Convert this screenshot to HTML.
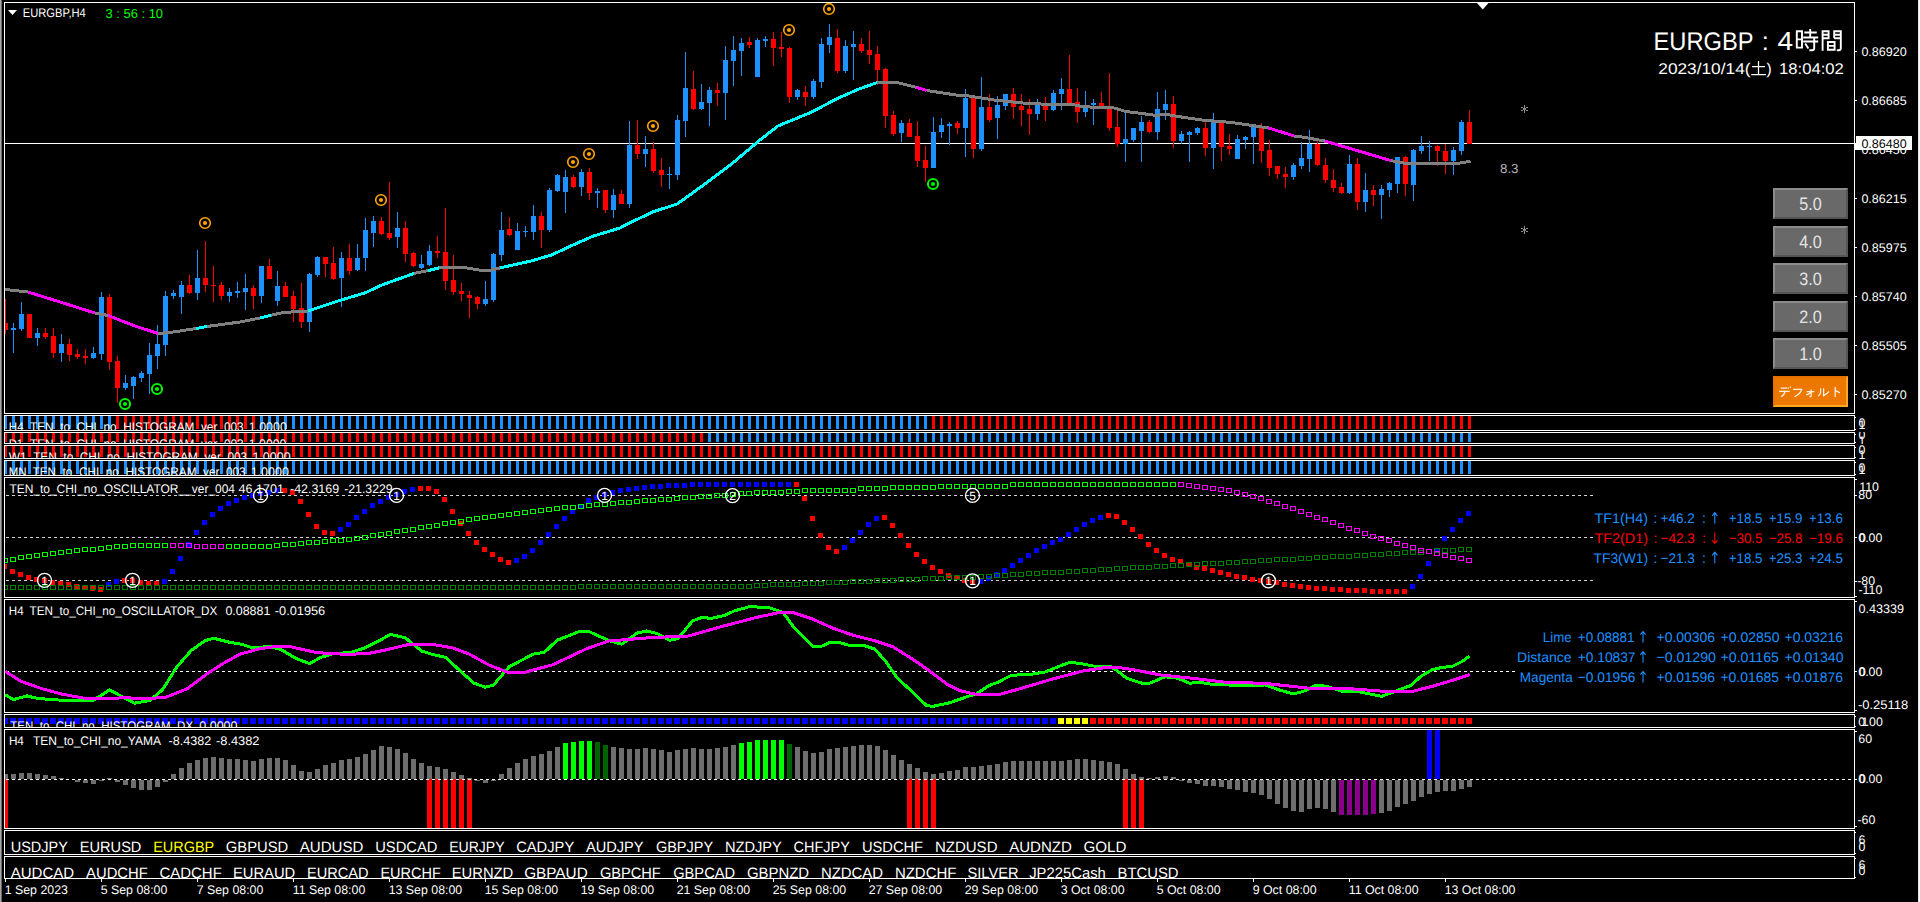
<!DOCTYPE html><html><head><meta charset="utf-8"><title>EURGBP,H4</title><style>html,body{margin:0;padding:0;background:#000;width:1920px;height:902px;overflow:hidden}</style></head><body><svg width="1920" height="902" viewBox="0 0 1920 902" style="display:block;font-family:'Liberation Sans',sans-serif" shape-rendering="crispEdges" text-rendering="geometricPrecision">
<rect x="0" y="0" width="1920" height="902" fill="#000" />
<rect x="0" y="0" width="1" height="902" fill="#A9A9A9" />
<rect x="1" y="0" width="1" height="902" fill="#696969" />
<rect x="1918" y="0" width="1" height="902" fill="#E3E3E3" />
<rect x="1919" y="0" width="1" height="902" fill="#FFFFFF" />
<defs>
<clipPath id="c_main"><rect x="5" y="3" width="1849" height="410"/></clipPath>
<clipPath id="s_main"><rect x="1855" y="2" width="64" height="412"/></clipPath>
<clipPath id="c_h4"><rect x="5" y="416" width="1849" height="14"/></clipPath>
<clipPath id="s_h4"><rect x="1855" y="415" width="64" height="16"/></clipPath>
<clipPath id="c_d1"><rect x="5" y="433" width="1849" height="10"/></clipPath>
<clipPath id="s_d1"><rect x="1855" y="432" width="64" height="12"/></clipPath>
<clipPath id="c_w1"><rect x="5" y="446" width="1849" height="12"/></clipPath>
<clipPath id="s_w1"><rect x="1855" y="445" width="64" height="14"/></clipPath>
<clipPath id="c_mn"><rect x="5" y="461" width="1849" height="14"/></clipPath>
<clipPath id="s_mn"><rect x="1855" y="460" width="64" height="16"/></clipPath>
<clipPath id="c_osc"><rect x="5" y="478" width="1849" height="119"/></clipPath>
<clipPath id="s_osc"><rect x="1855" y="477" width="64" height="121"/></clipPath>
<clipPath id="c_dx"><rect x="5" y="600" width="1849" height="112"/></clipPath>
<clipPath id="s_dx"><rect x="1855" y="599" width="64" height="114"/></clipPath>
<clipPath id="c_hdx"><rect x="5" y="715" width="1849" height="12"/></clipPath>
<clipPath id="s_hdx"><rect x="1855" y="714" width="64" height="14"/></clipPath>
<clipPath id="c_yama"><rect x="5" y="730" width="1849" height="98"/></clipPath>
<clipPath id="s_yama"><rect x="1855" y="729" width="64" height="100"/></clipPath>
<clipPath id="c_p1"><rect x="5" y="831" width="1849" height="23"/></clipPath>
<clipPath id="s_p1"><rect x="1855" y="830" width="64" height="25"/></clipPath>
<clipPath id="c_p2"><rect x="5" y="857" width="1849" height="21"/></clipPath>
<clipPath id="s_p2"><rect x="1855" y="856" width="64" height="23"/></clipPath>
</defs>
<g clip-path="url(#c_main)">
<rect x="5" y="143" width="1849" height="1" fill="#fff" />
<rect x="5" y="299" width="1" height="35" fill="#FF0000" />
<rect x="3" y="323" width="5" height="7" fill="#FF0000" />
<rect x="13" y="323" width="1" height="30" fill="#1E90FF" />
<rect x="11" y="328" width="5" height="2" fill="#1E90FF" />
<rect x="21" y="302" width="1" height="29" fill="#1E90FF" />
<rect x="19" y="314" width="5" height="15" fill="#1E90FF" />
<rect x="29" y="314" width="1" height="24" fill="#FF0000" />
<rect x="27" y="314" width="5" height="24" fill="#FF0000" />
<rect x="37" y="328" width="1" height="18" fill="#1E90FF" />
<rect x="35" y="333" width="5" height="5" fill="#1E90FF" />
<rect x="45" y="328" width="1" height="11" fill="#FF0000" />
<rect x="43" y="333" width="5" height="4" fill="#FF0000" />
<rect x="53" y="328" width="1" height="30" fill="#FF0000" />
<rect x="51" y="336" width="5" height="17" fill="#FF0000" />
<rect x="61" y="334" width="1" height="28" fill="#1E90FF" />
<rect x="59" y="344" width="5" height="9" fill="#1E90FF" />
<rect x="69" y="339" width="1" height="22" fill="#FF0000" />
<rect x="67" y="344" width="5" height="11" fill="#FF0000" />
<rect x="77" y="349" width="1" height="10" fill="#FF0000" />
<rect x="75" y="354" width="5" height="3" fill="#FF0000" />
<rect x="85" y="349" width="1" height="15" fill="#FF0000" />
<rect x="83" y="356" width="5" height="2" fill="#FF0000" />
<rect x="93" y="347" width="1" height="12" fill="#1E90FF" />
<rect x="91" y="353" width="5" height="5" fill="#1E90FF" />
<rect x="101" y="292" width="1" height="68" fill="#1E90FF" />
<rect x="99" y="297" width="5" height="57" fill="#1E90FF" />
<rect x="109" y="294" width="1" height="76" fill="#FF0000" />
<rect x="107" y="297" width="5" height="65" fill="#FF0000" />
<rect x="117" y="356" width="1" height="47" fill="#FF0000" />
<rect x="115" y="361" width="5" height="27" fill="#FF0000" />
<rect x="125" y="375" width="1" height="15" fill="#1E90FF" />
<rect x="123" y="383" width="5" height="5" fill="#1E90FF" />
<rect x="133" y="376" width="1" height="23" fill="#1E90FF" />
<rect x="131" y="377" width="5" height="9" fill="#1E90FF" />
<rect x="141" y="371" width="1" height="11" fill="#1E90FF" />
<rect x="139" y="373" width="5" height="5" fill="#1E90FF" />
<rect x="149" y="343" width="1" height="51" fill="#1E90FF" />
<rect x="147" y="355" width="5" height="19" fill="#1E90FF" />
<rect x="157" y="325" width="1" height="44" fill="#1E90FF" />
<rect x="155" y="344" width="5" height="12" fill="#1E90FF" />
<rect x="165" y="291" width="1" height="65" fill="#1E90FF" />
<rect x="163" y="296" width="5" height="49" fill="#1E90FF" />
<rect x="173" y="290" width="1" height="9" fill="#1E90FF" />
<rect x="171" y="293" width="5" height="3" fill="#1E90FF" />
<rect x="181" y="281" width="1" height="33" fill="#1E90FF" />
<rect x="179" y="285" width="5" height="12" fill="#1E90FF" />
<rect x="189" y="275" width="1" height="19" fill="#FF0000" />
<rect x="187" y="285" width="5" height="8" fill="#FF0000" />
<rect x="197" y="250" width="1" height="50" fill="#1E90FF" />
<rect x="195" y="278" width="5" height="15" fill="#1E90FF" />
<rect x="205" y="241" width="1" height="51" fill="#FF0000" />
<rect x="203" y="278" width="5" height="7" fill="#FF0000" />
<rect x="213" y="266" width="1" height="36" fill="#FF0000" />
<rect x="211" y="285" width="5" height="1" fill="#FF0000" />
<rect x="221" y="282" width="1" height="18" fill="#FF0000" />
<rect x="219" y="285" width="5" height="11" fill="#FF0000" />
<rect x="229" y="288" width="1" height="14" fill="#1E90FF" />
<rect x="227" y="292" width="5" height="4" fill="#1E90FF" />
<rect x="237" y="282" width="1" height="16" fill="#1E90FF" />
<rect x="235" y="291" width="5" height="2" fill="#1E90FF" />
<rect x="245" y="274" width="1" height="36" fill="#1E90FF" />
<rect x="243" y="288" width="5" height="4" fill="#1E90FF" />
<rect x="253" y="285" width="1" height="24" fill="#FF0000" />
<rect x="251" y="288" width="5" height="8" fill="#FF0000" />
<rect x="261" y="266" width="1" height="37" fill="#1E90FF" />
<rect x="259" y="266" width="5" height="30" fill="#1E90FF" />
<rect x="269" y="259" width="1" height="20" fill="#FF0000" />
<rect x="267" y="266" width="5" height="13" fill="#FF0000" />
<rect x="277" y="271" width="1" height="35" fill="#1E90FF" />
<rect x="275" y="286" width="5" height="15" fill="#1E90FF" />
<rect x="285" y="282" width="1" height="15" fill="#FF0000" />
<rect x="283" y="286" width="5" height="11" fill="#FF0000" />
<rect x="293" y="291" width="1" height="31" fill="#FF0000" />
<rect x="291" y="296" width="5" height="13" fill="#FF0000" />
<rect x="301" y="283" width="1" height="45" fill="#FF0000" />
<rect x="299" y="308" width="5" height="14" fill="#FF0000" />
<rect x="309" y="273" width="1" height="59" fill="#1E90FF" />
<rect x="307" y="274" width="5" height="48" fill="#1E90FF" />
<rect x="317" y="256" width="1" height="21" fill="#1E90FF" />
<rect x="315" y="257" width="5" height="18" fill="#1E90FF" />
<rect x="325" y="257" width="1" height="20" fill="#FF0000" />
<rect x="323" y="257" width="5" height="7" fill="#FF0000" />
<rect x="333" y="247" width="1" height="33" fill="#FF0000" />
<rect x="331" y="263" width="5" height="16" fill="#FF0000" />
<rect x="341" y="252" width="1" height="55" fill="#1E90FF" />
<rect x="339" y="258" width="5" height="20" fill="#1E90FF" />
<rect x="349" y="244" width="1" height="31" fill="#FF0000" />
<rect x="347" y="258" width="5" height="13" fill="#FF0000" />
<rect x="357" y="244" width="1" height="27" fill="#1E90FF" />
<rect x="355" y="258" width="5" height="12" fill="#1E90FF" />
<rect x="365" y="218" width="1" height="53" fill="#1E90FF" />
<rect x="363" y="230" width="5" height="28" fill="#1E90FF" />
<rect x="373" y="216" width="1" height="31" fill="#1E90FF" />
<rect x="371" y="221" width="5" height="12" fill="#1E90FF" />
<rect x="381" y="217" width="1" height="18" fill="#FF0000" />
<rect x="379" y="221" width="5" height="13" fill="#FF0000" />
<rect x="389" y="182" width="1" height="58" fill="#FF0000" />
<rect x="387" y="233" width="5" height="5" fill="#FF0000" />
<rect x="397" y="212" width="1" height="36" fill="#1E90FF" />
<rect x="395" y="228" width="5" height="9" fill="#1E90FF" />
<rect x="405" y="221" width="1" height="41" fill="#FF0000" />
<rect x="403" y="228" width="5" height="26" fill="#FF0000" />
<rect x="413" y="252" width="1" height="15" fill="#FF0000" />
<rect x="411" y="253" width="5" height="13" fill="#FF0000" />
<rect x="421" y="255" width="1" height="14" fill="#1E90FF" />
<rect x="419" y="264" width="5" height="4" fill="#1E90FF" />
<rect x="429" y="245" width="1" height="21" fill="#1E90FF" />
<rect x="427" y="251" width="5" height="14" fill="#1E90FF" />
<rect x="437" y="236" width="1" height="22" fill="#FF0000" />
<rect x="435" y="251" width="5" height="2" fill="#FF0000" />
<rect x="445" y="208" width="1" height="82" fill="#FF0000" />
<rect x="443" y="252" width="5" height="29" fill="#FF0000" />
<rect x="453" y="255" width="1" height="40" fill="#FF0000" />
<rect x="451" y="280" width="5" height="12" fill="#FF0000" />
<rect x="461" y="283" width="1" height="18" fill="#FF0000" />
<rect x="459" y="291" width="5" height="3" fill="#FF0000" />
<rect x="469" y="291" width="1" height="27" fill="#FF0000" />
<rect x="467" y="295" width="5" height="3" fill="#FF0000" />
<rect x="477" y="296" width="1" height="13" fill="#FF0000" />
<rect x="475" y="297" width="5" height="7" fill="#FF0000" />
<rect x="485" y="281" width="1" height="25" fill="#1E90FF" />
<rect x="483" y="299" width="5" height="5" fill="#1E90FF" />
<rect x="493" y="253" width="1" height="49" fill="#1E90FF" />
<rect x="491" y="254" width="5" height="46" fill="#1E90FF" />
<rect x="501" y="212" width="1" height="49" fill="#1E90FF" />
<rect x="499" y="230" width="5" height="25" fill="#1E90FF" />
<rect x="509" y="217" width="1" height="19" fill="#FF0000" />
<rect x="507" y="229" width="5" height="6" fill="#FF0000" />
<rect x="517" y="223" width="1" height="27" fill="#1E90FF" />
<rect x="515" y="231" width="5" height="19" fill="#1E90FF" />
<rect x="525" y="226" width="1" height="11" fill="#1E90FF" />
<rect x="523" y="231" width="5" height="1" fill="#1E90FF" />
<rect x="533" y="205" width="1" height="35" fill="#1E90FF" />
<rect x="531" y="216" width="5" height="16" fill="#1E90FF" />
<rect x="541" y="212" width="1" height="36" fill="#FF0000" />
<rect x="539" y="216" width="5" height="14" fill="#FF0000" />
<rect x="549" y="188" width="1" height="44" fill="#1E90FF" />
<rect x="547" y="190" width="5" height="40" fill="#1E90FF" />
<rect x="557" y="174" width="1" height="18" fill="#1E90FF" />
<rect x="555" y="175" width="5" height="16" fill="#1E90FF" />
<rect x="565" y="170" width="1" height="43" fill="#1E90FF" />
<rect x="563" y="177" width="5" height="15" fill="#1E90FF" />
<rect x="573" y="175" width="1" height="13" fill="#FF0000" />
<rect x="571" y="177" width="5" height="10" fill="#FF0000" />
<rect x="581" y="169" width="1" height="27" fill="#1E90FF" />
<rect x="579" y="172" width="5" height="15" fill="#1E90FF" />
<rect x="589" y="168" width="1" height="32" fill="#FF0000" />
<rect x="587" y="172" width="5" height="21" fill="#FF0000" />
<rect x="597" y="188" width="1" height="20" fill="#1E90FF" />
<rect x="595" y="191" width="5" height="2" fill="#1E90FF" />
<rect x="605" y="190" width="1" height="23" fill="#FF0000" />
<rect x="603" y="190" width="5" height="20" fill="#FF0000" />
<rect x="613" y="189" width="1" height="29" fill="#1E90FF" />
<rect x="611" y="195" width="5" height="15" fill="#1E90FF" />
<rect x="621" y="190" width="1" height="14" fill="#FF0000" />
<rect x="619" y="194" width="5" height="10" fill="#FF0000" />
<rect x="629" y="121" width="1" height="87" fill="#1E90FF" />
<rect x="627" y="145" width="5" height="59" fill="#1E90FF" />
<rect x="637" y="120" width="1" height="39" fill="#FF0000" />
<rect x="635" y="145" width="5" height="9" fill="#FF0000" />
<rect x="645" y="136" width="1" height="31" fill="#1E90FF" />
<rect x="643" y="149" width="5" height="5" fill="#1E90FF" />
<rect x="653" y="142" width="1" height="31" fill="#FF0000" />
<rect x="651" y="149" width="5" height="22" fill="#FF0000" />
<rect x="661" y="158" width="1" height="29" fill="#FF0000" />
<rect x="659" y="170" width="5" height="5" fill="#FF0000" />
<rect x="669" y="167" width="1" height="22" fill="#1E90FF" />
<rect x="667" y="174" width="5" height="1" fill="#1E90FF" />
<rect x="677" y="115" width="1" height="65" fill="#1E90FF" />
<rect x="675" y="120" width="5" height="55" fill="#1E90FF" />
<rect x="685" y="52" width="1" height="85" fill="#1E90FF" />
<rect x="683" y="88" width="5" height="33" fill="#1E90FF" />
<rect x="693" y="71" width="1" height="39" fill="#FF0000" />
<rect x="691" y="89" width="5" height="20" fill="#FF0000" />
<rect x="701" y="84" width="1" height="26" fill="#1E90FF" />
<rect x="699" y="102" width="5" height="7" fill="#1E90FF" />
<rect x="709" y="87" width="1" height="39" fill="#1E90FF" />
<rect x="707" y="90" width="5" height="13" fill="#1E90FF" />
<rect x="717" y="83" width="1" height="23" fill="#FF0000" />
<rect x="715" y="90" width="5" height="3" fill="#FF0000" />
<rect x="725" y="46" width="1" height="74" fill="#1E90FF" />
<rect x="723" y="60" width="5" height="33" fill="#1E90FF" />
<rect x="733" y="36" width="1" height="50" fill="#1E90FF" />
<rect x="731" y="50" width="5" height="11" fill="#1E90FF" />
<rect x="741" y="38" width="1" height="38" fill="#1E90FF" />
<rect x="739" y="43" width="5" height="8" fill="#1E90FF" />
<rect x="749" y="37" width="1" height="11" fill="#FF0000" />
<rect x="747" y="42" width="5" height="3" fill="#FF0000" />
<rect x="757" y="38" width="1" height="39" fill="#1E90FF" />
<rect x="755" y="40" width="5" height="37" fill="#1E90FF" />
<rect x="765" y="36" width="1" height="11" fill="#1E90FF" />
<rect x="763" y="39" width="5" height="2" fill="#1E90FF" />
<rect x="773" y="32" width="1" height="34" fill="#FF0000" />
<rect x="771" y="39" width="5" height="9" fill="#FF0000" />
<rect x="781" y="32" width="1" height="25" fill="#FF0000" />
<rect x="779" y="47" width="5" height="2" fill="#FF0000" />
<rect x="789" y="47" width="1" height="56" fill="#FF0000" />
<rect x="787" y="48" width="5" height="49" fill="#FF0000" />
<rect x="797" y="89" width="1" height="11" fill="#1E90FF" />
<rect x="795" y="90" width="5" height="7" fill="#1E90FF" />
<rect x="805" y="86" width="1" height="20" fill="#FF0000" />
<rect x="803" y="92" width="5" height="5" fill="#FF0000" />
<rect x="813" y="79" width="1" height="20" fill="#1E90FF" />
<rect x="811" y="81" width="5" height="16" fill="#1E90FF" />
<rect x="821" y="38" width="1" height="50" fill="#1E90FF" />
<rect x="819" y="44" width="5" height="38" fill="#1E90FF" />
<rect x="829" y="24" width="1" height="29" fill="#1E90FF" />
<rect x="827" y="37" width="5" height="8" fill="#1E90FF" />
<rect x="837" y="29" width="1" height="44" fill="#FF0000" />
<rect x="835" y="38" width="5" height="33" fill="#FF0000" />
<rect x="845" y="40" width="1" height="33" fill="#1E90FF" />
<rect x="843" y="46" width="5" height="25" fill="#1E90FF" />
<rect x="853" y="31" width="1" height="49" fill="#1E90FF" />
<rect x="851" y="44" width="5" height="3" fill="#1E90FF" />
<rect x="861" y="38" width="1" height="15" fill="#FF0000" />
<rect x="859" y="44" width="5" height="7" fill="#FF0000" />
<rect x="869" y="31" width="1" height="33" fill="#FF0000" />
<rect x="867" y="50" width="5" height="5" fill="#FF0000" />
<rect x="877" y="46" width="1" height="39" fill="#FF0000" />
<rect x="875" y="54" width="5" height="16" fill="#FF0000" />
<rect x="885" y="68" width="1" height="60" fill="#FF0000" />
<rect x="883" y="69" width="5" height="47" fill="#FF0000" />
<rect x="893" y="111" width="1" height="25" fill="#FF0000" />
<rect x="891" y="115" width="5" height="19" fill="#FF0000" />
<rect x="901" y="120" width="1" height="22" fill="#1E90FF" />
<rect x="899" y="123" width="5" height="10" fill="#1E90FF" />
<rect x="909" y="119" width="1" height="18" fill="#FF0000" />
<rect x="907" y="123" width="5" height="14" fill="#FF0000" />
<rect x="917" y="121" width="1" height="46" fill="#FF0000" />
<rect x="915" y="136" width="5" height="25" fill="#FF0000" />
<rect x="925" y="146" width="1" height="36" fill="#FF0000" />
<rect x="923" y="160" width="5" height="8" fill="#FF0000" />
<rect x="933" y="117" width="1" height="51" fill="#1E90FF" />
<rect x="931" y="132" width="5" height="36" fill="#1E90FF" />
<rect x="941" y="118" width="1" height="20" fill="#1E90FF" />
<rect x="939" y="125" width="5" height="7" fill="#1E90FF" />
<rect x="949" y="122" width="1" height="23" fill="#1E90FF" />
<rect x="947" y="124" width="5" height="2" fill="#1E90FF" />
<rect x="957" y="121" width="1" height="13" fill="#FF0000" />
<rect x="955" y="123" width="5" height="5" fill="#FF0000" />
<rect x="965" y="89" width="1" height="68" fill="#1E90FF" />
<rect x="963" y="98" width="5" height="30" fill="#1E90FF" />
<rect x="973" y="98" width="1" height="60" fill="#FF0000" />
<rect x="971" y="98" width="5" height="51" fill="#FF0000" />
<rect x="981" y="77" width="1" height="74" fill="#1E90FF" />
<rect x="979" y="107" width="5" height="42" fill="#1E90FF" />
<rect x="989" y="94" width="1" height="28" fill="#FF0000" />
<rect x="987" y="107" width="5" height="13" fill="#FF0000" />
<rect x="997" y="96" width="1" height="43" fill="#1E90FF" />
<rect x="995" y="105" width="5" height="13" fill="#1E90FF" />
<rect x="1005" y="94" width="1" height="16" fill="#1E90FF" />
<rect x="1003" y="94" width="5" height="12" fill="#1E90FF" />
<rect x="1013" y="88" width="1" height="31" fill="#FF0000" />
<rect x="1011" y="94" width="5" height="13" fill="#FF0000" />
<rect x="1021" y="94" width="1" height="32" fill="#FF0000" />
<rect x="1019" y="106" width="5" height="4" fill="#FF0000" />
<rect x="1029" y="99" width="1" height="36" fill="#FF0000" />
<rect x="1027" y="109" width="5" height="5" fill="#FF0000" />
<rect x="1037" y="99" width="1" height="21" fill="#1E90FF" />
<rect x="1035" y="105" width="5" height="9" fill="#1E90FF" />
<rect x="1045" y="97" width="1" height="24" fill="#FF0000" />
<rect x="1043" y="105" width="5" height="5" fill="#FF0000" />
<rect x="1053" y="90" width="1" height="21" fill="#1E90FF" />
<rect x="1051" y="93" width="5" height="17" fill="#1E90FF" />
<rect x="1061" y="78" width="1" height="32" fill="#1E90FF" />
<rect x="1059" y="89" width="5" height="5" fill="#1E90FF" />
<rect x="1069" y="55" width="1" height="49" fill="#FF0000" />
<rect x="1067" y="89" width="5" height="15" fill="#FF0000" />
<rect x="1077" y="88" width="1" height="35" fill="#FF0000" />
<rect x="1075" y="102" width="5" height="10" fill="#FF0000" />
<rect x="1085" y="91" width="1" height="26" fill="#1E90FF" />
<rect x="1083" y="107" width="5" height="5" fill="#1E90FF" />
<rect x="1093" y="99" width="1" height="26" fill="#1E90FF" />
<rect x="1091" y="103" width="5" height="2" fill="#1E90FF" />
<rect x="1101" y="92" width="1" height="14" fill="#FF0000" />
<rect x="1099" y="103" width="5" height="3" fill="#FF0000" />
<rect x="1109" y="73" width="1" height="58" fill="#FF0000" />
<rect x="1107" y="107" width="5" height="21" fill="#FF0000" />
<rect x="1117" y="111" width="1" height="36" fill="#FF0000" />
<rect x="1115" y="127" width="5" height="17" fill="#FF0000" />
<rect x="1125" y="113" width="1" height="49" fill="#1E90FF" />
<rect x="1123" y="139" width="5" height="5" fill="#1E90FF" />
<rect x="1133" y="128" width="1" height="14" fill="#1E90FF" />
<rect x="1131" y="128" width="5" height="12" fill="#1E90FF" />
<rect x="1141" y="116" width="1" height="46" fill="#1E90FF" />
<rect x="1139" y="122" width="5" height="9" fill="#1E90FF" />
<rect x="1149" y="120" width="1" height="13" fill="#FF0000" />
<rect x="1147" y="122" width="5" height="10" fill="#FF0000" />
<rect x="1157" y="92" width="1" height="48" fill="#1E90FF" />
<rect x="1155" y="109" width="5" height="23" fill="#1E90FF" />
<rect x="1165" y="90" width="1" height="30" fill="#1E90FF" />
<rect x="1163" y="104" width="5" height="6" fill="#1E90FF" />
<rect x="1173" y="96" width="1" height="52" fill="#FF0000" />
<rect x="1171" y="104" width="5" height="37" fill="#FF0000" />
<rect x="1181" y="131" width="1" height="13" fill="#1E90FF" />
<rect x="1179" y="134" width="5" height="7" fill="#1E90FF" />
<rect x="1189" y="131" width="1" height="31" fill="#1E90FF" />
<rect x="1187" y="132" width="5" height="3" fill="#1E90FF" />
<rect x="1197" y="127" width="1" height="8" fill="#1E90FF" />
<rect x="1195" y="128" width="5" height="5" fill="#1E90FF" />
<rect x="1205" y="122" width="1" height="34" fill="#FF0000" />
<rect x="1203" y="128" width="5" height="20" fill="#FF0000" />
<rect x="1213" y="113" width="1" height="56" fill="#1E90FF" />
<rect x="1211" y="122" width="5" height="26" fill="#1E90FF" />
<rect x="1221" y="123" width="1" height="38" fill="#FF0000" />
<rect x="1219" y="123" width="5" height="24" fill="#FF0000" />
<rect x="1229" y="134" width="1" height="21" fill="#FF0000" />
<rect x="1227" y="146" width="5" height="3" fill="#FF0000" />
<rect x="1237" y="135" width="1" height="24" fill="#1E90FF" />
<rect x="1235" y="139" width="5" height="20" fill="#1E90FF" />
<rect x="1245" y="136" width="1" height="13" fill="#1E90FF" />
<rect x="1243" y="137" width="5" height="3" fill="#1E90FF" />
<rect x="1253" y="125" width="1" height="39" fill="#1E90FF" />
<rect x="1251" y="127" width="5" height="10" fill="#1E90FF" />
<rect x="1261" y="123" width="1" height="40" fill="#FF0000" />
<rect x="1259" y="128" width="5" height="23" fill="#FF0000" />
<rect x="1269" y="140" width="1" height="36" fill="#FF0000" />
<rect x="1267" y="150" width="5" height="18" fill="#FF0000" />
<rect x="1277" y="166" width="1" height="13" fill="#FF0000" />
<rect x="1275" y="166" width="5" height="8" fill="#FF0000" />
<rect x="1285" y="167" width="1" height="21" fill="#FF0000" />
<rect x="1283" y="174" width="5" height="3" fill="#FF0000" />
<rect x="1293" y="163" width="1" height="17" fill="#1E90FF" />
<rect x="1291" y="165" width="5" height="12" fill="#1E90FF" />
<rect x="1301" y="142" width="1" height="27" fill="#1E90FF" />
<rect x="1299" y="158" width="5" height="8" fill="#1E90FF" />
<rect x="1309" y="130" width="1" height="42" fill="#1E90FF" />
<rect x="1307" y="144" width="5" height="15" fill="#1E90FF" />
<rect x="1317" y="141" width="1" height="25" fill="#FF0000" />
<rect x="1315" y="144" width="5" height="21" fill="#FF0000" />
<rect x="1325" y="158" width="1" height="25" fill="#FF0000" />
<rect x="1323" y="165" width="5" height="15" fill="#FF0000" />
<rect x="1333" y="169" width="1" height="23" fill="#FF0000" />
<rect x="1331" y="180" width="5" height="8" fill="#FF0000" />
<rect x="1341" y="183" width="1" height="11" fill="#FF0000" />
<rect x="1339" y="187" width="5" height="6" fill="#FF0000" />
<rect x="1349" y="155" width="1" height="39" fill="#1E90FF" />
<rect x="1347" y="164" width="5" height="29" fill="#1E90FF" />
<rect x="1357" y="158" width="1" height="52" fill="#FF0000" />
<rect x="1355" y="164" width="5" height="38" fill="#FF0000" />
<rect x="1365" y="173" width="1" height="39" fill="#1E90FF" />
<rect x="1363" y="190" width="5" height="12" fill="#1E90FF" />
<rect x="1373" y="185" width="1" height="21" fill="#FF0000" />
<rect x="1371" y="190" width="5" height="5" fill="#FF0000" />
<rect x="1381" y="185" width="1" height="34" fill="#1E90FF" />
<rect x="1379" y="189" width="5" height="6" fill="#1E90FF" />
<rect x="1389" y="182" width="1" height="15" fill="#1E90FF" />
<rect x="1387" y="183" width="5" height="7" fill="#1E90FF" />
<rect x="1397" y="157" width="1" height="36" fill="#1E90FF" />
<rect x="1395" y="157" width="5" height="27" fill="#1E90FF" />
<rect x="1405" y="156" width="1" height="40" fill="#FF0000" />
<rect x="1403" y="157" width="5" height="27" fill="#FF0000" />
<rect x="1413" y="149" width="1" height="52" fill="#1E90FF" />
<rect x="1411" y="150" width="5" height="35" fill="#1E90FF" />
<rect x="1421" y="136" width="1" height="18" fill="#1E90FF" />
<rect x="1419" y="146" width="5" height="5" fill="#1E90FF" />
<rect x="1429" y="141" width="1" height="20" fill="#1E90FF" />
<rect x="1427" y="146" width="5" height="1" fill="#1E90FF" />
<rect x="1437" y="145" width="1" height="21" fill="#FF0000" />
<rect x="1435" y="146" width="5" height="5" fill="#FF0000" />
<rect x="1445" y="144" width="1" height="30" fill="#FF0000" />
<rect x="1443" y="151" width="5" height="10" fill="#FF0000" />
<rect x="1453" y="147" width="1" height="28" fill="#1E90FF" />
<rect x="1451" y="150" width="5" height="11" fill="#1E90FF" />
<rect x="1461" y="120" width="1" height="35" fill="#1E90FF" />
<rect x="1459" y="122" width="5" height="29" fill="#1E90FF" />
<rect x="1469" y="110" width="1" height="34" fill="#FF0000" />
<rect x="1467" y="122" width="5" height="22" fill="#FF0000" />
<polyline points="4,289.3 28,292" fill="none" stroke="#808080" stroke-width="3" stroke-linejoin="round" shape-rendering="crispEdges"/>
<polyline points="28,292 60,302 95,313" fill="none" stroke="#FF00FF" stroke-width="3" stroke-linejoin="round" shape-rendering="crispEdges"/>
<polyline points="95,313 108,315.5" fill="none" stroke="#808080" stroke-width="3" stroke-linejoin="round" shape-rendering="crispEdges"/>
<polyline points="108,315.5 135,326 158,333.5" fill="none" stroke="#FF00FF" stroke-width="3" stroke-linejoin="round" shape-rendering="crispEdges"/>
<polyline points="158,333.5 170,332.5 196,328.5" fill="none" stroke="#808080" stroke-width="3" stroke-linejoin="round" shape-rendering="crispEdges"/>
<polyline points="196,328.5 207,326.5" fill="none" stroke="#00FFFF" stroke-width="3" stroke-linejoin="round" shape-rendering="crispEdges"/>
<polyline points="207,326.5 240,322 260,318" fill="none" stroke="#808080" stroke-width="3" stroke-linejoin="round" shape-rendering="crispEdges"/>
<polyline points="260,318 271,315.2" fill="none" stroke="#00FFFF" stroke-width="3" stroke-linejoin="round" shape-rendering="crispEdges"/>
<polyline points="271,315.2 284,312.4 308,311" fill="none" stroke="#808080" stroke-width="3" stroke-linejoin="round" shape-rendering="crispEdges"/>
<polyline points="308,311 339,300.7 366,292.5 380,285.7 414,273.4" fill="none" stroke="#00FFFF" stroke-width="3" stroke-linejoin="round" shape-rendering="crispEdges"/>
<polyline points="414,273.4 428,270.6" fill="none" stroke="#808080" stroke-width="3" stroke-linejoin="round" shape-rendering="crispEdges"/>
<polyline points="428,270.6 439,267.9" fill="none" stroke="#00FFFF" stroke-width="3" stroke-linejoin="round" shape-rendering="crispEdges"/>
<polyline points="439,267.9 442,267.2 465,267.6 482,270.6 490,270.3 500,267.9" fill="none" stroke="#808080" stroke-width="3" stroke-linejoin="round" shape-rendering="crispEdges"/>
<polyline points="500,267.9 531,261 552,254.8 572.5,245.2 593,236.2 620,228 628,223.7 652.7,212 677.5,203.8 705,183.9 732.5,163.2 760,139.9 778,126 811,112.3 838.7,97.9 859.3,88.9 877.5,82.5" fill="none" stroke="#00FFFF" stroke-width="3" stroke-linejoin="round" shape-rendering="crispEdges"/>
<polyline points="877.5,82.5 897,82.6 916.4,87.3" fill="none" stroke="#808080" stroke-width="3" stroke-linejoin="round" shape-rendering="crispEdges"/>
<polyline points="916.4,87.3 926.7,90.5" fill="none" stroke="#FF00FF" stroke-width="3" stroke-linejoin="round" shape-rendering="crispEdges"/>
<polyline points="926.7,90.5 956,95 967,95.7 997.5,100.5 1025,103.2 1052.5,104.6 1073,104.6 1082.7,106.7 1100,107.4 1111.6,107.2 1125.4,111.4 1157,115.5 1165,114.1 1176,116.2 1203.7,120.3 1231,122.4 1268.3,127.9" fill="none" stroke="#808080" stroke-width="3" stroke-linejoin="round" shape-rendering="crispEdges"/>
<polyline points="1268.3,127.9 1294.5,136.1" fill="none" stroke="#FF00FF" stroke-width="3" stroke-linejoin="round" shape-rendering="crispEdges"/>
<polyline points="1294.5,136.1 1300,136.6 1324.7,141" fill="none" stroke="#808080" stroke-width="3" stroke-linejoin="round" shape-rendering="crispEdges"/>
<polyline points="1324.7,141 1390.7,160.5" fill="none" stroke="#FF00FF" stroke-width="3" stroke-linejoin="round" shape-rendering="crispEdges"/>
<polyline points="1390.7,160.5 1404.5,163.2 1456.7,163.5 1470.5,161.2" fill="none" stroke="#808080" stroke-width="3" stroke-linejoin="round" shape-rendering="crispEdges"/>
<circle cx="205" cy="223" r="5.3" fill="none" stroke="#FFA500" stroke-width="1.6" shape-rendering="auto"/><circle cx="205" cy="223" r="2.1" fill="#FFA500" shape-rendering="auto"/>
<circle cx="381" cy="200" r="5.3" fill="none" stroke="#FFA500" stroke-width="1.6" shape-rendering="auto"/><circle cx="381" cy="200" r="2.1" fill="#FFA500" shape-rendering="auto"/>
<circle cx="573" cy="162" r="5.3" fill="none" stroke="#FFA500" stroke-width="1.6" shape-rendering="auto"/><circle cx="573" cy="162" r="2.1" fill="#FFA500" shape-rendering="auto"/>
<circle cx="589" cy="154" r="5.3" fill="none" stroke="#FFA500" stroke-width="1.6" shape-rendering="auto"/><circle cx="589" cy="154" r="2.1" fill="#FFA500" shape-rendering="auto"/>
<circle cx="653" cy="126" r="5.3" fill="none" stroke="#FFA500" stroke-width="1.6" shape-rendering="auto"/><circle cx="653" cy="126" r="2.1" fill="#FFA500" shape-rendering="auto"/>
<circle cx="789" cy="30" r="5.3" fill="none" stroke="#FFA500" stroke-width="1.6" shape-rendering="auto"/><circle cx="789" cy="30" r="2.1" fill="#FFA500" shape-rendering="auto"/>
<circle cx="829" cy="9" r="5.3" fill="none" stroke="#FFA500" stroke-width="1.6" shape-rendering="auto"/><circle cx="829" cy="9" r="2.1" fill="#FFA500" shape-rendering="auto"/>
<circle cx="125" cy="404" r="5.1" fill="none" stroke="#00F400" stroke-width="2" shape-rendering="auto"/><circle cx="125" cy="404" r="2.1" fill="#00F400" shape-rendering="auto"/>
<circle cx="157" cy="389" r="5.1" fill="none" stroke="#00F400" stroke-width="2" shape-rendering="auto"/><circle cx="157" cy="389" r="2.1" fill="#00F400" shape-rendering="auto"/>
<circle cx="933" cy="184" r="5.1" fill="none" stroke="#00F400" stroke-width="2" shape-rendering="auto"/><circle cx="933" cy="184" r="2.1" fill="#00F400" shape-rendering="auto"/>
</g>
<path d="M8 10h9l-4.5 5z" fill="#fff" shape-rendering="auto"/>
<text x="22.8" y="17" font-size="12.5" fill="#fff" textLength="63.00" lengthAdjust="spacingAndGlyphs" style="white-space:pre" >EURGBP,H4</text>
<text x="105.6" y="18" font-size="13" fill="#00FF00" textLength="57.40" lengthAdjust="spacingAndGlyphs" style="white-space:pre" >3 : 56 : 10</text>
<path d="M1477 3h11.5l-5.75 6.5z" fill="#fff" shape-rendering="auto"/>
<rect x="1524" y="105" width="1" height="8" fill="#8c8c8c" />
<rect x="1521" y="107" width="2" height="1" fill="#8c8c8c" />
<rect x="1526" y="107" width="2" height="1" fill="#8c8c8c" />
<rect x="1521" y="110" width="2" height="1" fill="#8c8c8c" />
<rect x="1526" y="110" width="2" height="1" fill="#8c8c8c" />
<rect x="1523" y="108" width="3" height="2" fill="#8c8c8c" />
<rect x="1524" y="226" width="1" height="8" fill="#8c8c8c" />
<rect x="1521" y="228" width="2" height="1" fill="#8c8c8c" />
<rect x="1526" y="228" width="2" height="1" fill="#8c8c8c" />
<rect x="1521" y="231" width="2" height="1" fill="#8c8c8c" />
<rect x="1526" y="231" width="2" height="1" fill="#8c8c8c" />
<rect x="1523" y="229" width="3" height="2" fill="#8c8c8c" />
<text x="1500" y="173" font-size="13" fill="#b4b4b4" textLength="18.50" lengthAdjust="spacingAndGlyphs" style="white-space:pre" >8.3</text>
<text x="1653.5" y="49.8" font-size="25.5" fill="#fff" textLength="100.00" lengthAdjust="spacingAndGlyphs" style="white-space:pre" >EURGBP</text>
<text x="1761.8" y="49.8" font-size="25.5" fill="#fff" style="white-space:pre" >:</text>
<text x="1777.6" y="49.8" font-size="26.3" fill="#fff" textLength="15.60" lengthAdjust="spacingAndGlyphs" style="white-space:pre" >4</text>
<path d="M1796.8 31.2H1802V47.6H1796.8ZM1796.8 39.4H1802M1810.2 29V37.5M1804.3 32.5H1816.8M1803.2 37.5H1818.2M1803.2 41.5H1818.2M1814.2 37.5V48.3Q1814.2 50.2 1812.2 50.2H1809.3M1805.2 43.6L1808.4 48.5M1822.6 30.3V50.7M1822.6 31.2H1828.6V38.2H1822.6M1822.6 34.7H1828.6M1834.2 38.2V31.2H1840.8V48.3Q1840.8 50.2 1838.8 50.2H1836.8M1834.2 34.7H1840.8M1834.2 38.2H1840.8M1827.9 42H1834.6V49.8H1827.9ZM1827.9 45.9H1834.6" fill="none" stroke="#fff" stroke-width="1.9" shape-rendering="auto"/>
<text x="1658.3" y="74.1" font-size="15.5" fill="#fff" textLength="92.20" lengthAdjust="spacingAndGlyphs" style="white-space:pre" >2023/10/14(</text>
<path d="M1758.5 61V74.5M1752.1 66.5H1765M1751.2 74.5H1765.9" fill="none" stroke="#fff" stroke-width="1.25" shape-rendering="auto"/>
<text x="1766.4" y="74.1" font-size="15.5" fill="#fff" style="white-space:pre" >)</text>
<text x="1779" y="74.1" font-size="15.5" fill="#fff" textLength="64.80" lengthAdjust="spacingAndGlyphs" style="white-space:pre" >18:04:02</text>
<rect x="1773" y="188" width="75" height="31" fill="#555555" />
<path d="M1773 188h75l-2 2h-71v27l-2 2z" fill="#8c8c8c" shape-rendering="auto"/>
<rect x="1775" y="190" width="71" height="27" fill="#696969" />
<text x="1810.5" y="210" font-size="18" fill="#e4e4e4" text-anchor="middle" textLength="22.50" lengthAdjust="spacingAndGlyphs" style="white-space:pre" >5.0</text>
<rect x="1773" y="226" width="75" height="31" fill="#555555" />
<path d="M1773 226h75l-2 2h-71v27l-2 2z" fill="#8c8c8c" shape-rendering="auto"/>
<rect x="1775" y="228" width="71" height="27" fill="#696969" />
<text x="1810.5" y="248" font-size="18" fill="#e4e4e4" text-anchor="middle" textLength="22.50" lengthAdjust="spacingAndGlyphs" style="white-space:pre" >4.0</text>
<rect x="1773" y="263" width="75" height="31" fill="#555555" />
<path d="M1773 263h75l-2 2h-71v27l-2 2z" fill="#8c8c8c" shape-rendering="auto"/>
<rect x="1775" y="265" width="71" height="27" fill="#696969" />
<text x="1810.5" y="285" font-size="18" fill="#e4e4e4" text-anchor="middle" textLength="22.50" lengthAdjust="spacingAndGlyphs" style="white-space:pre" >3.0</text>
<rect x="1773" y="301" width="75" height="31" fill="#555555" />
<path d="M1773 301h75l-2 2h-71v27l-2 2z" fill="#8c8c8c" shape-rendering="auto"/>
<rect x="1775" y="303" width="71" height="27" fill="#696969" />
<text x="1810.5" y="323" font-size="18" fill="#e4e4e4" text-anchor="middle" textLength="22.50" lengthAdjust="spacingAndGlyphs" style="white-space:pre" >2.0</text>
<rect x="1773" y="338" width="75" height="31" fill="#555555" />
<path d="M1773 338h75l-2 2h-71v27l-2 2z" fill="#8c8c8c" shape-rendering="auto"/>
<rect x="1775" y="340" width="71" height="27" fill="#696969" />
<text x="1810.5" y="360" font-size="18" fill="#e4e4e4" text-anchor="middle" textLength="22.50" lengthAdjust="spacingAndGlyphs" style="white-space:pre" >1.0</text>
<rect x="1773" y="376" width="75" height="31" fill="#FFAA22" />
<path d="M1773 376h75l-2 2h-71v27l-2 2z" fill="#E87000" shape-rendering="auto"/>
<rect x="1775" y="378" width="71" height="27" fill="#EC7800" />
<path d="M1780.7 388.2H1787.4M1779.1 391.4H1789.7M1785 391.4Q1784.6 395 1781.1 396.7M1788.2 387.6L1788.9 388.6M1790 386.7L1790.7 387.7M1793.1 389.4H1801.7Q1800.5 394 1794.4 396.7M1806.6 391.7H1814.3M1811.2 389.4V396Q1811.2 396.9 1809.4 396.6M1811 392.3Q1809 394.2 1806.1 394.9M1820.6 388.2V392Q1820.4 394.8 1818.1 396M1823.6 388.2V395.7Q1827 394.3 1828.9 391.4M1835.2 387V396.9M1835.2 390.6Q1838 391.6 1839.9 392.9" fill="none" stroke="#FFF2E4" stroke-width="1.25" shape-rendering="auto"/>
<rect x="1855" y="51" width="2" height="1" fill="#fff" />
<text x="1861.4" y="56" font-size="12.5" fill="#fff" textLength="45.20" lengthAdjust="spacingAndGlyphs" style="white-space:pre" >0.86920</text>
<rect x="1855" y="100" width="2" height="1" fill="#fff" />
<text x="1861.4" y="105" font-size="12.5" fill="#fff" textLength="45.20" lengthAdjust="spacingAndGlyphs" style="white-space:pre" >0.86685</text>
<rect x="1855" y="149" width="2" height="1" fill="#fff" />
<text x="1861.4" y="154" font-size="12.5" fill="#fff" textLength="45.20" lengthAdjust="spacingAndGlyphs" style="white-space:pre" >0.86450</text>
<rect x="1855" y="198" width="2" height="1" fill="#fff" />
<text x="1861.4" y="203" font-size="12.5" fill="#fff" textLength="45.20" lengthAdjust="spacingAndGlyphs" style="white-space:pre" >0.86215</text>
<rect x="1855" y="247" width="2" height="1" fill="#fff" />
<text x="1861.4" y="252" font-size="12.5" fill="#fff" textLength="45.20" lengthAdjust="spacingAndGlyphs" style="white-space:pre" >0.85975</text>
<rect x="1855" y="296" width="2" height="1" fill="#fff" />
<text x="1861.4" y="301" font-size="12.5" fill="#fff" textLength="45.20" lengthAdjust="spacingAndGlyphs" style="white-space:pre" >0.85740</text>
<rect x="1855" y="345" width="2" height="1" fill="#fff" />
<text x="1861.4" y="350" font-size="12.5" fill="#fff" textLength="45.20" lengthAdjust="spacingAndGlyphs" style="white-space:pre" >0.85505</text>
<rect x="1855" y="394" width="2" height="1" fill="#fff" />
<text x="1861.4" y="399" font-size="12.5" fill="#fff" textLength="45.20" lengthAdjust="spacingAndGlyphs" style="white-space:pre" >0.85270</text>
<rect x="1856" y="136" width="56" height="14" fill="#fff" />
<rect x="1855" y="143" width="1" height="7" fill="#fff" />
<text x="1861.4" y="148" font-size="12.5" fill="#000" textLength="45.20" lengthAdjust="spacingAndGlyphs" style="white-space:pre" >0.86480</text>
<g clip-path="url(#c_h4)">
<rect x="4" y="416" width="3" height="13" fill="#1E90FF" />
<rect x="12" y="416" width="3" height="13" fill="#1E90FF" />
<rect x="20" y="416" width="3" height="13" fill="#1E90FF" />
<rect x="28" y="416" width="3" height="13" fill="#1E90FF" />
<rect x="36" y="416" width="3" height="13" fill="#1E90FF" />
<rect x="44" y="416" width="3" height="13" fill="#1E90FF" />
<rect x="52" y="416" width="3" height="13" fill="#1E90FF" />
<rect x="60" y="416" width="3" height="13" fill="#1E90FF" />
<rect x="68" y="416" width="3" height="13" fill="#1E90FF" />
<rect x="76" y="416" width="3" height="13" fill="#1E90FF" />
<rect x="84" y="416" width="3" height="13" fill="#1E90FF" />
<rect x="92" y="416" width="3" height="13" fill="#1E90FF" />
<rect x="100" y="416" width="3" height="13" fill="#1E90FF" />
<rect x="108" y="416" width="3" height="13" fill="#1E90FF" />
<rect x="116" y="416" width="3" height="13" fill="#FF0000" />
<rect x="124" y="416" width="3" height="13" fill="#FF0000" />
<rect x="132" y="416" width="3" height="13" fill="#FF0000" />
<rect x="140" y="416" width="3" height="13" fill="#FF0000" />
<rect x="148" y="416" width="3" height="13" fill="#FF0000" />
<rect x="156" y="416" width="3" height="13" fill="#FF0000" />
<rect x="164" y="416" width="3" height="13" fill="#FF0000" />
<rect x="172" y="416" width="3" height="13" fill="#FF0000" />
<rect x="180" y="416" width="3" height="13" fill="#FF0000" />
<rect x="188" y="416" width="3" height="13" fill="#FF0000" />
<rect x="196" y="416" width="3" height="13" fill="#FF0000" />
<rect x="204" y="416" width="3" height="13" fill="#FF0000" />
<rect x="212" y="416" width="3" height="13" fill="#FF0000" />
<rect x="220" y="416" width="3" height="13" fill="#FF0000" />
<rect x="228" y="416" width="3" height="13" fill="#FF0000" />
<rect x="236" y="416" width="3" height="13" fill="#FF0000" />
<rect x="244" y="416" width="3" height="13" fill="#FF0000" />
<rect x="252" y="416" width="3" height="13" fill="#FF0000" />
<rect x="260" y="416" width="3" height="13" fill="#1E90FF" />
<rect x="268" y="416" width="3" height="13" fill="#1E90FF" />
<rect x="276" y="416" width="3" height="13" fill="#1E90FF" />
<rect x="284" y="416" width="3" height="13" fill="#1E90FF" />
<rect x="292" y="416" width="3" height="13" fill="#1E90FF" />
<rect x="300" y="416" width="3" height="13" fill="#1E90FF" />
<rect x="308" y="416" width="3" height="13" fill="#1E90FF" />
<rect x="316" y="416" width="3" height="13" fill="#1E90FF" />
<rect x="324" y="416" width="3" height="13" fill="#1E90FF" />
<rect x="332" y="416" width="3" height="13" fill="#1E90FF" />
<rect x="340" y="416" width="3" height="13" fill="#1E90FF" />
<rect x="348" y="416" width="3" height="13" fill="#1E90FF" />
<rect x="356" y="416" width="3" height="13" fill="#1E90FF" />
<rect x="364" y="416" width="3" height="13" fill="#1E90FF" />
<rect x="372" y="416" width="3" height="13" fill="#1E90FF" />
<rect x="380" y="416" width="3" height="13" fill="#1E90FF" />
<rect x="388" y="416" width="3" height="13" fill="#1E90FF" />
<rect x="396" y="416" width="3" height="13" fill="#1E90FF" />
<rect x="404" y="416" width="3" height="13" fill="#1E90FF" />
<rect x="412" y="416" width="3" height="13" fill="#1E90FF" />
<rect x="420" y="416" width="3" height="13" fill="#1E90FF" />
<rect x="428" y="416" width="3" height="13" fill="#1E90FF" />
<rect x="436" y="416" width="3" height="13" fill="#1E90FF" />
<rect x="444" y="416" width="3" height="13" fill="#1E90FF" />
<rect x="452" y="416" width="3" height="13" fill="#1E90FF" />
<rect x="460" y="416" width="3" height="13" fill="#1E90FF" />
<rect x="468" y="416" width="3" height="13" fill="#1E90FF" />
<rect x="476" y="416" width="3" height="13" fill="#1E90FF" />
<rect x="484" y="416" width="3" height="13" fill="#1E90FF" />
<rect x="492" y="416" width="3" height="13" fill="#1E90FF" />
<rect x="500" y="416" width="3" height="13" fill="#1E90FF" />
<rect x="508" y="416" width="3" height="13" fill="#1E90FF" />
<rect x="516" y="416" width="3" height="13" fill="#1E90FF" />
<rect x="524" y="416" width="3" height="13" fill="#1E90FF" />
<rect x="532" y="416" width="3" height="13" fill="#1E90FF" />
<rect x="540" y="416" width="3" height="13" fill="#1E90FF" />
<rect x="548" y="416" width="3" height="13" fill="#1E90FF" />
<rect x="556" y="416" width="3" height="13" fill="#1E90FF" />
<rect x="564" y="416" width="3" height="13" fill="#1E90FF" />
<rect x="572" y="416" width="3" height="13" fill="#1E90FF" />
<rect x="580" y="416" width="3" height="13" fill="#1E90FF" />
<rect x="588" y="416" width="3" height="13" fill="#1E90FF" />
<rect x="596" y="416" width="3" height="13" fill="#1E90FF" />
<rect x="604" y="416" width="3" height="13" fill="#1E90FF" />
<rect x="612" y="416" width="3" height="13" fill="#1E90FF" />
<rect x="620" y="416" width="3" height="13" fill="#1E90FF" />
<rect x="628" y="416" width="3" height="13" fill="#1E90FF" />
<rect x="636" y="416" width="3" height="13" fill="#1E90FF" />
<rect x="644" y="416" width="3" height="13" fill="#1E90FF" />
<rect x="652" y="416" width="3" height="13" fill="#1E90FF" />
<rect x="660" y="416" width="3" height="13" fill="#1E90FF" />
<rect x="668" y="416" width="3" height="13" fill="#1E90FF" />
<rect x="676" y="416" width="3" height="13" fill="#1E90FF" />
<rect x="684" y="416" width="3" height="13" fill="#1E90FF" />
<rect x="692" y="416" width="3" height="13" fill="#1E90FF" />
<rect x="700" y="416" width="3" height="13" fill="#1E90FF" />
<rect x="708" y="416" width="3" height="13" fill="#1E90FF" />
<rect x="716" y="416" width="3" height="13" fill="#1E90FF" />
<rect x="724" y="416" width="3" height="13" fill="#1E90FF" />
<rect x="732" y="416" width="3" height="13" fill="#1E90FF" />
<rect x="740" y="416" width="3" height="13" fill="#1E90FF" />
<rect x="748" y="416" width="3" height="13" fill="#1E90FF" />
<rect x="756" y="416" width="3" height="13" fill="#1E90FF" />
<rect x="764" y="416" width="3" height="13" fill="#1E90FF" />
<rect x="772" y="416" width="3" height="13" fill="#1E90FF" />
<rect x="780" y="416" width="3" height="13" fill="#1E90FF" />
<rect x="788" y="416" width="3" height="13" fill="#1E90FF" />
<rect x="796" y="416" width="3" height="13" fill="#1E90FF" />
<rect x="804" y="416" width="3" height="13" fill="#1E90FF" />
<rect x="812" y="416" width="3" height="13" fill="#1E90FF" />
<rect x="820" y="416" width="3" height="13" fill="#1E90FF" />
<rect x="828" y="416" width="3" height="13" fill="#1E90FF" />
<rect x="836" y="416" width="3" height="13" fill="#1E90FF" />
<rect x="844" y="416" width="3" height="13" fill="#1E90FF" />
<rect x="852" y="416" width="3" height="13" fill="#1E90FF" />
<rect x="860" y="416" width="3" height="13" fill="#1E90FF" />
<rect x="868" y="416" width="3" height="13" fill="#1E90FF" />
<rect x="876" y="416" width="3" height="13" fill="#1E90FF" />
<rect x="884" y="416" width="3" height="13" fill="#1E90FF" />
<rect x="892" y="416" width="3" height="13" fill="#1E90FF" />
<rect x="900" y="416" width="3" height="13" fill="#1E90FF" />
<rect x="908" y="416" width="3" height="13" fill="#1E90FF" />
<rect x="916" y="416" width="3" height="13" fill="#1E90FF" />
<rect x="924" y="416" width="3" height="13" fill="#1E90FF" />
<rect x="932" y="416" width="3" height="13" fill="#FF0000" />
<rect x="940" y="416" width="3" height="13" fill="#FF0000" />
<rect x="948" y="416" width="3" height="13" fill="#FF0000" />
<rect x="956" y="416" width="3" height="13" fill="#FF0000" />
<rect x="964" y="416" width="3" height="13" fill="#FF0000" />
<rect x="972" y="416" width="3" height="13" fill="#FF0000" />
<rect x="980" y="416" width="3" height="13" fill="#FF0000" />
<rect x="988" y="416" width="3" height="13" fill="#FF0000" />
<rect x="996" y="416" width="3" height="13" fill="#FF0000" />
<rect x="1004" y="416" width="3" height="13" fill="#FF0000" />
<rect x="1012" y="416" width="3" height="13" fill="#FF0000" />
<rect x="1020" y="416" width="3" height="13" fill="#FF0000" />
<rect x="1028" y="416" width="3" height="13" fill="#FF0000" />
<rect x="1036" y="416" width="3" height="13" fill="#FF0000" />
<rect x="1044" y="416" width="3" height="13" fill="#FF0000" />
<rect x="1052" y="416" width="3" height="13" fill="#FF0000" />
<rect x="1060" y="416" width="3" height="13" fill="#FF0000" />
<rect x="1068" y="416" width="3" height="13" fill="#FF0000" />
<rect x="1076" y="416" width="3" height="13" fill="#FF0000" />
<rect x="1084" y="416" width="3" height="13" fill="#FF0000" />
<rect x="1092" y="416" width="3" height="13" fill="#FF0000" />
<rect x="1100" y="416" width="3" height="13" fill="#FF0000" />
<rect x="1108" y="416" width="3" height="13" fill="#FF0000" />
<rect x="1116" y="416" width="3" height="13" fill="#FF0000" />
<rect x="1124" y="416" width="3" height="13" fill="#FF0000" />
<rect x="1132" y="416" width="3" height="13" fill="#FF0000" />
<rect x="1140" y="416" width="3" height="13" fill="#FF0000" />
<rect x="1148" y="416" width="3" height="13" fill="#FF0000" />
<rect x="1156" y="416" width="3" height="13" fill="#FF0000" />
<rect x="1164" y="416" width="3" height="13" fill="#FF0000" />
<rect x="1172" y="416" width="3" height="13" fill="#FF0000" />
<rect x="1180" y="416" width="3" height="13" fill="#FF0000" />
<rect x="1188" y="416" width="3" height="13" fill="#FF0000" />
<rect x="1196" y="416" width="3" height="13" fill="#FF0000" />
<rect x="1204" y="416" width="3" height="13" fill="#FF0000" />
<rect x="1212" y="416" width="3" height="13" fill="#FF0000" />
<rect x="1220" y="416" width="3" height="13" fill="#FF0000" />
<rect x="1228" y="416" width="3" height="13" fill="#FF0000" />
<rect x="1236" y="416" width="3" height="13" fill="#FF0000" />
<rect x="1244" y="416" width="3" height="13" fill="#FF0000" />
<rect x="1252" y="416" width="3" height="13" fill="#FF0000" />
<rect x="1260" y="416" width="3" height="13" fill="#FF0000" />
<rect x="1268" y="416" width="3" height="13" fill="#FF0000" />
<rect x="1276" y="416" width="3" height="13" fill="#FF0000" />
<rect x="1284" y="416" width="3" height="13" fill="#FF0000" />
<rect x="1292" y="416" width="3" height="13" fill="#FF0000" />
<rect x="1300" y="416" width="3" height="13" fill="#FF0000" />
<rect x="1308" y="416" width="3" height="13" fill="#FF0000" />
<rect x="1316" y="416" width="3" height="13" fill="#FF0000" />
<rect x="1324" y="416" width="3" height="13" fill="#FF0000" />
<rect x="1332" y="416" width="3" height="13" fill="#FF0000" />
<rect x="1340" y="416" width="3" height="13" fill="#FF0000" />
<rect x="1348" y="416" width="3" height="13" fill="#FF0000" />
<rect x="1356" y="416" width="3" height="13" fill="#FF0000" />
<rect x="1364" y="416" width="3" height="13" fill="#FF0000" />
<rect x="1372" y="416" width="3" height="13" fill="#FF0000" />
<rect x="1380" y="416" width="3" height="13" fill="#FF0000" />
<rect x="1388" y="416" width="3" height="13" fill="#FF0000" />
<rect x="1396" y="416" width="3" height="13" fill="#FF0000" />
<rect x="1404" y="416" width="3" height="13" fill="#FF0000" />
<rect x="1412" y="416" width="3" height="13" fill="#FF0000" />
<rect x="1420" y="416" width="3" height="13" fill="#FF0000" />
<rect x="1428" y="416" width="3" height="13" fill="#FF0000" />
<rect x="1436" y="416" width="3" height="13" fill="#FF0000" />
<rect x="1444" y="416" width="3" height="13" fill="#FF0000" />
<rect x="1452" y="416" width="3" height="13" fill="#FF0000" />
<rect x="1460" y="416" width="3" height="13" fill="#FF0000" />
<rect x="1468" y="416" width="3" height="13" fill="#FF0000" />
</g>
<g clip-path="url(#c_d1)">
<rect x="4" y="433" width="3" height="9" fill="#FF0000" />
<rect x="12" y="433" width="3" height="9" fill="#FF0000" />
<rect x="20" y="433" width="3" height="9" fill="#FF0000" />
<rect x="28" y="433" width="3" height="9" fill="#FF0000" />
<rect x="36" y="433" width="3" height="9" fill="#FF0000" />
<rect x="44" y="433" width="3" height="9" fill="#FF0000" />
<rect x="52" y="433" width="3" height="9" fill="#FF0000" />
<rect x="60" y="433" width="3" height="9" fill="#FF0000" />
<rect x="68" y="433" width="3" height="9" fill="#FF0000" />
<rect x="76" y="433" width="3" height="9" fill="#FF0000" />
<rect x="84" y="433" width="3" height="9" fill="#FF0000" />
<rect x="92" y="433" width="3" height="9" fill="#FF0000" />
<rect x="100" y="433" width="3" height="9" fill="#FF0000" />
<rect x="108" y="433" width="3" height="9" fill="#FF0000" />
<rect x="116" y="433" width="3" height="9" fill="#FF0000" />
<rect x="124" y="433" width="3" height="9" fill="#FF0000" />
<rect x="132" y="433" width="3" height="9" fill="#FF0000" />
<rect x="140" y="433" width="3" height="9" fill="#FF0000" />
<rect x="148" y="433" width="3" height="9" fill="#FF0000" />
<rect x="156" y="433" width="3" height="9" fill="#FF0000" />
<rect x="164" y="433" width="3" height="9" fill="#FF0000" />
<rect x="172" y="433" width="3" height="9" fill="#FF0000" />
<rect x="180" y="433" width="3" height="9" fill="#FF0000" />
<rect x="188" y="433" width="3" height="9" fill="#FF0000" />
<rect x="196" y="433" width="3" height="9" fill="#FF0000" />
<rect x="204" y="433" width="3" height="9" fill="#FF0000" />
<rect x="212" y="433" width="3" height="9" fill="#FF0000" />
<rect x="220" y="433" width="3" height="9" fill="#FF0000" />
<rect x="228" y="433" width="3" height="9" fill="#FF0000" />
<rect x="236" y="433" width="3" height="9" fill="#FF0000" />
<rect x="244" y="433" width="3" height="9" fill="#FF0000" />
<rect x="252" y="433" width="3" height="9" fill="#FF0000" />
<rect x="260" y="433" width="3" height="9" fill="#FF0000" />
<rect x="268" y="433" width="3" height="9" fill="#FF0000" />
<rect x="276" y="433" width="3" height="9" fill="#FF0000" />
<rect x="284" y="433" width="3" height="9" fill="#FF0000" />
<rect x="292" y="433" width="3" height="9" fill="#FF0000" />
<rect x="300" y="433" width="3" height="9" fill="#FF0000" />
<rect x="308" y="433" width="3" height="9" fill="#FF0000" />
<rect x="316" y="433" width="3" height="9" fill="#FF0000" />
<rect x="324" y="433" width="3" height="9" fill="#FF0000" />
<rect x="332" y="433" width="3" height="9" fill="#FF0000" />
<rect x="340" y="433" width="3" height="9" fill="#FF0000" />
<rect x="348" y="433" width="3" height="9" fill="#FF0000" />
<rect x="356" y="433" width="3" height="9" fill="#FF0000" />
<rect x="364" y="433" width="3" height="9" fill="#FF0000" />
<rect x="372" y="433" width="3" height="9" fill="#FF0000" />
<rect x="380" y="433" width="3" height="9" fill="#FF0000" />
<rect x="388" y="433" width="3" height="9" fill="#FF0000" />
<rect x="396" y="433" width="3" height="9" fill="#FF0000" />
<rect x="404" y="433" width="3" height="9" fill="#FF0000" />
<rect x="412" y="433" width="3" height="9" fill="#FF0000" />
<rect x="420" y="433" width="3" height="9" fill="#FF0000" />
<rect x="428" y="433" width="3" height="9" fill="#FF0000" />
<rect x="436" y="433" width="3" height="9" fill="#FF0000" />
<rect x="444" y="433" width="3" height="9" fill="#FF0000" />
<rect x="452" y="433" width="3" height="9" fill="#FF0000" />
<rect x="460" y="433" width="3" height="9" fill="#FF0000" />
<rect x="468" y="433" width="3" height="9" fill="#FF0000" />
<rect x="476" y="433" width="3" height="9" fill="#FF0000" />
<rect x="484" y="433" width="3" height="9" fill="#FF0000" />
<rect x="492" y="433" width="3" height="9" fill="#FF0000" />
<rect x="500" y="433" width="3" height="9" fill="#FF0000" />
<rect x="508" y="433" width="3" height="9" fill="#FF0000" />
<rect x="516" y="433" width="3" height="9" fill="#FF0000" />
<rect x="524" y="433" width="3" height="9" fill="#FF0000" />
<rect x="532" y="433" width="3" height="9" fill="#FF0000" />
<rect x="540" y="433" width="3" height="9" fill="#FF0000" />
<rect x="548" y="433" width="3" height="9" fill="#FF0000" />
<rect x="556" y="433" width="3" height="9" fill="#FF0000" />
<rect x="564" y="433" width="3" height="9" fill="#FF0000" />
<rect x="572" y="433" width="3" height="9" fill="#FF0000" />
<rect x="580" y="433" width="3" height="9" fill="#FF0000" />
<rect x="588" y="433" width="3" height="9" fill="#FF0000" />
<rect x="596" y="433" width="3" height="9" fill="#FF0000" />
<rect x="604" y="433" width="3" height="9" fill="#FF0000" />
<rect x="612" y="433" width="3" height="9" fill="#FF0000" />
<rect x="620" y="433" width="3" height="9" fill="#FF0000" />
<rect x="628" y="433" width="3" height="9" fill="#FF0000" />
<rect x="636" y="433" width="3" height="9" fill="#FF0000" />
<rect x="644" y="433" width="3" height="9" fill="#FF0000" />
<rect x="652" y="433" width="3" height="9" fill="#FF0000" />
<rect x="660" y="433" width="3" height="9" fill="#FF0000" />
<rect x="668" y="433" width="3" height="9" fill="#FF0000" />
<rect x="676" y="433" width="3" height="9" fill="#FF0000" />
<rect x="684" y="433" width="3" height="9" fill="#FF0000" />
<rect x="692" y="433" width="3" height="9" fill="#FF0000" />
<rect x="700" y="433" width="3" height="9" fill="#FF0000" />
<rect x="708" y="433" width="3" height="9" fill="#1E90FF" />
<rect x="716" y="433" width="3" height="9" fill="#1E90FF" />
<rect x="724" y="433" width="3" height="9" fill="#1E90FF" />
<rect x="732" y="433" width="3" height="9" fill="#1E90FF" />
<rect x="740" y="433" width="3" height="9" fill="#1E90FF" />
<rect x="748" y="433" width="3" height="9" fill="#1E90FF" />
<rect x="756" y="433" width="3" height="9" fill="#1E90FF" />
<rect x="764" y="433" width="3" height="9" fill="#1E90FF" />
<rect x="772" y="433" width="3" height="9" fill="#1E90FF" />
<rect x="780" y="433" width="3" height="9" fill="#1E90FF" />
<rect x="788" y="433" width="3" height="9" fill="#1E90FF" />
<rect x="796" y="433" width="3" height="9" fill="#1E90FF" />
<rect x="804" y="433" width="3" height="9" fill="#1E90FF" />
<rect x="812" y="433" width="3" height="9" fill="#1E90FF" />
<rect x="820" y="433" width="3" height="9" fill="#1E90FF" />
<rect x="828" y="433" width="3" height="9" fill="#1E90FF" />
<rect x="836" y="433" width="3" height="9" fill="#1E90FF" />
<rect x="844" y="433" width="3" height="9" fill="#1E90FF" />
<rect x="852" y="433" width="3" height="9" fill="#1E90FF" />
<rect x="860" y="433" width="3" height="9" fill="#1E90FF" />
<rect x="868" y="433" width="3" height="9" fill="#1E90FF" />
<rect x="876" y="433" width="3" height="9" fill="#1E90FF" />
<rect x="884" y="433" width="3" height="9" fill="#1E90FF" />
<rect x="892" y="433" width="3" height="9" fill="#1E90FF" />
<rect x="900" y="433" width="3" height="9" fill="#1E90FF" />
<rect x="908" y="433" width="3" height="9" fill="#1E90FF" />
<rect x="916" y="433" width="3" height="9" fill="#1E90FF" />
<rect x="924" y="433" width="3" height="9" fill="#1E90FF" />
<rect x="932" y="433" width="3" height="9" fill="#1E90FF" />
<rect x="940" y="433" width="3" height="9" fill="#1E90FF" />
<rect x="948" y="433" width="3" height="9" fill="#1E90FF" />
<rect x="956" y="433" width="3" height="9" fill="#1E90FF" />
<rect x="964" y="433" width="3" height="9" fill="#1E90FF" />
<rect x="972" y="433" width="3" height="9" fill="#1E90FF" />
<rect x="980" y="433" width="3" height="9" fill="#1E90FF" />
<rect x="988" y="433" width="3" height="9" fill="#1E90FF" />
<rect x="996" y="433" width="3" height="9" fill="#1E90FF" />
<rect x="1004" y="433" width="3" height="9" fill="#1E90FF" />
<rect x="1012" y="433" width="3" height="9" fill="#1E90FF" />
<rect x="1020" y="433" width="3" height="9" fill="#1E90FF" />
<rect x="1028" y="433" width="3" height="9" fill="#1E90FF" />
<rect x="1036" y="433" width="3" height="9" fill="#1E90FF" />
<rect x="1044" y="433" width="3" height="9" fill="#1E90FF" />
<rect x="1052" y="433" width="3" height="9" fill="#1E90FF" />
<rect x="1060" y="433" width="3" height="9" fill="#1E90FF" />
<rect x="1068" y="433" width="3" height="9" fill="#1E90FF" />
<rect x="1076" y="433" width="3" height="9" fill="#1E90FF" />
<rect x="1084" y="433" width="3" height="9" fill="#1E90FF" />
<rect x="1092" y="433" width="3" height="9" fill="#1E90FF" />
<rect x="1100" y="433" width="3" height="9" fill="#1E90FF" />
<rect x="1108" y="433" width="3" height="9" fill="#1E90FF" />
<rect x="1116" y="433" width="3" height="9" fill="#1E90FF" />
<rect x="1124" y="433" width="3" height="9" fill="#1E90FF" />
<rect x="1132" y="433" width="3" height="9" fill="#1E90FF" />
<rect x="1140" y="433" width="3" height="9" fill="#1E90FF" />
<rect x="1148" y="433" width="3" height="9" fill="#1E90FF" />
<rect x="1156" y="433" width="3" height="9" fill="#1E90FF" />
<rect x="1164" y="433" width="3" height="9" fill="#1E90FF" />
<rect x="1172" y="433" width="3" height="9" fill="#1E90FF" />
<rect x="1180" y="433" width="3" height="9" fill="#1E90FF" />
<rect x="1188" y="433" width="3" height="9" fill="#1E90FF" />
<rect x="1196" y="433" width="3" height="9" fill="#1E90FF" />
<rect x="1204" y="433" width="3" height="9" fill="#1E90FF" />
<rect x="1212" y="433" width="3" height="9" fill="#1E90FF" />
<rect x="1220" y="433" width="3" height="9" fill="#1E90FF" />
<rect x="1228" y="433" width="3" height="9" fill="#1E90FF" />
<rect x="1236" y="433" width="3" height="9" fill="#1E90FF" />
<rect x="1244" y="433" width="3" height="9" fill="#1E90FF" />
<rect x="1252" y="433" width="3" height="9" fill="#1E90FF" />
<rect x="1260" y="433" width="3" height="9" fill="#1E90FF" />
<rect x="1268" y="433" width="3" height="9" fill="#1E90FF" />
<rect x="1276" y="433" width="3" height="9" fill="#1E90FF" />
<rect x="1284" y="433" width="3" height="9" fill="#1E90FF" />
<rect x="1292" y="433" width="3" height="9" fill="#1E90FF" />
<rect x="1300" y="433" width="3" height="9" fill="#1E90FF" />
<rect x="1308" y="433" width="3" height="9" fill="#1E90FF" />
<rect x="1316" y="433" width="3" height="9" fill="#1E90FF" />
<rect x="1324" y="433" width="3" height="9" fill="#1E90FF" />
<rect x="1332" y="433" width="3" height="9" fill="#1E90FF" />
<rect x="1340" y="433" width="3" height="9" fill="#1E90FF" />
<rect x="1348" y="433" width="3" height="9" fill="#1E90FF" />
<rect x="1356" y="433" width="3" height="9" fill="#1E90FF" />
<rect x="1364" y="433" width="3" height="9" fill="#1E90FF" />
<rect x="1372" y="433" width="3" height="9" fill="#1E90FF" />
<rect x="1380" y="433" width="3" height="9" fill="#1E90FF" />
<rect x="1388" y="433" width="3" height="9" fill="#1E90FF" />
<rect x="1396" y="433" width="3" height="9" fill="#1E90FF" />
<rect x="1404" y="433" width="3" height="9" fill="#1E90FF" />
<rect x="1412" y="433" width="3" height="9" fill="#1E90FF" />
<rect x="1420" y="433" width="3" height="9" fill="#1E90FF" />
<rect x="1428" y="433" width="3" height="9" fill="#1E90FF" />
<rect x="1436" y="433" width="3" height="9" fill="#1E90FF" />
<rect x="1444" y="433" width="3" height="9" fill="#1E90FF" />
<rect x="1452" y="433" width="3" height="9" fill="#1E90FF" />
<rect x="1460" y="433" width="3" height="9" fill="#1E90FF" />
<rect x="1468" y="433" width="3" height="9" fill="#1E90FF" />
</g>
<g clip-path="url(#c_w1)">
<rect x="4" y="446" width="3" height="11" fill="#FF0000" />
<rect x="12" y="446" width="3" height="11" fill="#FF0000" />
<rect x="20" y="446" width="3" height="11" fill="#FF0000" />
<rect x="28" y="446" width="3" height="11" fill="#FF0000" />
<rect x="36" y="446" width="3" height="11" fill="#FF0000" />
<rect x="44" y="446" width="3" height="11" fill="#FF0000" />
<rect x="52" y="446" width="3" height="11" fill="#FF0000" />
<rect x="60" y="446" width="3" height="11" fill="#FF0000" />
<rect x="68" y="446" width="3" height="11" fill="#FF0000" />
<rect x="76" y="446" width="3" height="11" fill="#FF0000" />
<rect x="84" y="446" width="3" height="11" fill="#FF0000" />
<rect x="92" y="446" width="3" height="11" fill="#FF0000" />
<rect x="100" y="446" width="3" height="11" fill="#FF0000" />
<rect x="108" y="446" width="3" height="11" fill="#FF0000" />
<rect x="116" y="446" width="3" height="11" fill="#FF0000" />
<rect x="124" y="446" width="3" height="11" fill="#FF0000" />
<rect x="132" y="446" width="3" height="11" fill="#FF0000" />
<rect x="140" y="446" width="3" height="11" fill="#FF0000" />
<rect x="148" y="446" width="3" height="11" fill="#FF0000" />
<rect x="156" y="446" width="3" height="11" fill="#FF0000" />
<rect x="164" y="446" width="3" height="11" fill="#FF0000" />
<rect x="172" y="446" width="3" height="11" fill="#FF0000" />
<rect x="180" y="446" width="3" height="11" fill="#FF0000" />
<rect x="188" y="446" width="3" height="11" fill="#FF0000" />
<rect x="196" y="446" width="3" height="11" fill="#FF0000" />
<rect x="204" y="446" width="3" height="11" fill="#FF0000" />
<rect x="212" y="446" width="3" height="11" fill="#FF0000" />
<rect x="220" y="446" width="3" height="11" fill="#FF0000" />
<rect x="228" y="446" width="3" height="11" fill="#FF0000" />
<rect x="236" y="446" width="3" height="11" fill="#FF0000" />
<rect x="244" y="446" width="3" height="11" fill="#FF0000" />
<rect x="252" y="446" width="3" height="11" fill="#FF0000" />
<rect x="260" y="446" width="3" height="11" fill="#FF0000" />
<rect x="268" y="446" width="3" height="11" fill="#FF0000" />
<rect x="276" y="446" width="3" height="11" fill="#FF0000" />
<rect x="284" y="446" width="3" height="11" fill="#FF0000" />
<rect x="292" y="446" width="3" height="11" fill="#FF0000" />
<rect x="300" y="446" width="3" height="11" fill="#FF0000" />
<rect x="308" y="446" width="3" height="11" fill="#FF0000" />
<rect x="316" y="446" width="3" height="11" fill="#FF0000" />
<rect x="324" y="446" width="3" height="11" fill="#FF0000" />
<rect x="332" y="446" width="3" height="11" fill="#FF0000" />
<rect x="340" y="446" width="3" height="11" fill="#FF0000" />
<rect x="348" y="446" width="3" height="11" fill="#FF0000" />
<rect x="356" y="446" width="3" height="11" fill="#FF0000" />
<rect x="364" y="446" width="3" height="11" fill="#FF0000" />
<rect x="372" y="446" width="3" height="11" fill="#FF0000" />
<rect x="380" y="446" width="3" height="11" fill="#FF0000" />
<rect x="388" y="446" width="3" height="11" fill="#FF0000" />
<rect x="396" y="446" width="3" height="11" fill="#FF0000" />
<rect x="404" y="446" width="3" height="11" fill="#FF0000" />
<rect x="412" y="446" width="3" height="11" fill="#FF0000" />
<rect x="420" y="446" width="3" height="11" fill="#FF0000" />
<rect x="428" y="446" width="3" height="11" fill="#FF0000" />
<rect x="436" y="446" width="3" height="11" fill="#FF0000" />
<rect x="444" y="446" width="3" height="11" fill="#FF0000" />
<rect x="452" y="446" width="3" height="11" fill="#FF0000" />
<rect x="460" y="446" width="3" height="11" fill="#FF0000" />
<rect x="468" y="446" width="3" height="11" fill="#FF0000" />
<rect x="476" y="446" width="3" height="11" fill="#FF0000" />
<rect x="484" y="446" width="3" height="11" fill="#FF0000" />
<rect x="492" y="446" width="3" height="11" fill="#FF0000" />
<rect x="500" y="446" width="3" height="11" fill="#FF0000" />
<rect x="508" y="446" width="3" height="11" fill="#FF0000" />
<rect x="516" y="446" width="3" height="11" fill="#FF0000" />
<rect x="524" y="446" width="3" height="11" fill="#FF0000" />
<rect x="532" y="446" width="3" height="11" fill="#FF0000" />
<rect x="540" y="446" width="3" height="11" fill="#FF0000" />
<rect x="548" y="446" width="3" height="11" fill="#FF0000" />
<rect x="556" y="446" width="3" height="11" fill="#FF0000" />
<rect x="564" y="446" width="3" height="11" fill="#FF0000" />
<rect x="572" y="446" width="3" height="11" fill="#FF0000" />
<rect x="580" y="446" width="3" height="11" fill="#FF0000" />
<rect x="588" y="446" width="3" height="11" fill="#FF0000" />
<rect x="596" y="446" width="3" height="11" fill="#FF0000" />
<rect x="604" y="446" width="3" height="11" fill="#FF0000" />
<rect x="612" y="446" width="3" height="11" fill="#FF0000" />
<rect x="620" y="446" width="3" height="11" fill="#FF0000" />
<rect x="628" y="446" width="3" height="11" fill="#FF0000" />
<rect x="636" y="446" width="3" height="11" fill="#FF0000" />
<rect x="644" y="446" width="3" height="11" fill="#FF0000" />
<rect x="652" y="446" width="3" height="11" fill="#FF0000" />
<rect x="660" y="446" width="3" height="11" fill="#FF0000" />
<rect x="668" y="446" width="3" height="11" fill="#FF0000" />
<rect x="676" y="446" width="3" height="11" fill="#FF0000" />
<rect x="684" y="446" width="3" height="11" fill="#FF0000" />
<rect x="692" y="446" width="3" height="11" fill="#FF0000" />
<rect x="700" y="446" width="3" height="11" fill="#FF0000" />
<rect x="708" y="446" width="3" height="11" fill="#FF0000" />
<rect x="716" y="446" width="3" height="11" fill="#FF0000" />
<rect x="724" y="446" width="3" height="11" fill="#FF0000" />
<rect x="732" y="446" width="3" height="11" fill="#FF0000" />
<rect x="740" y="446" width="3" height="11" fill="#FF0000" />
<rect x="748" y="446" width="3" height="11" fill="#FF0000" />
<rect x="756" y="446" width="3" height="11" fill="#FF0000" />
<rect x="764" y="446" width="3" height="11" fill="#FF0000" />
<rect x="772" y="446" width="3" height="11" fill="#FF0000" />
<rect x="780" y="446" width="3" height="11" fill="#FF0000" />
<rect x="788" y="446" width="3" height="11" fill="#FF0000" />
<rect x="796" y="446" width="3" height="11" fill="#FF0000" />
<rect x="804" y="446" width="3" height="11" fill="#FF0000" />
<rect x="812" y="446" width="3" height="11" fill="#FF0000" />
<rect x="820" y="446" width="3" height="11" fill="#FF0000" />
<rect x="828" y="446" width="3" height="11" fill="#FF0000" />
<rect x="836" y="446" width="3" height="11" fill="#FF0000" />
<rect x="844" y="446" width="3" height="11" fill="#FF0000" />
<rect x="852" y="446" width="3" height="11" fill="#FF0000" />
<rect x="860" y="446" width="3" height="11" fill="#FF0000" />
<rect x="868" y="446" width="3" height="11" fill="#FF0000" />
<rect x="876" y="446" width="3" height="11" fill="#FF0000" />
<rect x="884" y="446" width="3" height="11" fill="#FF0000" />
<rect x="892" y="446" width="3" height="11" fill="#FF0000" />
<rect x="900" y="446" width="3" height="11" fill="#FF0000" />
<rect x="908" y="446" width="3" height="11" fill="#FF0000" />
<rect x="916" y="446" width="3" height="11" fill="#FF0000" />
<rect x="924" y="446" width="3" height="11" fill="#FF0000" />
<rect x="932" y="446" width="3" height="11" fill="#FF0000" />
<rect x="940" y="446" width="3" height="11" fill="#FF0000" />
<rect x="948" y="446" width="3" height="11" fill="#FF0000" />
<rect x="956" y="446" width="3" height="11" fill="#FF0000" />
<rect x="964" y="446" width="3" height="11" fill="#FF0000" />
<rect x="972" y="446" width="3" height="11" fill="#FF0000" />
<rect x="980" y="446" width="3" height="11" fill="#FF0000" />
<rect x="988" y="446" width="3" height="11" fill="#FF0000" />
<rect x="996" y="446" width="3" height="11" fill="#FF0000" />
<rect x="1004" y="446" width="3" height="11" fill="#FF0000" />
<rect x="1012" y="446" width="3" height="11" fill="#FF0000" />
<rect x="1020" y="446" width="3" height="11" fill="#FF0000" />
<rect x="1028" y="446" width="3" height="11" fill="#FF0000" />
<rect x="1036" y="446" width="3" height="11" fill="#FF0000" />
<rect x="1044" y="446" width="3" height="11" fill="#FF0000" />
<rect x="1052" y="446" width="3" height="11" fill="#FF0000" />
<rect x="1060" y="446" width="3" height="11" fill="#FF0000" />
<rect x="1068" y="446" width="3" height="11" fill="#FF0000" />
<rect x="1076" y="446" width="3" height="11" fill="#FF0000" />
<rect x="1084" y="446" width="3" height="11" fill="#FF0000" />
<rect x="1092" y="446" width="3" height="11" fill="#FF0000" />
<rect x="1100" y="446" width="3" height="11" fill="#FF0000" />
<rect x="1108" y="446" width="3" height="11" fill="#FF0000" />
<rect x="1116" y="446" width="3" height="11" fill="#FF0000" />
<rect x="1124" y="446" width="3" height="11" fill="#FF0000" />
<rect x="1132" y="446" width="3" height="11" fill="#FF0000" />
<rect x="1140" y="446" width="3" height="11" fill="#FF0000" />
<rect x="1148" y="446" width="3" height="11" fill="#FF0000" />
<rect x="1156" y="446" width="3" height="11" fill="#FF0000" />
<rect x="1164" y="446" width="3" height="11" fill="#FF0000" />
<rect x="1172" y="446" width="3" height="11" fill="#FF0000" />
<rect x="1180" y="446" width="3" height="11" fill="#FF0000" />
<rect x="1188" y="446" width="3" height="11" fill="#FF0000" />
<rect x="1196" y="446" width="3" height="11" fill="#FF0000" />
<rect x="1204" y="446" width="3" height="11" fill="#FF0000" />
<rect x="1212" y="446" width="3" height="11" fill="#FF0000" />
<rect x="1220" y="446" width="3" height="11" fill="#FF0000" />
<rect x="1228" y="446" width="3" height="11" fill="#FF0000" />
<rect x="1236" y="446" width="3" height="11" fill="#FF0000" />
<rect x="1244" y="446" width="3" height="11" fill="#FF0000" />
<rect x="1252" y="446" width="3" height="11" fill="#FF0000" />
<rect x="1260" y="446" width="3" height="11" fill="#FF0000" />
<rect x="1268" y="446" width="3" height="11" fill="#FF0000" />
<rect x="1276" y="446" width="3" height="11" fill="#FF0000" />
<rect x="1284" y="446" width="3" height="11" fill="#FF0000" />
<rect x="1292" y="446" width="3" height="11" fill="#FF0000" />
<rect x="1300" y="446" width="3" height="11" fill="#FF0000" />
<rect x="1308" y="446" width="3" height="11" fill="#FF0000" />
<rect x="1316" y="446" width="3" height="11" fill="#FF0000" />
<rect x="1324" y="446" width="3" height="11" fill="#FF0000" />
<rect x="1332" y="446" width="3" height="11" fill="#FF0000" />
<rect x="1340" y="446" width="3" height="11" fill="#FF0000" />
<rect x="1348" y="446" width="3" height="11" fill="#FF0000" />
<rect x="1356" y="446" width="3" height="11" fill="#FF0000" />
<rect x="1364" y="446" width="3" height="11" fill="#FF0000" />
<rect x="1372" y="446" width="3" height="11" fill="#FF0000" />
<rect x="1380" y="446" width="3" height="11" fill="#FF0000" />
<rect x="1388" y="446" width="3" height="11" fill="#FF0000" />
<rect x="1396" y="446" width="3" height="11" fill="#FF0000" />
<rect x="1404" y="446" width="3" height="11" fill="#FF0000" />
<rect x="1412" y="446" width="3" height="11" fill="#FF0000" />
<rect x="1420" y="446" width="3" height="11" fill="#FF0000" />
<rect x="1428" y="446" width="3" height="11" fill="#FF0000" />
<rect x="1436" y="446" width="3" height="11" fill="#FF0000" />
<rect x="1444" y="446" width="3" height="11" fill="#FF0000" />
<rect x="1452" y="446" width="3" height="11" fill="#FF0000" />
<rect x="1460" y="446" width="3" height="11" fill="#FF0000" />
<rect x="1468" y="446" width="3" height="11" fill="#FF0000" />
</g>
<g clip-path="url(#c_mn)">
<rect x="4" y="461" width="3" height="13" fill="#1E90FF" />
<rect x="12" y="461" width="3" height="13" fill="#1E90FF" />
<rect x="20" y="461" width="3" height="13" fill="#1E90FF" />
<rect x="28" y="461" width="3" height="13" fill="#1E90FF" />
<rect x="36" y="461" width="3" height="13" fill="#1E90FF" />
<rect x="44" y="461" width="3" height="13" fill="#1E90FF" />
<rect x="52" y="461" width="3" height="13" fill="#1E90FF" />
<rect x="60" y="461" width="3" height="13" fill="#1E90FF" />
<rect x="68" y="461" width="3" height="13" fill="#1E90FF" />
<rect x="76" y="461" width="3" height="13" fill="#1E90FF" />
<rect x="84" y="461" width="3" height="13" fill="#1E90FF" />
<rect x="92" y="461" width="3" height="13" fill="#1E90FF" />
<rect x="100" y="461" width="3" height="13" fill="#1E90FF" />
<rect x="108" y="461" width="3" height="13" fill="#1E90FF" />
<rect x="116" y="461" width="3" height="13" fill="#1E90FF" />
<rect x="124" y="461" width="3" height="13" fill="#1E90FF" />
<rect x="132" y="461" width="3" height="13" fill="#1E90FF" />
<rect x="140" y="461" width="3" height="13" fill="#1E90FF" />
<rect x="148" y="461" width="3" height="13" fill="#1E90FF" />
<rect x="156" y="461" width="3" height="13" fill="#1E90FF" />
<rect x="164" y="461" width="3" height="13" fill="#1E90FF" />
<rect x="172" y="461" width="3" height="13" fill="#1E90FF" />
<rect x="180" y="461" width="3" height="13" fill="#1E90FF" />
<rect x="188" y="461" width="3" height="13" fill="#1E90FF" />
<rect x="196" y="461" width="3" height="13" fill="#1E90FF" />
<rect x="204" y="461" width="3" height="13" fill="#1E90FF" />
<rect x="212" y="461" width="3" height="13" fill="#1E90FF" />
<rect x="220" y="461" width="3" height="13" fill="#1E90FF" />
<rect x="228" y="461" width="3" height="13" fill="#1E90FF" />
<rect x="236" y="461" width="3" height="13" fill="#1E90FF" />
<rect x="244" y="461" width="3" height="13" fill="#1E90FF" />
<rect x="252" y="461" width="3" height="13" fill="#1E90FF" />
<rect x="260" y="461" width="3" height="13" fill="#1E90FF" />
<rect x="268" y="461" width="3" height="13" fill="#1E90FF" />
<rect x="276" y="461" width="3" height="13" fill="#1E90FF" />
<rect x="284" y="461" width="3" height="13" fill="#1E90FF" />
<rect x="292" y="461" width="3" height="13" fill="#1E90FF" />
<rect x="300" y="461" width="3" height="13" fill="#1E90FF" />
<rect x="308" y="461" width="3" height="13" fill="#1E90FF" />
<rect x="316" y="461" width="3" height="13" fill="#1E90FF" />
<rect x="324" y="461" width="3" height="13" fill="#1E90FF" />
<rect x="332" y="461" width="3" height="13" fill="#1E90FF" />
<rect x="340" y="461" width="3" height="13" fill="#1E90FF" />
<rect x="348" y="461" width="3" height="13" fill="#1E90FF" />
<rect x="356" y="461" width="3" height="13" fill="#1E90FF" />
<rect x="364" y="461" width="3" height="13" fill="#1E90FF" />
<rect x="372" y="461" width="3" height="13" fill="#1E90FF" />
<rect x="380" y="461" width="3" height="13" fill="#1E90FF" />
<rect x="388" y="461" width="3" height="13" fill="#1E90FF" />
<rect x="396" y="461" width="3" height="13" fill="#1E90FF" />
<rect x="404" y="461" width="3" height="13" fill="#1E90FF" />
<rect x="412" y="461" width="3" height="13" fill="#1E90FF" />
<rect x="420" y="461" width="3" height="13" fill="#1E90FF" />
<rect x="428" y="461" width="3" height="13" fill="#1E90FF" />
<rect x="436" y="461" width="3" height="13" fill="#1E90FF" />
<rect x="444" y="461" width="3" height="13" fill="#1E90FF" />
<rect x="452" y="461" width="3" height="13" fill="#1E90FF" />
<rect x="460" y="461" width="3" height="13" fill="#1E90FF" />
<rect x="468" y="461" width="3" height="13" fill="#1E90FF" />
<rect x="476" y="461" width="3" height="13" fill="#1E90FF" />
<rect x="484" y="461" width="3" height="13" fill="#1E90FF" />
<rect x="492" y="461" width="3" height="13" fill="#1E90FF" />
<rect x="500" y="461" width="3" height="13" fill="#1E90FF" />
<rect x="508" y="461" width="3" height="13" fill="#1E90FF" />
<rect x="516" y="461" width="3" height="13" fill="#1E90FF" />
<rect x="524" y="461" width="3" height="13" fill="#1E90FF" />
<rect x="532" y="461" width="3" height="13" fill="#1E90FF" />
<rect x="540" y="461" width="3" height="13" fill="#1E90FF" />
<rect x="548" y="461" width="3" height="13" fill="#1E90FF" />
<rect x="556" y="461" width="3" height="13" fill="#1E90FF" />
<rect x="564" y="461" width="3" height="13" fill="#1E90FF" />
<rect x="572" y="461" width="3" height="13" fill="#1E90FF" />
<rect x="580" y="461" width="3" height="13" fill="#1E90FF" />
<rect x="588" y="461" width="3" height="13" fill="#1E90FF" />
<rect x="596" y="461" width="3" height="13" fill="#1E90FF" />
<rect x="604" y="461" width="3" height="13" fill="#1E90FF" />
<rect x="612" y="461" width="3" height="13" fill="#1E90FF" />
<rect x="620" y="461" width="3" height="13" fill="#1E90FF" />
<rect x="628" y="461" width="3" height="13" fill="#1E90FF" />
<rect x="636" y="461" width="3" height="13" fill="#1E90FF" />
<rect x="644" y="461" width="3" height="13" fill="#1E90FF" />
<rect x="652" y="461" width="3" height="13" fill="#1E90FF" />
<rect x="660" y="461" width="3" height="13" fill="#1E90FF" />
<rect x="668" y="461" width="3" height="13" fill="#1E90FF" />
<rect x="676" y="461" width="3" height="13" fill="#1E90FF" />
<rect x="684" y="461" width="3" height="13" fill="#1E90FF" />
<rect x="692" y="461" width="3" height="13" fill="#1E90FF" />
<rect x="700" y="461" width="3" height="13" fill="#1E90FF" />
<rect x="708" y="461" width="3" height="13" fill="#1E90FF" />
<rect x="716" y="461" width="3" height="13" fill="#1E90FF" />
<rect x="724" y="461" width="3" height="13" fill="#1E90FF" />
<rect x="732" y="461" width="3" height="13" fill="#1E90FF" />
<rect x="740" y="461" width="3" height="13" fill="#1E90FF" />
<rect x="748" y="461" width="3" height="13" fill="#1E90FF" />
<rect x="756" y="461" width="3" height="13" fill="#1E90FF" />
<rect x="764" y="461" width="3" height="13" fill="#1E90FF" />
<rect x="772" y="461" width="3" height="13" fill="#1E90FF" />
<rect x="780" y="461" width="3" height="13" fill="#1E90FF" />
<rect x="788" y="461" width="3" height="13" fill="#1E90FF" />
<rect x="796" y="461" width="3" height="13" fill="#1E90FF" />
<rect x="804" y="461" width="3" height="13" fill="#1E90FF" />
<rect x="812" y="461" width="3" height="13" fill="#1E90FF" />
<rect x="820" y="461" width="3" height="13" fill="#1E90FF" />
<rect x="828" y="461" width="3" height="13" fill="#1E90FF" />
<rect x="836" y="461" width="3" height="13" fill="#1E90FF" />
<rect x="844" y="461" width="3" height="13" fill="#1E90FF" />
<rect x="852" y="461" width="3" height="13" fill="#1E90FF" />
<rect x="860" y="461" width="3" height="13" fill="#1E90FF" />
<rect x="868" y="461" width="3" height="13" fill="#1E90FF" />
<rect x="876" y="461" width="3" height="13" fill="#1E90FF" />
<rect x="884" y="461" width="3" height="13" fill="#1E90FF" />
<rect x="892" y="461" width="3" height="13" fill="#1E90FF" />
<rect x="900" y="461" width="3" height="13" fill="#1E90FF" />
<rect x="908" y="461" width="3" height="13" fill="#1E90FF" />
<rect x="916" y="461" width="3" height="13" fill="#1E90FF" />
<rect x="924" y="461" width="3" height="13" fill="#1E90FF" />
<rect x="932" y="461" width="3" height="13" fill="#1E90FF" />
<rect x="940" y="461" width="3" height="13" fill="#1E90FF" />
<rect x="948" y="461" width="3" height="13" fill="#1E90FF" />
<rect x="956" y="461" width="3" height="13" fill="#1E90FF" />
<rect x="964" y="461" width="3" height="13" fill="#1E90FF" />
<rect x="972" y="461" width="3" height="13" fill="#1E90FF" />
<rect x="980" y="461" width="3" height="13" fill="#1E90FF" />
<rect x="988" y="461" width="3" height="13" fill="#1E90FF" />
<rect x="996" y="461" width="3" height="13" fill="#1E90FF" />
<rect x="1004" y="461" width="3" height="13" fill="#1E90FF" />
<rect x="1012" y="461" width="3" height="13" fill="#1E90FF" />
<rect x="1020" y="461" width="3" height="13" fill="#1E90FF" />
<rect x="1028" y="461" width="3" height="13" fill="#1E90FF" />
<rect x="1036" y="461" width="3" height="13" fill="#1E90FF" />
<rect x="1044" y="461" width="3" height="13" fill="#1E90FF" />
<rect x="1052" y="461" width="3" height="13" fill="#1E90FF" />
<rect x="1060" y="461" width="3" height="13" fill="#1E90FF" />
<rect x="1068" y="461" width="3" height="13" fill="#1E90FF" />
<rect x="1076" y="461" width="3" height="13" fill="#1E90FF" />
<rect x="1084" y="461" width="3" height="13" fill="#1E90FF" />
<rect x="1092" y="461" width="3" height="13" fill="#1E90FF" />
<rect x="1100" y="461" width="3" height="13" fill="#1E90FF" />
<rect x="1108" y="461" width="3" height="13" fill="#1E90FF" />
<rect x="1116" y="461" width="3" height="13" fill="#1E90FF" />
<rect x="1124" y="461" width="3" height="13" fill="#1E90FF" />
<rect x="1132" y="461" width="3" height="13" fill="#1E90FF" />
<rect x="1140" y="461" width="3" height="13" fill="#1E90FF" />
<rect x="1148" y="461" width="3" height="13" fill="#1E90FF" />
<rect x="1156" y="461" width="3" height="13" fill="#1E90FF" />
<rect x="1164" y="461" width="3" height="13" fill="#1E90FF" />
<rect x="1172" y="461" width="3" height="13" fill="#1E90FF" />
<rect x="1180" y="461" width="3" height="13" fill="#1E90FF" />
<rect x="1188" y="461" width="3" height="13" fill="#1E90FF" />
<rect x="1196" y="461" width="3" height="13" fill="#1E90FF" />
<rect x="1204" y="461" width="3" height="13" fill="#1E90FF" />
<rect x="1212" y="461" width="3" height="13" fill="#1E90FF" />
<rect x="1220" y="461" width="3" height="13" fill="#1E90FF" />
<rect x="1228" y="461" width="3" height="13" fill="#1E90FF" />
<rect x="1236" y="461" width="3" height="13" fill="#1E90FF" />
<rect x="1244" y="461" width="3" height="13" fill="#1E90FF" />
<rect x="1252" y="461" width="3" height="13" fill="#1E90FF" />
<rect x="1260" y="461" width="3" height="13" fill="#1E90FF" />
<rect x="1268" y="461" width="3" height="13" fill="#1E90FF" />
<rect x="1276" y="461" width="3" height="13" fill="#1E90FF" />
<rect x="1284" y="461" width="3" height="13" fill="#1E90FF" />
<rect x="1292" y="461" width="3" height="13" fill="#1E90FF" />
<rect x="1300" y="461" width="3" height="13" fill="#1E90FF" />
<rect x="1308" y="461" width="3" height="13" fill="#1E90FF" />
<rect x="1316" y="461" width="3" height="13" fill="#1E90FF" />
<rect x="1324" y="461" width="3" height="13" fill="#1E90FF" />
<rect x="1332" y="461" width="3" height="13" fill="#1E90FF" />
<rect x="1340" y="461" width="3" height="13" fill="#1E90FF" />
<rect x="1348" y="461" width="3" height="13" fill="#1E90FF" />
<rect x="1356" y="461" width="3" height="13" fill="#1E90FF" />
<rect x="1364" y="461" width="3" height="13" fill="#1E90FF" />
<rect x="1372" y="461" width="3" height="13" fill="#1E90FF" />
<rect x="1380" y="461" width="3" height="13" fill="#1E90FF" />
<rect x="1388" y="461" width="3" height="13" fill="#1E90FF" />
<rect x="1396" y="461" width="3" height="13" fill="#1E90FF" />
<rect x="1404" y="461" width="3" height="13" fill="#1E90FF" />
<rect x="1412" y="461" width="3" height="13" fill="#1E90FF" />
<rect x="1420" y="461" width="3" height="13" fill="#1E90FF" />
<rect x="1428" y="461" width="3" height="13" fill="#1E90FF" />
<rect x="1436" y="461" width="3" height="13" fill="#1E90FF" />
<rect x="1444" y="461" width="3" height="13" fill="#1E90FF" />
<rect x="1452" y="461" width="3" height="13" fill="#1E90FF" />
<rect x="1460" y="461" width="3" height="13" fill="#1E90FF" />
<rect x="1468" y="461" width="3" height="13" fill="#1E90FF" />
</g>
<g clip-path="url(#c_h4)">
<text x="8.8" y="431" font-size="12.5" fill="#fff" textLength="14.80" lengthAdjust="spacingAndGlyphs" style="white-space:pre" >H4</text>
<text x="30" y="431" font-size="12.5" fill="#fff" textLength="213.60" lengthAdjust="spacingAndGlyphs" style="white-space:pre" >TEN_to_CHI_no_HISTOGRAM_ver_003</text>
<text x="248.8" y="431" font-size="12.5" fill="#fff" textLength="38.05" lengthAdjust="spacingAndGlyphs" style="white-space:pre" >1.0000</text>
</g>
<g clip-path="url(#c_d1)">
<text x="8.8" y="448" font-size="12.5" fill="#fff" textLength="14.30" lengthAdjust="spacingAndGlyphs" style="white-space:pre" >D1</text>
<text x="30" y="448" font-size="12.5" fill="#fff" textLength="213.60" lengthAdjust="spacingAndGlyphs" style="white-space:pre" >TEN_to_CHI_no_HISTOGRAM_ver_003</text>
<text x="248.8" y="448" font-size="12.5" fill="#fff" textLength="37.60" lengthAdjust="spacingAndGlyphs" style="white-space:pre" >1.0000</text>
</g>
<g clip-path="url(#c_w1)">
<text x="8.8" y="461" font-size="12.5" fill="#fff" textLength="17.80" lengthAdjust="spacingAndGlyphs" style="white-space:pre" >W1</text>
<text x="33.15" y="461" font-size="12.5" fill="#fff" textLength="214.05" lengthAdjust="spacingAndGlyphs" style="white-space:pre" >TEN_to_CHI_no_HISTOGRAM_ver_003</text>
<text x="252.4" y="461" font-size="12.5" fill="#fff" textLength="38.20" lengthAdjust="spacingAndGlyphs" style="white-space:pre" >1.0000</text>
</g>
<g clip-path="url(#c_mn)">
<text x="8.8" y="476" font-size="12.5" fill="#fff" textLength="17.80" lengthAdjust="spacingAndGlyphs" style="white-space:pre" >MN</text>
<text x="32.5" y="476" font-size="12.5" fill="#fff" textLength="213.10" lengthAdjust="spacingAndGlyphs" style="white-space:pre" >TEN_to_CHI_no_HISTOGRAM_ver_003</text>
<text x="250.65" y="476" font-size="12.5" fill="#fff" textLength="38.45" lengthAdjust="spacingAndGlyphs" style="white-space:pre" >1.0000</text>
</g>
<g clip-path="url(#c_osc)">
<path d="M6 495.5H1593" stroke="#d3d3d3" stroke-width="1" stroke-dasharray="3 3" fill="none"/>
<path d="M6 537.5H1593" stroke="#d3d3d3" stroke-width="1" stroke-dasharray="3 3" fill="none"/>
<path d="M6 580.5H1593" stroke="#d3d3d3" stroke-width="1" stroke-dasharray="3 3" fill="none"/>
<rect x="2" y="564" width="5" height="5" fill="#FF0000" />
<rect x="10" y="569" width="5" height="5" fill="#FF0000" />
<rect x="18" y="572" width="5" height="5" fill="#FF0000" />
<rect x="26" y="575" width="5" height="5" fill="#FF0000" />
<rect x="34" y="577" width="5" height="5" fill="#FF0000" />
<rect x="42" y="578" width="5" height="5" fill="#FF0000" />
<rect x="50" y="580" width="5" height="5" fill="#FF0000" />
<rect x="58" y="581" width="5" height="5" fill="#FF0000" />
<rect x="66" y="582" width="5" height="5" fill="#FF0000" />
<rect x="74" y="584" width="5" height="5" fill="#FF0000" />
<rect x="82" y="585" width="5" height="5" fill="#FF0000" />
<rect x="90" y="586" width="5" height="5" fill="#FF0000" />
<rect x="98" y="587" width="5" height="5" fill="#FF0000" />
<rect x="106" y="582" width="5" height="5" fill="#0000FF" />
<rect x="114" y="579" width="5" height="5" fill="#0000FF" />
<rect x="122" y="578" width="5" height="5" fill="#FF0000" />
<rect x="130" y="578" width="5" height="5" fill="#FF0000" />
<rect x="138" y="580" width="5" height="5" fill="#FF0000" />
<rect x="146" y="581" width="5" height="5" fill="#FF0000" />
<rect x="154" y="581" width="5" height="5" fill="#FF0000" />
<rect x="162" y="579" width="5" height="5" fill="#0000FF" />
<rect x="170" y="569" width="5" height="5" fill="#0000FF" />
<rect x="178" y="556" width="5" height="5" fill="#0000FF" />
<rect x="186" y="542" width="5" height="5" fill="#0000FF" />
<rect x="194" y="530" width="5" height="5" fill="#0000FF" />
<rect x="202" y="520" width="5" height="5" fill="#0000FF" />
<rect x="210" y="512" width="5" height="5" fill="#0000FF" />
<rect x="218" y="506" width="5" height="5" fill="#0000FF" />
<rect x="226" y="501" width="5" height="5" fill="#0000FF" />
<rect x="234" y="498" width="5" height="5" fill="#0000FF" />
<rect x="242" y="495" width="5" height="5" fill="#0000FF" />
<rect x="250" y="493" width="5" height="5" fill="#0000FF" />
<rect x="258" y="491" width="5" height="5" fill="#0000FF" />
<rect x="266" y="490" width="5" height="5" fill="#0000FF" />
<rect x="274" y="488" width="5" height="5" fill="#0000FF" />
<rect x="282" y="488" width="5" height="5" fill="#FF0000" />
<rect x="290" y="490" width="5" height="5" fill="#FF0000" />
<rect x="298" y="499" width="5" height="5" fill="#FF0000" />
<rect x="306" y="512" width="5" height="5" fill="#FF0000" />
<rect x="314" y="524" width="5" height="5" fill="#FF0000" />
<rect x="322" y="530" width="5" height="5" fill="#FF0000" />
<rect x="330" y="531" width="5" height="5" fill="#FF0000" />
<rect x="338" y="527" width="5" height="5" fill="#0000FF" />
<rect x="346" y="522" width="5" height="5" fill="#0000FF" />
<rect x="354" y="515" width="5" height="5" fill="#0000FF" />
<rect x="362" y="509" width="5" height="5" fill="#0000FF" />
<rect x="370" y="503" width="5" height="5" fill="#0000FF" />
<rect x="378" y="499" width="5" height="5" fill="#0000FF" />
<rect x="386" y="495" width="5" height="5" fill="#0000FF" />
<rect x="394" y="492" width="5" height="5" fill="#0000FF" />
<rect x="402" y="489" width="5" height="5" fill="#0000FF" />
<rect x="410" y="487" width="5" height="5" fill="#0000FF" />
<rect x="418" y="486" width="5" height="5" fill="#FF0000" />
<rect x="426" y="486" width="5" height="5" fill="#FF0000" />
<rect x="434" y="489" width="5" height="5" fill="#FF0000" />
<rect x="442" y="497" width="5" height="5" fill="#FF0000" />
<rect x="450" y="509" width="5" height="5" fill="#FF0000" />
<rect x="458" y="521" width="5" height="5" fill="#FF0000" />
<rect x="466" y="531" width="5" height="5" fill="#FF0000" />
<rect x="474" y="540" width="5" height="5" fill="#FF0000" />
<rect x="482" y="547" width="5" height="5" fill="#FF0000" />
<rect x="490" y="552" width="5" height="5" fill="#FF0000" />
<rect x="498" y="557" width="5" height="5" fill="#FF0000" />
<rect x="506" y="560" width="5" height="5" fill="#FF0000" />
<rect x="514" y="558" width="5" height="5" fill="#0000FF" />
<rect x="522" y="554" width="5" height="5" fill="#0000FF" />
<rect x="530" y="548" width="5" height="5" fill="#0000FF" />
<rect x="538" y="540" width="5" height="5" fill="#0000FF" />
<rect x="546" y="532" width="5" height="5" fill="#0000FF" />
<rect x="554" y="524" width="5" height="5" fill="#0000FF" />
<rect x="562" y="516" width="5" height="5" fill="#0000FF" />
<rect x="570" y="509" width="5" height="5" fill="#0000FF" />
<rect x="578" y="504" width="5" height="5" fill="#0000FF" />
<rect x="586" y="498" width="5" height="5" fill="#0000FF" />
<rect x="594" y="495" width="5" height="5" fill="#0000FF" />
<rect x="602" y="492" width="5" height="5" fill="#0000FF" />
<rect x="610" y="490" width="5" height="5" fill="#0000FF" />
<rect x="618" y="488" width="5" height="5" fill="#0000FF" />
<rect x="626" y="487" width="5" height="5" fill="#0000FF" />
<rect x="634" y="486" width="5" height="5" fill="#0000FF" />
<rect x="642" y="485" width="5" height="5" fill="#0000FF" />
<rect x="650" y="484" width="5" height="5" fill="#0000FF" />
<rect x="658" y="484" width="5" height="5" fill="#0000FF" />
<rect x="666" y="483" width="5" height="5" fill="#0000FF" />
<rect x="674" y="483" width="5" height="5" fill="#0000FF" />
<rect x="682" y="483" width="5" height="5" fill="#0000FF" />
<rect x="690" y="482" width="5" height="5" fill="#0000FF" />
<rect x="698" y="482" width="5" height="5" fill="#0000FF" />
<rect x="706" y="482" width="5" height="5" fill="#0000FF" />
<rect x="714" y="482" width="5" height="5" fill="#0000FF" />
<rect x="722" y="482" width="5" height="5" fill="#0000FF" />
<rect x="730" y="482" width="5" height="5" fill="#0000FF" />
<rect x="738" y="482" width="5" height="5" fill="#0000FF" />
<rect x="746" y="482" width="5" height="5" fill="#0000FF" />
<rect x="754" y="482" width="5" height="5" fill="#0000FF" />
<rect x="762" y="482" width="5" height="5" fill="#0000FF" />
<rect x="770" y="482" width="5" height="5" fill="#0000FF" />
<rect x="778" y="482" width="5" height="5" fill="#0000FF" />
<rect x="786" y="482" width="5" height="5" fill="#0000FF" />
<rect x="794" y="482" width="5" height="5" fill="#FF0000" />
<rect x="802" y="496" width="5" height="5" fill="#FF0000" />
<rect x="810" y="516" width="5" height="5" fill="#FF0000" />
<rect x="818" y="533" width="5" height="5" fill="#FF0000" />
<rect x="826" y="545" width="5" height="5" fill="#FF0000" />
<rect x="834" y="549" width="5" height="5" fill="#FF0000" />
<rect x="842" y="545" width="5" height="5" fill="#0000FF" />
<rect x="850" y="538" width="5" height="5" fill="#0000FF" />
<rect x="858" y="530" width="5" height="5" fill="#0000FF" />
<rect x="866" y="522" width="5" height="5" fill="#0000FF" />
<rect x="874" y="516" width="5" height="5" fill="#0000FF" />
<rect x="882" y="515" width="5" height="5" fill="#FF0000" />
<rect x="890" y="523" width="5" height="5" fill="#FF0000" />
<rect x="898" y="533" width="5" height="5" fill="#FF0000" />
<rect x="906" y="543" width="5" height="5" fill="#FF0000" />
<rect x="914" y="552" width="5" height="5" fill="#FF0000" />
<rect x="922" y="559" width="5" height="5" fill="#FF0000" />
<rect x="930" y="565" width="5" height="5" fill="#FF0000" />
<rect x="938" y="569" width="5" height="5" fill="#FF0000" />
<rect x="946" y="573" width="5" height="5" fill="#FF0000" />
<rect x="954" y="575" width="5" height="5" fill="#FF0000" />
<rect x="962" y="578" width="5" height="5" fill="#FF0000" />
<rect x="970" y="579" width="5" height="5" fill="#FF0000" />
<rect x="978" y="579" width="5" height="5" fill="#0000FF" />
<rect x="986" y="576" width="5" height="5" fill="#0000FF" />
<rect x="994" y="572" width="5" height="5" fill="#0000FF" />
<rect x="1002" y="568" width="5" height="5" fill="#0000FF" />
<rect x="1010" y="563" width="5" height="5" fill="#0000FF" />
<rect x="1018" y="558" width="5" height="5" fill="#0000FF" />
<rect x="1026" y="553" width="5" height="5" fill="#0000FF" />
<rect x="1034" y="548" width="5" height="5" fill="#0000FF" />
<rect x="1042" y="544" width="5" height="5" fill="#0000FF" />
<rect x="1050" y="540" width="5" height="5" fill="#0000FF" />
<rect x="1058" y="537" width="5" height="5" fill="#0000FF" />
<rect x="1066" y="532" width="5" height="5" fill="#0000FF" />
<rect x="1074" y="527" width="5" height="5" fill="#0000FF" />
<rect x="1082" y="522" width="5" height="5" fill="#0000FF" />
<rect x="1090" y="518" width="5" height="5" fill="#0000FF" />
<rect x="1098" y="515" width="5" height="5" fill="#0000FF" />
<rect x="1106" y="513" width="5" height="5" fill="#FF0000" />
<rect x="1114" y="514" width="5" height="5" fill="#FF0000" />
<rect x="1122" y="520" width="5" height="5" fill="#FF0000" />
<rect x="1130" y="527" width="5" height="5" fill="#FF0000" />
<rect x="1138" y="534" width="5" height="5" fill="#FF0000" />
<rect x="1146" y="542" width="5" height="5" fill="#FF0000" />
<rect x="1154" y="548" width="5" height="5" fill="#FF0000" />
<rect x="1162" y="553" width="5" height="5" fill="#FF0000" />
<rect x="1170" y="557" width="5" height="5" fill="#FF0000" />
<rect x="1178" y="559" width="5" height="5" fill="#FF0000" />
<rect x="1186" y="562" width="5" height="5" fill="#FF0000" />
<rect x="1194" y="565" width="5" height="5" fill="#FF0000" />
<rect x="1202" y="566" width="5" height="5" fill="#FF0000" />
<rect x="1210" y="568" width="5" height="5" fill="#FF0000" />
<rect x="1218" y="570" width="5" height="5" fill="#FF0000" />
<rect x="1226" y="572" width="5" height="5" fill="#FF0000" />
<rect x="1234" y="574" width="5" height="5" fill="#FF0000" />
<rect x="1242" y="575" width="5" height="5" fill="#FF0000" />
<rect x="1250" y="577" width="5" height="5" fill="#FF0000" />
<rect x="1258" y="578" width="5" height="5" fill="#FF0000" />
<rect x="1266" y="579" width="5" height="5" fill="#FF0000" />
<rect x="1274" y="580" width="5" height="5" fill="#FF0000" />
<rect x="1282" y="582" width="5" height="5" fill="#FF0000" />
<rect x="1290" y="583" width="5" height="5" fill="#FF0000" />
<rect x="1298" y="584" width="5" height="5" fill="#FF0000" />
<rect x="1306" y="585" width="5" height="5" fill="#FF0000" />
<rect x="1314" y="586" width="5" height="5" fill="#FF0000" />
<rect x="1322" y="586" width="5" height="5" fill="#FF0000" />
<rect x="1330" y="587" width="5" height="5" fill="#FF0000" />
<rect x="1338" y="587" width="5" height="5" fill="#FF0000" />
<rect x="1346" y="588" width="5" height="5" fill="#FF0000" />
<rect x="1354" y="588" width="5" height="5" fill="#FF0000" />
<rect x="1362" y="588" width="5" height="5" fill="#FF0000" />
<rect x="1370" y="589" width="5" height="5" fill="#FF0000" />
<rect x="1378" y="589" width="5" height="5" fill="#FF0000" />
<rect x="1386" y="589" width="5" height="5" fill="#FF0000" />
<rect x="1394" y="589" width="5" height="5" fill="#FF0000" />
<rect x="1402" y="589" width="5" height="5" fill="#FF0000" />
<rect x="1410" y="584" width="5" height="5" fill="#0000FF" />
<rect x="1418" y="574" width="5" height="5" fill="#0000FF" />
<rect x="1426" y="561" width="5" height="5" fill="#0000FF" />
<rect x="1434" y="548" width="5" height="5" fill="#0000FF" />
<rect x="1442" y="536" width="5" height="5" fill="#0000FF" />
<rect x="1450" y="527" width="5" height="5" fill="#0000FF" />
<rect x="1458" y="518" width="5" height="5" fill="#0000FF" />
<rect x="1466" y="511" width="5" height="5" fill="#0000FF" />
<rect x="2.5" y="585.5" width="5" height="4" fill="none" stroke="#008000"/>
<rect x="10.5" y="585.5" width="5" height="4" fill="none" stroke="#008000"/>
<rect x="18.5" y="585.5" width="5" height="4" fill="none" stroke="#008000"/>
<rect x="26.5" y="585.5" width="5" height="4" fill="none" stroke="#008000"/>
<rect x="34.5" y="585.5" width="5" height="4" fill="none" stroke="#008000"/>
<rect x="42.5" y="585.5" width="5" height="4" fill="none" stroke="#008000"/>
<rect x="50.5" y="585.5" width="5" height="4" fill="none" stroke="#008000"/>
<rect x="58.5" y="585.5" width="5" height="4" fill="none" stroke="#008000"/>
<rect x="66.5" y="585.5" width="5" height="4" fill="none" stroke="#008000"/>
<rect x="74.5" y="585.5" width="5" height="4" fill="none" stroke="#008000"/>
<rect x="82.5" y="585.5" width="5" height="4" fill="none" stroke="#008000"/>
<rect x="90.5" y="585.5" width="5" height="4" fill="none" stroke="#008000"/>
<rect x="98.5" y="585.5" width="5" height="4" fill="none" stroke="#008000"/>
<rect x="106.5" y="585.5" width="5" height="4" fill="none" stroke="#008000"/>
<rect x="114.5" y="585.5" width="5" height="4" fill="none" stroke="#008000"/>
<rect x="122.5" y="585.5" width="5" height="4" fill="none" stroke="#008000"/>
<rect x="130.5" y="585.5" width="5" height="4" fill="none" stroke="#008000"/>
<rect x="138.5" y="585.5" width="5" height="4" fill="none" stroke="#008000"/>
<rect x="146.5" y="585.5" width="5" height="4" fill="none" stroke="#008000"/>
<rect x="154.5" y="585.5" width="5" height="4" fill="none" stroke="#008000"/>
<rect x="162.5" y="585.5" width="5" height="4" fill="none" stroke="#008000"/>
<rect x="170.5" y="585.5" width="5" height="4" fill="none" stroke="#008000"/>
<rect x="178.5" y="585.5" width="5" height="4" fill="none" stroke="#008000"/>
<rect x="186.5" y="585.5" width="5" height="4" fill="none" stroke="#008000"/>
<rect x="194.5" y="585.5" width="5" height="4" fill="none" stroke="#008000"/>
<rect x="202.5" y="585.5" width="5" height="4" fill="none" stroke="#008000"/>
<rect x="210.5" y="585.5" width="5" height="4" fill="none" stroke="#008000"/>
<rect x="218.5" y="585.5" width="5" height="4" fill="none" stroke="#008000"/>
<rect x="226.5" y="585.5" width="5" height="4" fill="none" stroke="#008000"/>
<rect x="234.5" y="585.5" width="5" height="4" fill="none" stroke="#008000"/>
<rect x="242.5" y="585.5" width="5" height="4" fill="none" stroke="#008000"/>
<rect x="250.5" y="585.5" width="5" height="4" fill="none" stroke="#008000"/>
<rect x="258.5" y="585.5" width="5" height="4" fill="none" stroke="#008000"/>
<rect x="266.5" y="585.5" width="5" height="4" fill="none" stroke="#008000"/>
<rect x="274.5" y="585.5" width="5" height="4" fill="none" stroke="#008000"/>
<rect x="282.5" y="585.5" width="5" height="4" fill="none" stroke="#008000"/>
<rect x="290.5" y="585.5" width="5" height="4" fill="none" stroke="#008000"/>
<rect x="298.5" y="585.5" width="5" height="4" fill="none" stroke="#008000"/>
<rect x="306.5" y="585.5" width="5" height="4" fill="none" stroke="#008000"/>
<rect x="314.5" y="585.5" width="5" height="4" fill="none" stroke="#008000"/>
<rect x="322.5" y="585.5" width="5" height="4" fill="none" stroke="#008000"/>
<rect x="330.5" y="585.5" width="5" height="4" fill="none" stroke="#008000"/>
<rect x="338.5" y="585.5" width="5" height="4" fill="none" stroke="#008000"/>
<rect x="346.5" y="585.5" width="5" height="4" fill="none" stroke="#008000"/>
<rect x="354.5" y="585.5" width="5" height="4" fill="none" stroke="#008000"/>
<rect x="362.5" y="585.5" width="5" height="4" fill="none" stroke="#008000"/>
<rect x="370.5" y="585.5" width="5" height="4" fill="none" stroke="#008000"/>
<rect x="378.5" y="585.5" width="5" height="4" fill="none" stroke="#008000"/>
<rect x="386.5" y="585.5" width="5" height="4" fill="none" stroke="#008000"/>
<rect x="394.5" y="585.5" width="5" height="4" fill="none" stroke="#008000"/>
<rect x="402.5" y="585.5" width="5" height="4" fill="none" stroke="#008000"/>
<rect x="410.5" y="585.5" width="5" height="4" fill="none" stroke="#008000"/>
<rect x="418.5" y="585.5" width="5" height="4" fill="none" stroke="#008000"/>
<rect x="426.5" y="585.5" width="5" height="4" fill="none" stroke="#008000"/>
<rect x="434.5" y="585.5" width="5" height="4" fill="none" stroke="#008000"/>
<rect x="442.5" y="585.5" width="5" height="4" fill="none" stroke="#008000"/>
<rect x="450.5" y="585.5" width="5" height="4" fill="none" stroke="#008000"/>
<rect x="458.5" y="585.5" width="5" height="4" fill="none" stroke="#008000"/>
<rect x="466.5" y="585.5" width="5" height="4" fill="none" stroke="#008000"/>
<rect x="474.5" y="585.5" width="5" height="4" fill="none" stroke="#008000"/>
<rect x="482.5" y="585.5" width="5" height="4" fill="none" stroke="#008000"/>
<rect x="490.5" y="585.5" width="5" height="4" fill="none" stroke="#008000"/>
<rect x="498.5" y="585.5" width="5" height="4" fill="none" stroke="#008000"/>
<rect x="506.5" y="585.5" width="5" height="4" fill="none" stroke="#008000"/>
<rect x="514.5" y="585.5" width="5" height="4" fill="none" stroke="#008000"/>
<rect x="522.5" y="585.5" width="5" height="4" fill="none" stroke="#008000"/>
<rect x="530.5" y="585.5" width="5" height="4" fill="none" stroke="#008000"/>
<rect x="538.5" y="585.5" width="5" height="4" fill="none" stroke="#008000"/>
<rect x="546.5" y="585.5" width="5" height="4" fill="none" stroke="#008000"/>
<rect x="554.5" y="585.5" width="5" height="4" fill="none" stroke="#008000"/>
<rect x="562.5" y="585.5" width="5" height="4" fill="none" stroke="#008000"/>
<rect x="570.5" y="585.5" width="5" height="4" fill="none" stroke="#008000"/>
<rect x="578.5" y="584.5" width="5" height="4" fill="none" stroke="#008000"/>
<rect x="586.5" y="584.5" width="5" height="4" fill="none" stroke="#008000"/>
<rect x="594.5" y="584.5" width="5" height="4" fill="none" stroke="#008000"/>
<rect x="602.5" y="584.5" width="5" height="4" fill="none" stroke="#008000"/>
<rect x="610.5" y="584.5" width="5" height="4" fill="none" stroke="#008000"/>
<rect x="618.5" y="584.5" width="5" height="4" fill="none" stroke="#008000"/>
<rect x="626.5" y="584.5" width="5" height="4" fill="none" stroke="#008000"/>
<rect x="634.5" y="584.5" width="5" height="4" fill="none" stroke="#008000"/>
<rect x="642.5" y="584.5" width="5" height="4" fill="none" stroke="#008000"/>
<rect x="650.5" y="584.5" width="5" height="4" fill="none" stroke="#008000"/>
<rect x="658.5" y="584.5" width="5" height="4" fill="none" stroke="#008000"/>
<rect x="666.5" y="584.5" width="5" height="4" fill="none" stroke="#008000"/>
<rect x="674.5" y="584.5" width="5" height="4" fill="none" stroke="#008000"/>
<rect x="682.5" y="584.5" width="5" height="4" fill="none" stroke="#008000"/>
<rect x="690.5" y="584.5" width="5" height="4" fill="none" stroke="#008000"/>
<rect x="698.5" y="584.5" width="5" height="4" fill="none" stroke="#008000"/>
<rect x="706.5" y="584.5" width="5" height="4" fill="none" stroke="#008000"/>
<rect x="714.5" y="584.5" width="5" height="4" fill="none" stroke="#008000"/>
<rect x="722.5" y="584.5" width="5" height="4" fill="none" stroke="#008000"/>
<rect x="730.5" y="584.5" width="5" height="4" fill="none" stroke="#008000"/>
<rect x="738.5" y="584.5" width="5" height="4" fill="none" stroke="#008000"/>
<rect x="746.5" y="584.5" width="5" height="4" fill="none" stroke="#008000"/>
<rect x="754.5" y="583.5" width="5" height="4" fill="none" stroke="#008000"/>
<rect x="762.5" y="583.5" width="5" height="4" fill="none" stroke="#008000"/>
<rect x="770.5" y="582.5" width="5" height="4" fill="none" stroke="#008000"/>
<rect x="778.5" y="582.5" width="5" height="4" fill="none" stroke="#008000"/>
<rect x="786.5" y="582.5" width="5" height="4" fill="none" stroke="#008000"/>
<rect x="794.5" y="582.5" width="5" height="4" fill="none" stroke="#008000"/>
<rect x="802.5" y="581.5" width="5" height="4" fill="none" stroke="#008000"/>
<rect x="810.5" y="581.5" width="5" height="4" fill="none" stroke="#008000"/>
<rect x="818.5" y="581.5" width="5" height="4" fill="none" stroke="#008000"/>
<rect x="826.5" y="580.5" width="5" height="4" fill="none" stroke="#008000"/>
<rect x="834.5" y="580.5" width="5" height="4" fill="none" stroke="#008000"/>
<rect x="842.5" y="580.5" width="5" height="4" fill="none" stroke="#008000"/>
<rect x="850.5" y="579.5" width="5" height="4" fill="none" stroke="#008000"/>
<rect x="858.5" y="579.5" width="5" height="4" fill="none" stroke="#008000"/>
<rect x="866.5" y="579.5" width="5" height="4" fill="none" stroke="#008000"/>
<rect x="874.5" y="578.5" width="5" height="4" fill="none" stroke="#008000"/>
<rect x="882.5" y="578.5" width="5" height="4" fill="none" stroke="#008000"/>
<rect x="890.5" y="578.5" width="5" height="4" fill="none" stroke="#008000"/>
<rect x="898.5" y="577.5" width="5" height="4" fill="none" stroke="#008000"/>
<rect x="906.5" y="577.5" width="5" height="4" fill="none" stroke="#008000"/>
<rect x="914.5" y="577.5" width="5" height="4" fill="none" stroke="#008000"/>
<rect x="922.5" y="576.5" width="5" height="4" fill="none" stroke="#008000"/>
<rect x="930.5" y="576.5" width="5" height="4" fill="none" stroke="#008000"/>
<rect x="938.5" y="576.5" width="5" height="4" fill="none" stroke="#008000"/>
<rect x="946.5" y="575.5" width="5" height="4" fill="none" stroke="#008000"/>
<rect x="954.5" y="575.5" width="5" height="4" fill="none" stroke="#008000"/>
<rect x="962.5" y="575.5" width="5" height="4" fill="none" stroke="#008000"/>
<rect x="970.5" y="575.5" width="5" height="4" fill="none" stroke="#008000"/>
<rect x="978.5" y="574.5" width="5" height="4" fill="none" stroke="#008000"/>
<rect x="986.5" y="574.5" width="5" height="4" fill="none" stroke="#008000"/>
<rect x="994.5" y="573.5" width="5" height="4" fill="none" stroke="#008000"/>
<rect x="1002.5" y="573.5" width="5" height="4" fill="none" stroke="#008000"/>
<rect x="1010.5" y="572.5" width="5" height="4" fill="none" stroke="#008000"/>
<rect x="1018.5" y="572.5" width="5" height="4" fill="none" stroke="#008000"/>
<rect x="1026.5" y="571.5" width="5" height="4" fill="none" stroke="#008000"/>
<rect x="1034.5" y="571.5" width="5" height="4" fill="none" stroke="#008000"/>
<rect x="1042.5" y="570.5" width="5" height="4" fill="none" stroke="#008000"/>
<rect x="1050.5" y="570.5" width="5" height="4" fill="none" stroke="#008000"/>
<rect x="1058.5" y="570.5" width="5" height="4" fill="none" stroke="#008000"/>
<rect x="1066.5" y="569.5" width="5" height="4" fill="none" stroke="#008000"/>
<rect x="1074.5" y="569.5" width="5" height="4" fill="none" stroke="#008000"/>
<rect x="1082.5" y="568.5" width="5" height="4" fill="none" stroke="#008000"/>
<rect x="1090.5" y="568.5" width="5" height="4" fill="none" stroke="#008000"/>
<rect x="1098.5" y="567.5" width="5" height="4" fill="none" stroke="#008000"/>
<rect x="1106.5" y="567.5" width="5" height="4" fill="none" stroke="#008000"/>
<rect x="1114.5" y="566.5" width="5" height="4" fill="none" stroke="#008000"/>
<rect x="1122.5" y="566.5" width="5" height="4" fill="none" stroke="#008000"/>
<rect x="1130.5" y="565.5" width="5" height="4" fill="none" stroke="#008000"/>
<rect x="1138.5" y="565.5" width="5" height="4" fill="none" stroke="#008000"/>
<rect x="1146.5" y="565.5" width="5" height="4" fill="none" stroke="#008000"/>
<rect x="1154.5" y="564.5" width="5" height="4" fill="none" stroke="#008000"/>
<rect x="1162.5" y="564.5" width="5" height="4" fill="none" stroke="#008000"/>
<rect x="1170.5" y="563.5" width="5" height="4" fill="none" stroke="#008000"/>
<rect x="1178.5" y="563.5" width="5" height="4" fill="none" stroke="#008000"/>
<rect x="1186.5" y="562.5" width="5" height="4" fill="none" stroke="#008000"/>
<rect x="1194.5" y="562.5" width="5" height="4" fill="none" stroke="#008000"/>
<rect x="1202.5" y="561.5" width="5" height="4" fill="none" stroke="#008000"/>
<rect x="1210.5" y="561.5" width="5" height="4" fill="none" stroke="#008000"/>
<rect x="1218.5" y="561.5" width="5" height="4" fill="none" stroke="#008000"/>
<rect x="1226.5" y="560.5" width="5" height="4" fill="none" stroke="#008000"/>
<rect x="1234.5" y="560.5" width="5" height="4" fill="none" stroke="#008000"/>
<rect x="1242.5" y="559.5" width="5" height="4" fill="none" stroke="#008000"/>
<rect x="1250.5" y="559.5" width="5" height="4" fill="none" stroke="#008000"/>
<rect x="1258.5" y="558.5" width="5" height="4" fill="none" stroke="#008000"/>
<rect x="1266.5" y="558.5" width="5" height="4" fill="none" stroke="#008000"/>
<rect x="1274.5" y="557.5" width="5" height="4" fill="none" stroke="#008000"/>
<rect x="1282.5" y="557.5" width="5" height="4" fill="none" stroke="#008000"/>
<rect x="1290.5" y="557.5" width="5" height="4" fill="none" stroke="#008000"/>
<rect x="1298.5" y="556.5" width="5" height="4" fill="none" stroke="#008000"/>
<rect x="1306.5" y="556.5" width="5" height="4" fill="none" stroke="#008000"/>
<rect x="1314.5" y="555.5" width="5" height="4" fill="none" stroke="#008000"/>
<rect x="1322.5" y="555.5" width="5" height="4" fill="none" stroke="#008000"/>
<rect x="1330.5" y="554.5" width="5" height="4" fill="none" stroke="#008000"/>
<rect x="1338.5" y="554.5" width="5" height="4" fill="none" stroke="#008000"/>
<rect x="1346.5" y="554.5" width="5" height="4" fill="none" stroke="#008000"/>
<rect x="1354.5" y="553.5" width="5" height="4" fill="none" stroke="#008000"/>
<rect x="1362.5" y="553.5" width="5" height="4" fill="none" stroke="#008000"/>
<rect x="1370.5" y="552.5" width="5" height="4" fill="none" stroke="#008000"/>
<rect x="1378.5" y="552.5" width="5" height="4" fill="none" stroke="#008000"/>
<rect x="1386.5" y="551.5" width="5" height="4" fill="none" stroke="#008000"/>
<rect x="1394.5" y="551.5" width="5" height="4" fill="none" stroke="#008000"/>
<rect x="1402.5" y="550.5" width="5" height="4" fill="none" stroke="#008000"/>
<rect x="1410.5" y="550.5" width="5" height="4" fill="none" stroke="#008000"/>
<rect x="1418.5" y="550.5" width="5" height="4" fill="none" stroke="#008000"/>
<rect x="1426.5" y="549.5" width="5" height="4" fill="none" stroke="#008000"/>
<rect x="1434.5" y="548.5" width="5" height="4" fill="none" stroke="#008000"/>
<rect x="1442.5" y="548.5" width="5" height="4" fill="none" stroke="#008000"/>
<rect x="1450.5" y="548.5" width="5" height="4" fill="none" stroke="#008000"/>
<rect x="1458.5" y="547.5" width="5" height="4" fill="none" stroke="#008000"/>
<rect x="1466.5" y="547.5" width="5" height="4" fill="none" stroke="#008000"/>
<rect x="2.5" y="558.5" width="5" height="4" fill="none" stroke="#00FF00"/>
<rect x="10.5" y="557.5" width="5" height="4" fill="none" stroke="#00FF00"/>
<rect x="18.5" y="555.5" width="5" height="4" fill="none" stroke="#00FF00"/>
<rect x="26.5" y="554.5" width="5" height="4" fill="none" stroke="#00FF00"/>
<rect x="34.5" y="553.5" width="5" height="4" fill="none" stroke="#00FF00"/>
<rect x="42.5" y="552.5" width="5" height="4" fill="none" stroke="#00FF00"/>
<rect x="50.5" y="551.5" width="5" height="4" fill="none" stroke="#00FF00"/>
<rect x="58.5" y="550.5" width="5" height="4" fill="none" stroke="#00FF00"/>
<rect x="66.5" y="549.5" width="5" height="4" fill="none" stroke="#00FF00"/>
<rect x="74.5" y="548.5" width="5" height="4" fill="none" stroke="#00FF00"/>
<rect x="82.5" y="547.5" width="5" height="4" fill="none" stroke="#00FF00"/>
<rect x="90.5" y="547.5" width="5" height="4" fill="none" stroke="#00FF00"/>
<rect x="98.5" y="546.5" width="5" height="4" fill="none" stroke="#00FF00"/>
<rect x="106.5" y="545.5" width="5" height="4" fill="none" stroke="#00FF00"/>
<rect x="114.5" y="544.5" width="5" height="4" fill="none" stroke="#00FF00"/>
<rect x="122.5" y="544.5" width="5" height="4" fill="none" stroke="#00FF00"/>
<rect x="130.5" y="543.5" width="5" height="4" fill="none" stroke="#00FF00"/>
<rect x="138.5" y="543.5" width="5" height="4" fill="none" stroke="#00FF00"/>
<rect x="146.5" y="543.5" width="5" height="4" fill="none" stroke="#00FF00"/>
<rect x="154.5" y="543.5" width="5" height="4" fill="none" stroke="#00FF00"/>
<rect x="162.5" y="543.5" width="5" height="4" fill="none" stroke="#00FF00"/>
<rect x="170.5" y="543.5" width="5" height="4" fill="none" stroke="#FF00FF"/>
<rect x="178.5" y="543.5" width="5" height="4" fill="none" stroke="#FF00FF"/>
<rect x="186.5" y="543.5" width="5" height="4" fill="none" stroke="#FF00FF"/>
<rect x="194.5" y="544.5" width="5" height="4" fill="none" stroke="#FF00FF"/>
<rect x="202.5" y="544.5" width="5" height="4" fill="none" stroke="#FF00FF"/>
<rect x="210.5" y="544.5" width="5" height="4" fill="none" stroke="#FF00FF"/>
<rect x="218.5" y="544.5" width="5" height="4" fill="none" stroke="#FF00FF"/>
<rect x="226.5" y="544.5" width="5" height="4" fill="none" stroke="#00FF00"/>
<rect x="234.5" y="544.5" width="5" height="4" fill="none" stroke="#00FF00"/>
<rect x="242.5" y="544.5" width="5" height="4" fill="none" stroke="#00FF00"/>
<rect x="250.5" y="544.5" width="5" height="4" fill="none" stroke="#00FF00"/>
<rect x="258.5" y="544.5" width="5" height="4" fill="none" stroke="#00FF00"/>
<rect x="266.5" y="544.5" width="5" height="4" fill="none" stroke="#00FF00"/>
<rect x="274.5" y="543.5" width="5" height="4" fill="none" stroke="#00FF00"/>
<rect x="282.5" y="542.5" width="5" height="4" fill="none" stroke="#00FF00"/>
<rect x="290.5" y="542.5" width="5" height="4" fill="none" stroke="#00FF00"/>
<rect x="298.5" y="541.5" width="5" height="4" fill="none" stroke="#00FF00"/>
<rect x="306.5" y="540.5" width="5" height="4" fill="none" stroke="#00FF00"/>
<rect x="314.5" y="540.5" width="5" height="4" fill="none" stroke="#00FF00"/>
<rect x="322.5" y="539.5" width="5" height="4" fill="none" stroke="#00FF00"/>
<rect x="330.5" y="538.5" width="5" height="4" fill="none" stroke="#00FF00"/>
<rect x="338.5" y="538.5" width="5" height="4" fill="none" stroke="#00FF00"/>
<rect x="346.5" y="537.5" width="5" height="4" fill="none" stroke="#00FF00"/>
<rect x="354.5" y="536.5" width="5" height="4" fill="none" stroke="#00FF00"/>
<rect x="362.5" y="535.5" width="5" height="4" fill="none" stroke="#00FF00"/>
<rect x="370.5" y="533.5" width="5" height="4" fill="none" stroke="#00FF00"/>
<rect x="378.5" y="532.5" width="5" height="4" fill="none" stroke="#00FF00"/>
<rect x="386.5" y="531.5" width="5" height="4" fill="none" stroke="#00FF00"/>
<rect x="394.5" y="529.5" width="5" height="4" fill="none" stroke="#00FF00"/>
<rect x="402.5" y="528.5" width="5" height="4" fill="none" stroke="#00FF00"/>
<rect x="410.5" y="527.5" width="5" height="4" fill="none" stroke="#00FF00"/>
<rect x="418.5" y="525.5" width="5" height="4" fill="none" stroke="#00FF00"/>
<rect x="426.5" y="524.5" width="5" height="4" fill="none" stroke="#00FF00"/>
<rect x="434.5" y="523.5" width="5" height="4" fill="none" stroke="#00FF00"/>
<rect x="442.5" y="521.5" width="5" height="4" fill="none" stroke="#00FF00"/>
<rect x="450.5" y="520.5" width="5" height="4" fill="none" stroke="#00FF00"/>
<rect x="458.5" y="519.5" width="5" height="4" fill="none" stroke="#00FF00"/>
<rect x="466.5" y="517.5" width="5" height="4" fill="none" stroke="#00FF00"/>
<rect x="474.5" y="516.5" width="5" height="4" fill="none" stroke="#00FF00"/>
<rect x="482.5" y="515.5" width="5" height="4" fill="none" stroke="#00FF00"/>
<rect x="490.5" y="514.5" width="5" height="4" fill="none" stroke="#00FF00"/>
<rect x="498.5" y="513.5" width="5" height="4" fill="none" stroke="#00FF00"/>
<rect x="506.5" y="512.5" width="5" height="4" fill="none" stroke="#00FF00"/>
<rect x="514.5" y="511.5" width="5" height="4" fill="none" stroke="#00FF00"/>
<rect x="522.5" y="510.5" width="5" height="4" fill="none" stroke="#00FF00"/>
<rect x="530.5" y="509.5" width="5" height="4" fill="none" stroke="#00FF00"/>
<rect x="538.5" y="508.5" width="5" height="4" fill="none" stroke="#00FF00"/>
<rect x="546.5" y="507.5" width="5" height="4" fill="none" stroke="#00FF00"/>
<rect x="554.5" y="506.5" width="5" height="4" fill="none" stroke="#00FF00"/>
<rect x="562.5" y="505.5" width="5" height="4" fill="none" stroke="#00FF00"/>
<rect x="570.5" y="505.5" width="5" height="4" fill="none" stroke="#00FF00"/>
<rect x="578.5" y="504.5" width="5" height="4" fill="none" stroke="#00FF00"/>
<rect x="586.5" y="503.5" width="5" height="4" fill="none" stroke="#00FF00"/>
<rect x="594.5" y="502.5" width="5" height="4" fill="none" stroke="#00FF00"/>
<rect x="602.5" y="502.5" width="5" height="4" fill="none" stroke="#00FF00"/>
<rect x="610.5" y="501.5" width="5" height="4" fill="none" stroke="#00FF00"/>
<rect x="618.5" y="500.5" width="5" height="4" fill="none" stroke="#00FF00"/>
<rect x="626.5" y="500.5" width="5" height="4" fill="none" stroke="#00FF00"/>
<rect x="634.5" y="499.5" width="5" height="4" fill="none" stroke="#00FF00"/>
<rect x="642.5" y="498.5" width="5" height="4" fill="none" stroke="#00FF00"/>
<rect x="650.5" y="498.5" width="5" height="4" fill="none" stroke="#00FF00"/>
<rect x="658.5" y="497.5" width="5" height="4" fill="none" stroke="#00FF00"/>
<rect x="666.5" y="497.5" width="5" height="4" fill="none" stroke="#00FF00"/>
<rect x="674.5" y="496.5" width="5" height="4" fill="none" stroke="#00FF00"/>
<rect x="682.5" y="495.5" width="5" height="4" fill="none" stroke="#00FF00"/>
<rect x="690.5" y="495.5" width="5" height="4" fill="none" stroke="#00FF00"/>
<rect x="698.5" y="494.5" width="5" height="4" fill="none" stroke="#00FF00"/>
<rect x="706.5" y="494.5" width="5" height="4" fill="none" stroke="#00FF00"/>
<rect x="714.5" y="493.5" width="5" height="4" fill="none" stroke="#00FF00"/>
<rect x="722.5" y="493.5" width="5" height="4" fill="none" stroke="#00FF00"/>
<rect x="730.5" y="492.5" width="5" height="4" fill="none" stroke="#00FF00"/>
<rect x="738.5" y="491.5" width="5" height="4" fill="none" stroke="#00FF00"/>
<rect x="746.5" y="491.5" width="5" height="4" fill="none" stroke="#00FF00"/>
<rect x="754.5" y="490.5" width="5" height="4" fill="none" stroke="#00FF00"/>
<rect x="762.5" y="490.5" width="5" height="4" fill="none" stroke="#00FF00"/>
<rect x="770.5" y="490.5" width="5" height="4" fill="none" stroke="#00FF00"/>
<rect x="778.5" y="490.5" width="5" height="4" fill="none" stroke="#00FF00"/>
<rect x="786.5" y="489.5" width="5" height="4" fill="none" stroke="#00FF00"/>
<rect x="794.5" y="489.5" width="5" height="4" fill="none" stroke="#00FF00"/>
<rect x="802.5" y="488.5" width="5" height="4" fill="none" stroke="#00FF00"/>
<rect x="810.5" y="488.5" width="5" height="4" fill="none" stroke="#00FF00"/>
<rect x="818.5" y="488.5" width="5" height="4" fill="none" stroke="#00FF00"/>
<rect x="826.5" y="488.5" width="5" height="4" fill="none" stroke="#00FF00"/>
<rect x="834.5" y="488.5" width="5" height="4" fill="none" stroke="#00FF00"/>
<rect x="842.5" y="488.5" width="5" height="4" fill="none" stroke="#00FF00"/>
<rect x="850.5" y="488.5" width="5" height="4" fill="none" stroke="#00FF00"/>
<rect x="858.5" y="486.5" width="5" height="4" fill="none" stroke="#00FF00"/>
<rect x="866.5" y="486.5" width="5" height="4" fill="none" stroke="#00FF00"/>
<rect x="874.5" y="486.5" width="5" height="4" fill="none" stroke="#00FF00"/>
<rect x="882.5" y="486.5" width="5" height="4" fill="none" stroke="#00FF00"/>
<rect x="890.5" y="485.5" width="5" height="4" fill="none" stroke="#00FF00"/>
<rect x="898.5" y="485.5" width="5" height="4" fill="none" stroke="#00FF00"/>
<rect x="906.5" y="485.5" width="5" height="4" fill="none" stroke="#00FF00"/>
<rect x="914.5" y="485.5" width="5" height="4" fill="none" stroke="#00FF00"/>
<rect x="922.5" y="485.5" width="5" height="4" fill="none" stroke="#00FF00"/>
<rect x="930.5" y="485.5" width="5" height="4" fill="none" stroke="#00FF00"/>
<rect x="938.5" y="484.5" width="5" height="4" fill="none" stroke="#00FF00"/>
<rect x="946.5" y="484.5" width="5" height="4" fill="none" stroke="#00FF00"/>
<rect x="954.5" y="484.5" width="5" height="4" fill="none" stroke="#00FF00"/>
<rect x="962.5" y="484.5" width="5" height="4" fill="none" stroke="#00FF00"/>
<rect x="970.5" y="484.5" width="5" height="4" fill="none" stroke="#00FF00"/>
<rect x="978.5" y="484.5" width="5" height="4" fill="none" stroke="#00FF00"/>
<rect x="986.5" y="484.5" width="5" height="4" fill="none" stroke="#00FF00"/>
<rect x="994.5" y="484.5" width="5" height="4" fill="none" stroke="#00FF00"/>
<rect x="1002.5" y="484.5" width="5" height="4" fill="none" stroke="#00FF00"/>
<rect x="1010.5" y="482.5" width="5" height="4" fill="none" stroke="#00FF00"/>
<rect x="1018.5" y="482.5" width="5" height="4" fill="none" stroke="#00FF00"/>
<rect x="1026.5" y="482.5" width="5" height="4" fill="none" stroke="#00FF00"/>
<rect x="1034.5" y="482.5" width="5" height="4" fill="none" stroke="#00FF00"/>
<rect x="1042.5" y="482.5" width="5" height="4" fill="none" stroke="#00FF00"/>
<rect x="1050.5" y="482.5" width="5" height="4" fill="none" stroke="#00FF00"/>
<rect x="1058.5" y="482.5" width="5" height="4" fill="none" stroke="#00FF00"/>
<rect x="1066.5" y="482.5" width="5" height="4" fill="none" stroke="#00FF00"/>
<rect x="1074.5" y="482.5" width="5" height="4" fill="none" stroke="#00FF00"/>
<rect x="1082.5" y="482.5" width="5" height="4" fill="none" stroke="#00FF00"/>
<rect x="1090.5" y="482.5" width="5" height="4" fill="none" stroke="#00FF00"/>
<rect x="1098.5" y="482.5" width="5" height="4" fill="none" stroke="#00FF00"/>
<rect x="1106.5" y="482.5" width="5" height="4" fill="none" stroke="#00FF00"/>
<rect x="1114.5" y="482.5" width="5" height="4" fill="none" stroke="#00FF00"/>
<rect x="1122.5" y="482.5" width="5" height="4" fill="none" stroke="#00FF00"/>
<rect x="1130.5" y="482.5" width="5" height="4" fill="none" stroke="#00FF00"/>
<rect x="1138.5" y="482.5" width="5" height="4" fill="none" stroke="#00FF00"/>
<rect x="1146.5" y="482.5" width="5" height="4" fill="none" stroke="#00FF00"/>
<rect x="1154.5" y="482.5" width="5" height="4" fill="none" stroke="#00FF00"/>
<rect x="1162.5" y="482.5" width="5" height="4" fill="none" stroke="#00FF00"/>
<rect x="1170.5" y="482.5" width="5" height="4" fill="none" stroke="#00FF00"/>
<rect x="1178.5" y="482.5" width="5" height="4" fill="none" stroke="#FF00FF"/>
<rect x="1186.5" y="483.5" width="5" height="4" fill="none" stroke="#FF00FF"/>
<rect x="1194.5" y="484.5" width="5" height="4" fill="none" stroke="#FF00FF"/>
<rect x="1202.5" y="485.5" width="5" height="4" fill="none" stroke="#FF00FF"/>
<rect x="1210.5" y="486.5" width="5" height="4" fill="none" stroke="#FF00FF"/>
<rect x="1218.5" y="487.5" width="5" height="4" fill="none" stroke="#FF00FF"/>
<rect x="1226.5" y="488.5" width="5" height="4" fill="none" stroke="#FF00FF"/>
<rect x="1234.5" y="490.5" width="5" height="4" fill="none" stroke="#FF00FF"/>
<rect x="1242.5" y="492.5" width="5" height="4" fill="none" stroke="#FF00FF"/>
<rect x="1250.5" y="494.5" width="5" height="4" fill="none" stroke="#FF00FF"/>
<rect x="1258.5" y="496.5" width="5" height="4" fill="none" stroke="#FF00FF"/>
<rect x="1266.5" y="499.5" width="5" height="4" fill="none" stroke="#FF00FF"/>
<rect x="1274.5" y="501.5" width="5" height="4" fill="none" stroke="#FF00FF"/>
<rect x="1282.5" y="504.5" width="5" height="4" fill="none" stroke="#FF00FF"/>
<rect x="1290.5" y="506.5" width="5" height="4" fill="none" stroke="#FF00FF"/>
<rect x="1298.5" y="509.5" width="5" height="4" fill="none" stroke="#FF00FF"/>
<rect x="1306.5" y="512.5" width="5" height="4" fill="none" stroke="#FF00FF"/>
<rect x="1314.5" y="515.5" width="5" height="4" fill="none" stroke="#FF00FF"/>
<rect x="1322.5" y="517.5" width="5" height="4" fill="none" stroke="#FF00FF"/>
<rect x="1330.5" y="520.5" width="5" height="4" fill="none" stroke="#FF00FF"/>
<rect x="1338.5" y="523.5" width="5" height="4" fill="none" stroke="#FF00FF"/>
<rect x="1346.5" y="526.5" width="5" height="4" fill="none" stroke="#FF00FF"/>
<rect x="1354.5" y="528.5" width="5" height="4" fill="none" stroke="#FF00FF"/>
<rect x="1362.5" y="531.5" width="5" height="4" fill="none" stroke="#FF00FF"/>
<rect x="1370.5" y="534.5" width="5" height="4" fill="none" stroke="#FF00FF"/>
<rect x="1378.5" y="536.5" width="5" height="4" fill="none" stroke="#FF00FF"/>
<rect x="1386.5" y="538.5" width="5" height="4" fill="none" stroke="#FF00FF"/>
<rect x="1394.5" y="541.5" width="5" height="4" fill="none" stroke="#FF00FF"/>
<rect x="1402.5" y="543.5" width="5" height="4" fill="none" stroke="#FF00FF"/>
<rect x="1410.5" y="545.5" width="5" height="4" fill="none" stroke="#FF00FF"/>
<rect x="1418.5" y="548.5" width="5" height="4" fill="none" stroke="#FF00FF"/>
<rect x="1426.5" y="549.5" width="5" height="4" fill="none" stroke="#FF00FF"/>
<rect x="1434.5" y="551.5" width="5" height="4" fill="none" stroke="#FF00FF"/>
<rect x="1442.5" y="553.5" width="5" height="4" fill="none" stroke="#FF00FF"/>
<rect x="1450.5" y="555.5" width="5" height="4" fill="none" stroke="#FF00FF"/>
<rect x="1458.5" y="556.5" width="5" height="4" fill="none" stroke="#FF00FF"/>
<rect x="1466.5" y="558.5" width="5" height="4" fill="none" stroke="#FF00FF"/>
<circle cx="44.5" cy="580.3" r="7" fill="none" stroke="#fff" stroke-width="1.35" shape-rendering="auto"/>
<text x="44.5" y="584.6" font-size="12" fill="#fff" text-anchor="middle" style="white-space:pre" >1</text>
<circle cx="132.5" cy="580.3" r="7" fill="none" stroke="#fff" stroke-width="1.35" shape-rendering="auto"/>
<text x="132.5" y="584.6" font-size="12" fill="#fff" text-anchor="middle" style="white-space:pre" >1</text>
<circle cx="260.5" cy="495.4" r="7" fill="none" stroke="#fff" stroke-width="1.35" shape-rendering="auto"/>
<text x="260.5" y="499.7" font-size="12" fill="#fff" text-anchor="middle" style="white-space:pre" >1</text>
<circle cx="396.5" cy="495.4" r="7" fill="none" stroke="#fff" stroke-width="1.35" shape-rendering="auto"/>
<text x="396.5" y="499.7" font-size="12" fill="#fff" text-anchor="middle" style="white-space:pre" >1</text>
<circle cx="604.5" cy="495.4" r="7" fill="none" stroke="#fff" stroke-width="1.35" shape-rendering="auto"/>
<text x="604.5" y="499.7" font-size="12" fill="#fff" text-anchor="middle" style="white-space:pre" >1</text>
<circle cx="732.5" cy="495.6" r="7" fill="none" stroke="#fff" stroke-width="1.35" shape-rendering="auto"/>
<text x="732.5" y="499.9" font-size="12" fill="#fff" text-anchor="middle" style="white-space:pre" >2</text>
<circle cx="972.5" cy="495.4" r="7" fill="none" stroke="#fff" stroke-width="1.35" shape-rendering="auto"/>
<text x="972.5" y="499.7" font-size="12" fill="#fff" text-anchor="middle" style="white-space:pre" >5</text>
<circle cx="972.5" cy="580.8" r="7" fill="none" stroke="#fff" stroke-width="1.35" shape-rendering="auto"/>
<text x="972.5" y="585.1" font-size="12" fill="#fff" text-anchor="middle" style="white-space:pre" >1</text>
<circle cx="1268.5" cy="580.8" r="7" fill="none" stroke="#fff" stroke-width="1.35" shape-rendering="auto"/>
<text x="1268.5" y="585.1" font-size="12" fill="#fff" text-anchor="middle" style="white-space:pre" >1</text>
</g>
<g clip-path="url(#c_osc)">
<text x="9.4" y="493" font-size="12.5" fill="#fff" textLength="225.60" lengthAdjust="spacingAndGlyphs" style="white-space:pre" >TEN_to_CHI_no_OSCILLATOR__ver_004</text>
<text x="238.6" y="493" font-size="12.5" fill="#fff" textLength="45.30" lengthAdjust="spacingAndGlyphs" style="white-space:pre" >46.1701</text>
<text x="290" y="493" font-size="12.5" fill="#fff" textLength="49.10" lengthAdjust="spacingAndGlyphs" style="white-space:pre" >-42.3169</text>
<text x="344.2" y="493" font-size="12.5" fill="#fff" textLength="48.40" lengthAdjust="spacingAndGlyphs" style="white-space:pre" >-21.3229</text>
</g>
<text x="1594.5" y="523" font-size="14" fill="#1E90FF" textLength="53.50" lengthAdjust="spacingAndGlyphs" style="white-space:pre" >TF1(H4)</text>
<text x="1653.5" y="523" font-size="14" fill="#1E90FF" style="white-space:pre" >:</text>
<text x="1660.5" y="523" font-size="14" fill="#1E90FF" textLength="34.30" lengthAdjust="spacingAndGlyphs" style="white-space:pre" >+46.2</text>
<text x="1702.1" y="523" font-size="14" fill="#1E90FF" style="white-space:pre" >:</text>
<text x="1728.7" y="523" font-size="14" fill="#1E90FF" textLength="33.80" lengthAdjust="spacingAndGlyphs" style="white-space:pre" >+18.5</text>
<text x="1768.7" y="523" font-size="14" fill="#1E90FF" textLength="33.80" lengthAdjust="spacingAndGlyphs" style="white-space:pre" >+15.9</text>
<text x="1808.9" y="523" font-size="14" fill="#1E90FF" textLength="34.10" lengthAdjust="spacingAndGlyphs" style="white-space:pre" >+13.6</text>
<path d="M1714.8 512.7V523.8M1712.2 515.9000000000001L1714.8 512.7L1717.3999999999999 515.9000000000001" stroke="#1E90FF" stroke-width="1.1" fill="none" shape-rendering="auto"/>
<text x="1594.5" y="542.7" font-size="14" fill="#FF0000" textLength="53.50" lengthAdjust="spacingAndGlyphs" style="white-space:pre" >TF2(D1)</text>
<text x="1653.5" y="542.7" font-size="14" fill="#FF0000" style="white-space:pre" >:</text>
<text x="1660.5" y="542.7" font-size="14" fill="#FF0000" textLength="34.30" lengthAdjust="spacingAndGlyphs" style="white-space:pre" >−42.3</text>
<text x="1702.1" y="542.7" font-size="14" fill="#FF0000" style="white-space:pre" >:</text>
<text x="1728.7" y="542.7" font-size="14" fill="#FF0000" textLength="33.80" lengthAdjust="spacingAndGlyphs" style="white-space:pre" >−30.5</text>
<text x="1768.7" y="542.7" font-size="14" fill="#FF0000" textLength="33.80" lengthAdjust="spacingAndGlyphs" style="white-space:pre" >−25.8</text>
<text x="1808.9" y="542.7" font-size="14" fill="#FF0000" textLength="34.10" lengthAdjust="spacingAndGlyphs" style="white-space:pre" >−19.6</text>
<path d="M1714.8 532.4000000000001V543.5M1712.2 540.3L1714.8 543.5L1717.3999999999999 540.3" stroke="#FF0000" stroke-width="1.1" fill="none" shape-rendering="auto"/>
<text x="1593.5" y="562.5" font-size="14" fill="#1E90FF" textLength="54.50" lengthAdjust="spacingAndGlyphs" style="white-space:pre" >TF3(W1)</text>
<text x="1653.5" y="562.5" font-size="14" fill="#1E90FF" style="white-space:pre" >:</text>
<text x="1660.5" y="562.5" font-size="14" fill="#1E90FF" textLength="34.30" lengthAdjust="spacingAndGlyphs" style="white-space:pre" >−21.3</text>
<text x="1702.1" y="562.5" font-size="14" fill="#1E90FF" style="white-space:pre" >:</text>
<text x="1728.7" y="562.5" font-size="14" fill="#1E90FF" textLength="33.80" lengthAdjust="spacingAndGlyphs" style="white-space:pre" >+18.5</text>
<text x="1768.7" y="562.5" font-size="14" fill="#1E90FF" textLength="33.80" lengthAdjust="spacingAndGlyphs" style="white-space:pre" >+25.3</text>
<text x="1808.9" y="562.5" font-size="14" fill="#1E90FF" textLength="34.10" lengthAdjust="spacingAndGlyphs" style="white-space:pre" >+24.5</text>
<path d="M1714.8 552.2V563.3M1712.2 555.4000000000001L1714.8 552.2L1717.3999999999999 555.4000000000001" stroke="#1E90FF" stroke-width="1.1" fill="none" shape-rendering="auto"/>
<g clip-path="url(#c_dx)">
<path d="M6 671.5H1515" stroke="#ffffff" stroke-width="1" stroke-dasharray="3 3" fill="none"/>
<polyline points="5.2,694.9 13.5,699.5 27,695.9 37.5,698.4 58.3,700 83.3,701 93.75,700 109.4,690 123,697 134.4,703.2 150,700.5 162.5,689.7 177,666.75 191.7,650 205.2,640.7 213.5,638.2 229.2,642.2 241.7,644.25 253,648 269.8,646.3 281.25,649.7 295.8,658.4 309.4,663.6 320.8,657.4 333.3,653.6 350,652.6 364.6,648 379.2,640.7 390.4,634.5 405,637.6 421.7,651 432,654.25 445.6,657.4 459.2,670 473.75,683 485.2,687.2 493.5,685 509.2,666.75 533,654.25 544.6,652.2 557,640.3 578,632 588.3,631.3 609.2,640.7 621.7,644.25 637.3,633 646.7,631 657,633.4 669.6,640.3 678,638.6 692.5,621 702,617.4 711.25,618.4 723.75,615.7 734.2,611 750.8,606.3 760,607.4 770.4,608 783,612.6 795.4,629.25 813,646.3 821.5,646.3 829.8,642.4 839,642.4 849.6,645.5 864,645.5 874.6,649 885,660.5 897.5,678.2 910,689.7 926.7,705.7 933,706.3 949.6,702.8 968.3,696.3 976.7,693.8 989.2,685.5 997.5,682.4 1010,676 1020.4,674.5 1033,674 1045.4,672 1058,666.75 1070.4,662.2 1080.8,663.6 1093.3,666 1110,666.3 1116.25,670 1126.7,678.2 1141.25,683 1150.4,683 1165,676.75 1177.5,678.2 1190,683.4 1198.3,682 1213,684.5 1244,685.5 1265,685 1281.7,690.7 1293,693.8 1302.5,691.75 1317,685 1327.5,686.5 1342,691.3 1358.75,691.75 1381.7,696.3 1394,691.75 1410.8,685.5 1421.25,676 1431.7,670 1442,667.4 1452.5,666.3 1462,661.5 1469.8,656" fill="none" stroke="#00FF00" stroke-width="3" stroke-linejoin="round" shape-rendering="crispEdges"/>
<polyline points="5.2,671.3 20.8,681.3 41.7,688.6 62.5,694.25 83.3,698 104,699 125,697.6 145.8,699 166.7,697 187.5,688.6 208.3,673 223,663.6 239.6,654.25 260.4,648.6 277,646.3 291.7,647 316.7,652.6 343.75,654.25 366.7,653.8 385.4,650 407,644.9 432,644.25 453,648 469.6,654.25 488.3,664.7 507,672 525.8,672 553,664.7 588.3,648 609.2,641 650.8,637.6 688.3,636 723.75,626 755,617.8 780.8,612.2 793.3,612.6 812,618.8 833,628.2 853.75,635.5 874.6,640.7 893.3,647 916.25,661.5 930.8,672 947.5,684.5 960,690.7 978.75,694.9 997.5,694.9 1020.4,688.6 1051.7,679.25 1083,671 1103.75,667.8 1118.3,667.4 1135,670 1160.8,675 1192,678.2 1223.3,682 1265,683.4 1306.7,688 1348.3,688.6 1379.6,691 1410.8,691.75 1431.7,686.5 1452.5,680.3 1469.8,674.5" fill="none" stroke="#FF00FF" stroke-width="3" stroke-linejoin="round" shape-rendering="crispEdges"/>
</g>
<g clip-path="url(#c_dx)">
<text x="8.8" y="615" font-size="12.5" fill="#fff" textLength="14.80" lengthAdjust="spacingAndGlyphs" style="white-space:pre" >H4</text>
<text x="29.6" y="615" font-size="12.5" fill="#fff" textLength="187.70" lengthAdjust="spacingAndGlyphs" style="white-space:pre" >TEN_to_CHI_no_OSCILLATOR_DX</text>
<text x="225.4" y="615" font-size="12.5" fill="#fff" textLength="45.00" lengthAdjust="spacingAndGlyphs" style="white-space:pre" >0.08881</text>
<text x="274.8" y="615" font-size="12.5" fill="#fff" textLength="50.40" lengthAdjust="spacingAndGlyphs" style="white-space:pre" >-0.01956</text>
</g>
<text x="1542.8" y="641.8" font-size="14" fill="#1E90FF" textLength="28.80" lengthAdjust="spacingAndGlyphs" style="white-space:pre" >Lime</text>
<text x="1577.8" y="641.8" font-size="14" fill="#1E90FF" textLength="56.70" lengthAdjust="spacingAndGlyphs" style="white-space:pre" >+0.08881</text>
<text x="1656.5" y="641.8" font-size="14" fill="#1E90FF" textLength="58.60" lengthAdjust="spacingAndGlyphs" style="white-space:pre" >+0.00306</text>
<text x="1720.5" y="641.8" font-size="14" fill="#1E90FF" textLength="59.00" lengthAdjust="spacingAndGlyphs" style="white-space:pre" >+0.02850</text>
<text x="1784.5" y="641.8" font-size="14" fill="#1E90FF" textLength="58.60" lengthAdjust="spacingAndGlyphs" style="white-space:pre" >+0.03216</text>
<path d="M1643 631.5V642.5999999999999M1640.4 634.7L1643 631.5L1645.6 634.7" stroke="#1E90FF" stroke-width="1.1" fill="none" shape-rendering="auto"/>
<text x="1517" y="661.9" font-size="14" fill="#1E90FF" textLength="54.60" lengthAdjust="spacingAndGlyphs" style="white-space:pre" >Distance</text>
<text x="1577.8" y="661.9" font-size="14" fill="#1E90FF" textLength="57.70" lengthAdjust="spacingAndGlyphs" style="white-space:pre" >+0.10837</text>
<text x="1656.5" y="661.9" font-size="14" fill="#1E90FF" textLength="59.40" lengthAdjust="spacingAndGlyphs" style="white-space:pre" >−0.01290</text>
<text x="1720.5" y="661.9" font-size="14" fill="#1E90FF" textLength="58.40" lengthAdjust="spacingAndGlyphs" style="white-space:pre" >+0.01165</text>
<text x="1784.5" y="661.9" font-size="14" fill="#1E90FF" textLength="59.00" lengthAdjust="spacingAndGlyphs" style="white-space:pre" >+0.01340</text>
<path d="M1643 651.6V662.6999999999999M1640.4 654.8000000000001L1643 651.6L1645.6 654.8000000000001" stroke="#1E90FF" stroke-width="1.1" fill="none" shape-rendering="auto"/>
<text x="1519.8" y="681.8" font-size="14" fill="#1E90FF" textLength="52.90" lengthAdjust="spacingAndGlyphs" style="white-space:pre" >Magenta</text>
<text x="1577.8" y="681.8" font-size="14" fill="#1E90FF" textLength="57.70" lengthAdjust="spacingAndGlyphs" style="white-space:pre" >−0.01956</text>
<text x="1656.5" y="681.8" font-size="14" fill="#1E90FF" textLength="58.60" lengthAdjust="spacingAndGlyphs" style="white-space:pre" >+0.01596</text>
<text x="1720.5" y="681.8" font-size="14" fill="#1E90FF" textLength="58.40" lengthAdjust="spacingAndGlyphs" style="white-space:pre" >+0.01685</text>
<text x="1784.5" y="681.8" font-size="14" fill="#1E90FF" textLength="58.60" lengthAdjust="spacingAndGlyphs" style="white-space:pre" >+0.01876</text>
<path d="M1643 671.5V682.5999999999999M1640.4 674.7L1643 671.5L1645.6 674.7" stroke="#1E90FF" stroke-width="1.1" fill="none" shape-rendering="auto"/>
<g clip-path="url(#c_hdx)">
<rect x="2" y="718" width="6" height="6" fill="#0000FF" />
<rect x="10" y="718" width="6" height="6" fill="#0000FF" />
<rect x="18" y="718" width="6" height="6" fill="#0000FF" />
<rect x="26" y="718" width="6" height="6" fill="#0000FF" />
<rect x="34" y="718" width="6" height="6" fill="#0000FF" />
<rect x="42" y="718" width="6" height="6" fill="#0000FF" />
<rect x="50" y="718" width="6" height="6" fill="#0000FF" />
<rect x="58" y="718" width="6" height="6" fill="#0000FF" />
<rect x="66" y="718" width="6" height="6" fill="#0000FF" />
<rect x="74" y="718" width="6" height="6" fill="#0000FF" />
<rect x="82" y="718" width="6" height="6" fill="#0000FF" />
<rect x="90" y="718" width="6" height="6" fill="#0000FF" />
<rect x="98" y="718" width="6" height="6" fill="#0000FF" />
<rect x="106" y="718" width="6" height="6" fill="#0000FF" />
<rect x="114" y="718" width="6" height="6" fill="#0000FF" />
<rect x="122" y="718" width="6" height="6" fill="#0000FF" />
<rect x="130" y="718" width="6" height="6" fill="#0000FF" />
<rect x="138" y="718" width="6" height="6" fill="#0000FF" />
<rect x="146" y="718" width="6" height="6" fill="#0000FF" />
<rect x="154" y="718" width="6" height="6" fill="#0000FF" />
<rect x="162" y="718" width="6" height="6" fill="#0000FF" />
<rect x="170" y="718" width="6" height="6" fill="#0000FF" />
<rect x="178" y="718" width="6" height="6" fill="#0000FF" />
<rect x="186" y="718" width="6" height="6" fill="#0000FF" />
<rect x="194" y="718" width="6" height="6" fill="#0000FF" />
<rect x="202" y="718" width="6" height="6" fill="#0000FF" />
<rect x="210" y="718" width="6" height="6" fill="#0000FF" />
<rect x="218" y="718" width="6" height="6" fill="#0000FF" />
<rect x="226" y="718" width="6" height="6" fill="#0000FF" />
<rect x="234" y="718" width="6" height="6" fill="#0000FF" />
<rect x="242" y="718" width="6" height="6" fill="#0000FF" />
<rect x="250" y="718" width="6" height="6" fill="#0000FF" />
<rect x="258" y="718" width="6" height="6" fill="#0000FF" />
<rect x="266" y="718" width="6" height="6" fill="#0000FF" />
<rect x="274" y="718" width="6" height="6" fill="#0000FF" />
<rect x="282" y="718" width="6" height="6" fill="#0000FF" />
<rect x="290" y="718" width="6" height="6" fill="#0000FF" />
<rect x="298" y="718" width="6" height="6" fill="#0000FF" />
<rect x="306" y="718" width="6" height="6" fill="#0000FF" />
<rect x="314" y="718" width="6" height="6" fill="#0000FF" />
<rect x="322" y="718" width="6" height="6" fill="#0000FF" />
<rect x="330" y="718" width="6" height="6" fill="#0000FF" />
<rect x="338" y="718" width="6" height="6" fill="#0000FF" />
<rect x="346" y="718" width="6" height="6" fill="#0000FF" />
<rect x="354" y="718" width="6" height="6" fill="#0000FF" />
<rect x="362" y="718" width="6" height="6" fill="#0000FF" />
<rect x="370" y="718" width="6" height="6" fill="#0000FF" />
<rect x="378" y="718" width="6" height="6" fill="#0000FF" />
<rect x="386" y="718" width="6" height="6" fill="#0000FF" />
<rect x="394" y="718" width="6" height="6" fill="#0000FF" />
<rect x="402" y="718" width="6" height="6" fill="#0000FF" />
<rect x="410" y="718" width="6" height="6" fill="#0000FF" />
<rect x="418" y="718" width="6" height="6" fill="#0000FF" />
<rect x="426" y="718" width="6" height="6" fill="#0000FF" />
<rect x="434" y="718" width="6" height="6" fill="#0000FF" />
<rect x="442" y="718" width="6" height="6" fill="#0000FF" />
<rect x="450" y="718" width="6" height="6" fill="#0000FF" />
<rect x="458" y="718" width="6" height="6" fill="#0000FF" />
<rect x="466" y="718" width="6" height="6" fill="#0000FF" />
<rect x="474" y="718" width="6" height="6" fill="#0000FF" />
<rect x="482" y="718" width="6" height="6" fill="#0000FF" />
<rect x="490" y="718" width="6" height="6" fill="#0000FF" />
<rect x="498" y="718" width="6" height="6" fill="#0000FF" />
<rect x="506" y="718" width="6" height="6" fill="#0000FF" />
<rect x="514" y="718" width="6" height="6" fill="#0000FF" />
<rect x="522" y="718" width="6" height="6" fill="#0000FF" />
<rect x="530" y="718" width="6" height="6" fill="#0000FF" />
<rect x="538" y="718" width="6" height="6" fill="#0000FF" />
<rect x="546" y="718" width="6" height="6" fill="#0000FF" />
<rect x="554" y="718" width="6" height="6" fill="#0000FF" />
<rect x="562" y="718" width="6" height="6" fill="#0000FF" />
<rect x="570" y="718" width="6" height="6" fill="#0000FF" />
<rect x="578" y="718" width="6" height="6" fill="#0000FF" />
<rect x="586" y="718" width="6" height="6" fill="#0000FF" />
<rect x="594" y="718" width="6" height="6" fill="#0000FF" />
<rect x="602" y="718" width="6" height="6" fill="#0000FF" />
<rect x="610" y="718" width="6" height="6" fill="#0000FF" />
<rect x="618" y="718" width="6" height="6" fill="#0000FF" />
<rect x="626" y="718" width="6" height="6" fill="#0000FF" />
<rect x="634" y="718" width="6" height="6" fill="#0000FF" />
<rect x="642" y="718" width="6" height="6" fill="#0000FF" />
<rect x="650" y="718" width="6" height="6" fill="#0000FF" />
<rect x="658" y="718" width="6" height="6" fill="#0000FF" />
<rect x="666" y="718" width="6" height="6" fill="#0000FF" />
<rect x="674" y="718" width="6" height="6" fill="#0000FF" />
<rect x="682" y="718" width="6" height="6" fill="#0000FF" />
<rect x="690" y="718" width="6" height="6" fill="#0000FF" />
<rect x="698" y="718" width="6" height="6" fill="#0000FF" />
<rect x="706" y="718" width="6" height="6" fill="#0000FF" />
<rect x="714" y="718" width="6" height="6" fill="#0000FF" />
<rect x="722" y="718" width="6" height="6" fill="#0000FF" />
<rect x="730" y="718" width="6" height="6" fill="#0000FF" />
<rect x="738" y="718" width="6" height="6" fill="#0000FF" />
<rect x="746" y="718" width="6" height="6" fill="#0000FF" />
<rect x="754" y="718" width="6" height="6" fill="#0000FF" />
<rect x="762" y="718" width="6" height="6" fill="#0000FF" />
<rect x="770" y="718" width="6" height="6" fill="#0000FF" />
<rect x="778" y="718" width="6" height="6" fill="#0000FF" />
<rect x="786" y="718" width="6" height="6" fill="#0000FF" />
<rect x="794" y="718" width="6" height="6" fill="#0000FF" />
<rect x="802" y="718" width="6" height="6" fill="#0000FF" />
<rect x="810" y="718" width="6" height="6" fill="#0000FF" />
<rect x="818" y="718" width="6" height="6" fill="#0000FF" />
<rect x="826" y="718" width="6" height="6" fill="#0000FF" />
<rect x="834" y="718" width="6" height="6" fill="#0000FF" />
<rect x="842" y="718" width="6" height="6" fill="#0000FF" />
<rect x="850" y="718" width="6" height="6" fill="#0000FF" />
<rect x="858" y="718" width="6" height="6" fill="#0000FF" />
<rect x="866" y="718" width="6" height="6" fill="#0000FF" />
<rect x="874" y="718" width="6" height="6" fill="#0000FF" />
<rect x="882" y="718" width="6" height="6" fill="#0000FF" />
<rect x="890" y="718" width="6" height="6" fill="#0000FF" />
<rect x="898" y="718" width="6" height="6" fill="#0000FF" />
<rect x="906" y="718" width="6" height="6" fill="#0000FF" />
<rect x="914" y="718" width="6" height="6" fill="#0000FF" />
<rect x="922" y="718" width="6" height="6" fill="#0000FF" />
<rect x="930" y="718" width="6" height="6" fill="#0000FF" />
<rect x="938" y="718" width="6" height="6" fill="#0000FF" />
<rect x="946" y="718" width="6" height="6" fill="#0000FF" />
<rect x="954" y="718" width="6" height="6" fill="#0000FF" />
<rect x="962" y="718" width="6" height="6" fill="#0000FF" />
<rect x="970" y="718" width="6" height="6" fill="#0000FF" />
<rect x="978" y="718" width="6" height="6" fill="#0000FF" />
<rect x="986" y="718" width="6" height="6" fill="#0000FF" />
<rect x="994" y="718" width="6" height="6" fill="#0000FF" />
<rect x="1002" y="718" width="6" height="6" fill="#0000FF" />
<rect x="1010" y="718" width="6" height="6" fill="#0000FF" />
<rect x="1018" y="718" width="6" height="6" fill="#0000FF" />
<rect x="1026" y="718" width="6" height="6" fill="#0000FF" />
<rect x="1034" y="718" width="6" height="6" fill="#0000FF" />
<rect x="1042" y="718" width="6" height="6" fill="#0000FF" />
<rect x="1050" y="718" width="6" height="6" fill="#0000FF" />
<rect x="1058" y="718" width="6" height="6" fill="#FFFF00" />
<rect x="1066" y="718" width="6" height="6" fill="#FFFF00" />
<rect x="1074" y="718" width="6" height="6" fill="#FFFF00" />
<rect x="1082" y="718" width="6" height="6" fill="#FFFF00" />
<rect x="1090" y="718" width="6" height="6" fill="#FF0000" />
<rect x="1098" y="718" width="6" height="6" fill="#FF0000" />
<rect x="1106" y="718" width="6" height="6" fill="#FF0000" />
<rect x="1114" y="718" width="6" height="6" fill="#FF0000" />
<rect x="1122" y="718" width="6" height="6" fill="#FF0000" />
<rect x="1130" y="718" width="6" height="6" fill="#FF0000" />
<rect x="1138" y="718" width="6" height="6" fill="#FF0000" />
<rect x="1146" y="718" width="6" height="6" fill="#FF0000" />
<rect x="1154" y="718" width="6" height="6" fill="#FF0000" />
<rect x="1162" y="718" width="6" height="6" fill="#FF0000" />
<rect x="1170" y="718" width="6" height="6" fill="#FF0000" />
<rect x="1178" y="718" width="6" height="6" fill="#FF0000" />
<rect x="1186" y="718" width="6" height="6" fill="#FF0000" />
<rect x="1194" y="718" width="6" height="6" fill="#FF0000" />
<rect x="1202" y="718" width="6" height="6" fill="#FF0000" />
<rect x="1210" y="718" width="6" height="6" fill="#FF0000" />
<rect x="1218" y="718" width="6" height="6" fill="#FF0000" />
<rect x="1226" y="718" width="6" height="6" fill="#FF0000" />
<rect x="1234" y="718" width="6" height="6" fill="#FF0000" />
<rect x="1242" y="718" width="6" height="6" fill="#FF0000" />
<rect x="1250" y="718" width="6" height="6" fill="#FF0000" />
<rect x="1258" y="718" width="6" height="6" fill="#FF0000" />
<rect x="1266" y="718" width="6" height="6" fill="#FF0000" />
<rect x="1274" y="718" width="6" height="6" fill="#FF0000" />
<rect x="1282" y="718" width="6" height="6" fill="#FF0000" />
<rect x="1290" y="718" width="6" height="6" fill="#FF0000" />
<rect x="1298" y="718" width="6" height="6" fill="#FF0000" />
<rect x="1306" y="718" width="6" height="6" fill="#FF0000" />
<rect x="1314" y="718" width="6" height="6" fill="#FF0000" />
<rect x="1322" y="718" width="6" height="6" fill="#FF0000" />
<rect x="1330" y="718" width="6" height="6" fill="#FF0000" />
<rect x="1338" y="718" width="6" height="6" fill="#FF0000" />
<rect x="1346" y="718" width="6" height="6" fill="#FF0000" />
<rect x="1354" y="718" width="6" height="6" fill="#FF0000" />
<rect x="1362" y="718" width="6" height="6" fill="#FF0000" />
<rect x="1370" y="718" width="6" height="6" fill="#FF0000" />
<rect x="1378" y="718" width="6" height="6" fill="#FF0000" />
<rect x="1386" y="718" width="6" height="6" fill="#FF0000" />
<rect x="1394" y="718" width="6" height="6" fill="#FF0000" />
<rect x="1402" y="718" width="6" height="6" fill="#FF0000" />
<rect x="1410" y="718" width="6" height="6" fill="#FF0000" />
<rect x="1418" y="718" width="6" height="6" fill="#FF0000" />
<rect x="1426" y="718" width="6" height="6" fill="#FF0000" />
<rect x="1434" y="718" width="6" height="6" fill="#FF0000" />
<rect x="1442" y="718" width="6" height="6" fill="#FF0000" />
<rect x="1450" y="718" width="6" height="6" fill="#FF0000" />
<rect x="1458" y="718" width="6" height="6" fill="#FF0000" />
<rect x="1466" y="718" width="6" height="6" fill="#FF0000" />
</g>
<g clip-path="url(#c_hdx)">
<text x="10.3" y="730" font-size="12.5" fill="#fff" textLength="182.80" lengthAdjust="spacingAndGlyphs" style="white-space:pre" >TEN_to_CHI_no_HISTOGRAM_DX</text>
<text x="199.2" y="730" font-size="12.5" fill="#fff" textLength="38.40" lengthAdjust="spacingAndGlyphs" style="white-space:pre" >0.0000</text>
</g>
<g clip-path="url(#c_yama)">
<rect x="3" y="774" width="5" height="5" fill="#6E6E6E" />
<rect x="3" y="779" width="5" height="49" fill="#FF0000" />
<rect x="11" y="774" width="5" height="5" fill="#6E6E6E" />
<rect x="19" y="773" width="5" height="6" fill="#6E6E6E" />
<rect x="27" y="773" width="5" height="6" fill="#6E6E6E" />
<rect x="35" y="774" width="5" height="5" fill="#6E6E6E" />
<rect x="43" y="775" width="5" height="4" fill="#6E6E6E" />
<rect x="51" y="776" width="5" height="3" fill="#6E6E6E" />
<rect x="59" y="778" width="5" height="1" fill="#6E6E6E" />
<rect x="75" y="780" width="5" height="2" fill="#6E6E6E" />
<rect x="83" y="780" width="5" height="3" fill="#6E6E6E" />
<rect x="91" y="780" width="5" height="4" fill="#6E6E6E" />
<rect x="99" y="780" width="5" height="1" fill="#6E6E6E" />
<rect x="107" y="778" width="5" height="1" fill="#6E6E6E" />
<rect x="115" y="780" width="5" height="2" fill="#6E6E6E" />
<rect x="123" y="780" width="5" height="5" fill="#6E6E6E" />
<rect x="131" y="780" width="5" height="8" fill="#6E6E6E" />
<rect x="139" y="780" width="5" height="10" fill="#6E6E6E" />
<rect x="147" y="780" width="5" height="10" fill="#6E6E6E" />
<rect x="155" y="780" width="5" height="7" fill="#6E6E6E" />
<rect x="163" y="780" width="5" height="2" fill="#6E6E6E" />
<rect x="171" y="774" width="5" height="5" fill="#6E6E6E" />
<rect x="179" y="768" width="5" height="11" fill="#6E6E6E" />
<rect x="187" y="763" width="5" height="16" fill="#6E6E6E" />
<rect x="195" y="760" width="5" height="19" fill="#6E6E6E" />
<rect x="203" y="758" width="5" height="21" fill="#6E6E6E" />
<rect x="211" y="757" width="5" height="22" fill="#6E6E6E" />
<rect x="219" y="758" width="5" height="21" fill="#6E6E6E" />
<rect x="227" y="759" width="5" height="20" fill="#6E6E6E" />
<rect x="235" y="759" width="5" height="20" fill="#6E6E6E" />
<rect x="243" y="760" width="5" height="19" fill="#6E6E6E" />
<rect x="251" y="761" width="5" height="18" fill="#6E6E6E" />
<rect x="259" y="759" width="5" height="20" fill="#6E6E6E" />
<rect x="267" y="758" width="5" height="21" fill="#6E6E6E" />
<rect x="275" y="758" width="5" height="21" fill="#6E6E6E" />
<rect x="283" y="760" width="5" height="19" fill="#6E6E6E" />
<rect x="291" y="765" width="5" height="14" fill="#6E6E6E" />
<rect x="299" y="771" width="5" height="8" fill="#6E6E6E" />
<rect x="307" y="772" width="5" height="7" fill="#6E6E6E" />
<rect x="315" y="769" width="5" height="10" fill="#6E6E6E" />
<rect x="323" y="765" width="5" height="14" fill="#6E6E6E" />
<rect x="331" y="763" width="5" height="16" fill="#6E6E6E" />
<rect x="339" y="760" width="5" height="19" fill="#6E6E6E" />
<rect x="347" y="759" width="5" height="20" fill="#6E6E6E" />
<rect x="355" y="757" width="5" height="22" fill="#6E6E6E" />
<rect x="363" y="754" width="5" height="25" fill="#6E6E6E" />
<rect x="371" y="750" width="5" height="29" fill="#6E6E6E" />
<rect x="379" y="746" width="5" height="33" fill="#6E6E6E" />
<rect x="387" y="747" width="5" height="32" fill="#6E6E6E" />
<rect x="395" y="749" width="5" height="30" fill="#6E6E6E" />
<rect x="403" y="753" width="5" height="26" fill="#6E6E6E" />
<rect x="411" y="759" width="5" height="20" fill="#6E6E6E" />
<rect x="419" y="763" width="5" height="16" fill="#6E6E6E" />
<rect x="427" y="766" width="5" height="13" fill="#6E6E6E" />
<rect x="427" y="779" width="5" height="49" fill="#FF0000" />
<rect x="435" y="767" width="5" height="12" fill="#6E6E6E" />
<rect x="435" y="779" width="5" height="49" fill="#FF0000" />
<rect x="443" y="769" width="5" height="10" fill="#6E6E6E" />
<rect x="443" y="779" width="5" height="49" fill="#FF0000" />
<rect x="451" y="772" width="5" height="7" fill="#6E6E6E" />
<rect x="451" y="779" width="5" height="49" fill="#FF0000" />
<rect x="459" y="775" width="5" height="4" fill="#6E6E6E" />
<rect x="459" y="779" width="5" height="49" fill="#FF0000" />
<rect x="467" y="778" width="5" height="1" fill="#6E6E6E" />
<rect x="467" y="779" width="5" height="49" fill="#FF0000" />
<rect x="475" y="780" width="5" height="1" fill="#6E6E6E" />
<rect x="483" y="780" width="5" height="3" fill="#6E6E6E" />
<rect x="491" y="780" width="5" height="1" fill="#6E6E6E" />
<rect x="499" y="774" width="5" height="5" fill="#6E6E6E" />
<rect x="507" y="768" width="5" height="11" fill="#6E6E6E" />
<rect x="515" y="763" width="5" height="16" fill="#6E6E6E" />
<rect x="523" y="759" width="5" height="20" fill="#6E6E6E" />
<rect x="531" y="756" width="5" height="23" fill="#6E6E6E" />
<rect x="539" y="754" width="5" height="25" fill="#6E6E6E" />
<rect x="547" y="751" width="5" height="28" fill="#6E6E6E" />
<rect x="555" y="747" width="5" height="32" fill="#6E6E6E" />
<rect x="563" y="743" width="5" height="36" fill="#00FF00" />
<rect x="571" y="742" width="5" height="37" fill="#00FF00" />
<rect x="579" y="741" width="5" height="38" fill="#00FF00" />
<rect x="587" y="741" width="5" height="38" fill="#00FF00" />
<rect x="595" y="742" width="5" height="37" fill="#006400" />
<rect x="603" y="745" width="5" height="34" fill="#006400" />
<rect x="611" y="747" width="5" height="32" fill="#6E6E6E" />
<rect x="619" y="748" width="5" height="31" fill="#6E6E6E" />
<rect x="627" y="749" width="5" height="30" fill="#6E6E6E" />
<rect x="635" y="749" width="5" height="30" fill="#6E6E6E" />
<rect x="643" y="748" width="5" height="31" fill="#6E6E6E" />
<rect x="651" y="749" width="5" height="30" fill="#6E6E6E" />
<rect x="659" y="750" width="5" height="29" fill="#6E6E6E" />
<rect x="667" y="752" width="5" height="27" fill="#6E6E6E" />
<rect x="675" y="750" width="5" height="29" fill="#6E6E6E" />
<rect x="683" y="749" width="5" height="30" fill="#6E6E6E" />
<rect x="691" y="748" width="5" height="31" fill="#6E6E6E" />
<rect x="699" y="749" width="5" height="30" fill="#6E6E6E" />
<rect x="707" y="749" width="5" height="30" fill="#6E6E6E" />
<rect x="715" y="748" width="5" height="31" fill="#6E6E6E" />
<rect x="723" y="747" width="5" height="32" fill="#6E6E6E" />
<rect x="731" y="745" width="5" height="34" fill="#6E6E6E" />
<rect x="739" y="743" width="5" height="36" fill="#00FF00" />
<rect x="747" y="742" width="5" height="37" fill="#00FF00" />
<rect x="755" y="740" width="5" height="39" fill="#00FF00" />
<rect x="763" y="740" width="5" height="39" fill="#00FF00" />
<rect x="771" y="740" width="5" height="39" fill="#00FF00" />
<rect x="779" y="740" width="5" height="39" fill="#00FF00" />
<rect x="787" y="744" width="5" height="35" fill="#006400" />
<rect x="795" y="747" width="5" height="32" fill="#6E6E6E" />
<rect x="803" y="751" width="5" height="28" fill="#6E6E6E" />
<rect x="811" y="753" width="5" height="26" fill="#6E6E6E" />
<rect x="819" y="752" width="5" height="27" fill="#6E6E6E" />
<rect x="827" y="749" width="5" height="30" fill="#6E6E6E" />
<rect x="835" y="748" width="5" height="31" fill="#6E6E6E" />
<rect x="843" y="747" width="5" height="32" fill="#6E6E6E" />
<rect x="851" y="746" width="5" height="33" fill="#6E6E6E" />
<rect x="859" y="745" width="5" height="34" fill="#6E6E6E" />
<rect x="867" y="745" width="5" height="34" fill="#6E6E6E" />
<rect x="875" y="746" width="5" height="33" fill="#6E6E6E" />
<rect x="883" y="750" width="5" height="29" fill="#6E6E6E" />
<rect x="891" y="755" width="5" height="24" fill="#6E6E6E" />
<rect x="899" y="760" width="5" height="19" fill="#6E6E6E" />
<rect x="907" y="764" width="5" height="15" fill="#6E6E6E" />
<rect x="907" y="779" width="5" height="49" fill="#FF0000" />
<rect x="915" y="768" width="5" height="11" fill="#6E6E6E" />
<rect x="915" y="779" width="5" height="49" fill="#FF0000" />
<rect x="923" y="772" width="5" height="7" fill="#6E6E6E" />
<rect x="923" y="779" width="5" height="49" fill="#FF0000" />
<rect x="931" y="774" width="5" height="5" fill="#6E6E6E" />
<rect x="931" y="779" width="5" height="49" fill="#FF0000" />
<rect x="939" y="773" width="5" height="6" fill="#6E6E6E" />
<rect x="947" y="771" width="5" height="8" fill="#6E6E6E" />
<rect x="955" y="770" width="5" height="9" fill="#6E6E6E" />
<rect x="963" y="767" width="5" height="12" fill="#6E6E6E" />
<rect x="971" y="767" width="5" height="12" fill="#6E6E6E" />
<rect x="979" y="766" width="5" height="13" fill="#6E6E6E" />
<rect x="987" y="765" width="5" height="14" fill="#6E6E6E" />
<rect x="995" y="764" width="5" height="15" fill="#6E6E6E" />
<rect x="1003" y="762" width="5" height="17" fill="#6E6E6E" />
<rect x="1011" y="761" width="5" height="18" fill="#6E6E6E" />
<rect x="1019" y="761" width="5" height="18" fill="#6E6E6E" />
<rect x="1027" y="761" width="5" height="18" fill="#6E6E6E" />
<rect x="1035" y="761" width="5" height="18" fill="#6E6E6E" />
<rect x="1043" y="761" width="5" height="18" fill="#6E6E6E" />
<rect x="1051" y="761" width="5" height="18" fill="#6E6E6E" />
<rect x="1059" y="761" width="5" height="18" fill="#6E6E6E" />
<rect x="1067" y="760" width="5" height="19" fill="#6E6E6E" />
<rect x="1075" y="759" width="5" height="20" fill="#6E6E6E" />
<rect x="1083" y="759" width="5" height="20" fill="#6E6E6E" />
<rect x="1091" y="760" width="5" height="19" fill="#6E6E6E" />
<rect x="1099" y="761" width="5" height="18" fill="#6E6E6E" />
<rect x="1107" y="762" width="5" height="17" fill="#6E6E6E" />
<rect x="1115" y="764" width="5" height="15" fill="#6E6E6E" />
<rect x="1123" y="769" width="5" height="10" fill="#6E6E6E" />
<rect x="1123" y="779" width="5" height="49" fill="#FF0000" />
<rect x="1131" y="774" width="5" height="5" fill="#6E6E6E" />
<rect x="1131" y="779" width="5" height="49" fill="#FF0000" />
<rect x="1139" y="777" width="5" height="2" fill="#6E6E6E" />
<rect x="1139" y="779" width="5" height="49" fill="#FF0000" />
<rect x="1147" y="778" width="5" height="1" fill="#6E6E6E" />
<rect x="1155" y="777" width="5" height="2" fill="#6E6E6E" />
<rect x="1163" y="776" width="5" height="3" fill="#6E6E6E" />
<rect x="1171" y="777" width="5" height="2" fill="#6E6E6E" />
<rect x="1179" y="780" width="5" height="1" fill="#6E6E6E" />
<rect x="1187" y="780" width="5" height="3" fill="#6E6E6E" />
<rect x="1195" y="780" width="5" height="4" fill="#6E6E6E" />
<rect x="1203" y="780" width="5" height="6" fill="#6E6E6E" />
<rect x="1211" y="780" width="5" height="6" fill="#6E6E6E" />
<rect x="1219" y="780" width="5" height="7" fill="#6E6E6E" />
<rect x="1227" y="780" width="5" height="9" fill="#6E6E6E" />
<rect x="1235" y="780" width="5" height="10" fill="#6E6E6E" />
<rect x="1243" y="780" width="5" height="12" fill="#6E6E6E" />
<rect x="1251" y="780" width="5" height="13" fill="#6E6E6E" />
<rect x="1259" y="780" width="5" height="15" fill="#6E6E6E" />
<rect x="1267" y="780" width="5" height="19" fill="#6E6E6E" />
<rect x="1275" y="780" width="5" height="24" fill="#6E6E6E" />
<rect x="1283" y="780" width="5" height="28" fill="#6E6E6E" />
<rect x="1291" y="780" width="5" height="31" fill="#6E6E6E" />
<rect x="1299" y="780" width="5" height="32" fill="#6E6E6E" />
<rect x="1307" y="780" width="5" height="29" fill="#6E6E6E" />
<rect x="1315" y="780" width="5" height="28" fill="#6E6E6E" />
<rect x="1323" y="780" width="5" height="29" fill="#6E6E6E" />
<rect x="1331" y="780" width="5" height="32" fill="#6E6E6E" />
<rect x="1339" y="780" width="5" height="35" fill="#8B008B" />
<rect x="1347" y="780" width="5" height="35" fill="#8B008B" />
<rect x="1355" y="780" width="5" height="35" fill="#8B008B" />
<rect x="1363" y="780" width="5" height="35" fill="#8B008B" />
<rect x="1371" y="780" width="5" height="34" fill="#8B008B" />
<rect x="1379" y="780" width="5" height="33" fill="#6E6E6E" />
<rect x="1387" y="780" width="5" height="31" fill="#6E6E6E" />
<rect x="1395" y="780" width="5" height="27" fill="#6E6E6E" />
<rect x="1403" y="780" width="5" height="24" fill="#6E6E6E" />
<rect x="1411" y="780" width="5" height="21" fill="#6E6E6E" />
<rect x="1419" y="780" width="5" height="17" fill="#6E6E6E" />
<rect x="1427" y="780" width="5" height="14" fill="#6E6E6E" />
<rect x="1427" y="730" width="5" height="49" fill="#0000FF" />
<rect x="1435" y="780" width="5" height="12" fill="#6E6E6E" />
<rect x="1435" y="730" width="5" height="49" fill="#0000FF" />
<rect x="1443" y="780" width="5" height="11" fill="#6E6E6E" />
<rect x="1451" y="780" width="5" height="11" fill="#6E6E6E" />
<rect x="1459" y="780" width="5" height="9" fill="#6E6E6E" />
<rect x="1467" y="780" width="5" height="7" fill="#6E6E6E" />
<path d="M6 779.5H1854" stroke="#ffffff" stroke-width="1" stroke-dasharray="3 3" fill="none"/>
</g>
<g clip-path="url(#c_yama)">
<text x="8.9" y="745" font-size="12.5" fill="#fff" textLength="15.00" lengthAdjust="spacingAndGlyphs" style="white-space:pre" >H4</text>
<text x="32.9" y="745" font-size="12.5" fill="#fff" textLength="128.10" lengthAdjust="spacingAndGlyphs" style="white-space:pre" >TEN_to_CHI_no_YAMA</text>
<text x="168.6" y="745" font-size="12.5" fill="#fff" textLength="42.70" lengthAdjust="spacingAndGlyphs" style="white-space:pre" >-8.4382</text>
<text x="216" y="745" font-size="12.5" fill="#fff" textLength="43.50" lengthAdjust="spacingAndGlyphs" style="white-space:pre" >-8.4382</text>
</g>
<g clip-path="url(#c_p1)">
<text x="10.7" y="852" font-size="15" fill="#fff" textLength="57.10" lengthAdjust="spacingAndGlyphs" style="white-space:pre" >USDJPY</text>
<text x="79.8" y="852" font-size="15" fill="#fff" textLength="61.60" lengthAdjust="spacingAndGlyphs" style="white-space:pre" >EURUSD</text>
<text x="153.2" y="852" font-size="15" fill="#FFFF00" textLength="61.00" lengthAdjust="spacingAndGlyphs" style="white-space:pre" >EURGBP</text>
<text x="225.8" y="852" font-size="15" fill="#fff" textLength="62.50" lengthAdjust="spacingAndGlyphs" style="white-space:pre" >GBPUSD</text>
<text x="299.8" y="852" font-size="15" fill="#fff" textLength="63.50" lengthAdjust="spacingAndGlyphs" style="white-space:pre" >AUDUSD</text>
<text x="375.2" y="852" font-size="15" fill="#fff" textLength="62.20" lengthAdjust="spacingAndGlyphs" style="white-space:pre" >USDCAD</text>
<text x="449.2" y="852" font-size="15" fill="#fff" textLength="55.35" lengthAdjust="spacingAndGlyphs" style="white-space:pre" >EURJPY</text>
<text x="516.2" y="852" font-size="15" fill="#fff" textLength="58.00" lengthAdjust="spacingAndGlyphs" style="white-space:pre" >CADJPY</text>
<text x="585.9" y="852" font-size="15" fill="#fff" textLength="57.60" lengthAdjust="spacingAndGlyphs" style="white-space:pre" >AUDJPY</text>
<text x="655.9" y="852" font-size="15" fill="#fff" textLength="57.20" lengthAdjust="spacingAndGlyphs" style="white-space:pre" >GBPJPY</text>
<text x="724.9" y="852" font-size="15" fill="#fff" textLength="56.90" lengthAdjust="spacingAndGlyphs" style="white-space:pre" >NZDJPY</text>
<text x="793.5" y="852" font-size="15" fill="#fff" textLength="56.30" lengthAdjust="spacingAndGlyphs" style="white-space:pre" >CHFJPY</text>
<text x="861.9" y="852" font-size="15" fill="#fff" textLength="61.20" lengthAdjust="spacingAndGlyphs" style="white-space:pre" >USDCHF</text>
<text x="934.9" y="852" font-size="15" fill="#fff" textLength="62.60" lengthAdjust="spacingAndGlyphs" style="white-space:pre" >NZDUSD</text>
<text x="1009.2" y="852" font-size="15" fill="#fff" textLength="62.60" lengthAdjust="spacingAndGlyphs" style="white-space:pre" >AUDNZD</text>
<text x="1083.5" y="852" font-size="15" fill="#fff" textLength="43.00" lengthAdjust="spacingAndGlyphs" style="white-space:pre" >GOLD</text>
</g><g clip-path="url(#c_p2)">
<text x="10.7" y="878.2" font-size="15" fill="#fff" textLength="63.50" lengthAdjust="spacingAndGlyphs" style="white-space:pre" >AUDCAD</text>
<text x="86.1" y="878.2" font-size="15" fill="#fff" textLength="61.60" lengthAdjust="spacingAndGlyphs" style="white-space:pre" >AUDCHF</text>
<text x="159.5" y="878.2" font-size="15" fill="#fff" textLength="62.30" lengthAdjust="spacingAndGlyphs" style="white-space:pre" >CADCHF</text>
<text x="232.95" y="878.2" font-size="15" fill="#fff" textLength="62.25" lengthAdjust="spacingAndGlyphs" style="white-space:pre" >EURAUD</text>
<text x="307" y="878.2" font-size="15" fill="#fff" textLength="61.60" lengthAdjust="spacingAndGlyphs" style="white-space:pre" >EURCAD</text>
<text x="380.45" y="878.2" font-size="15" fill="#fff" textLength="60.35" lengthAdjust="spacingAndGlyphs" style="white-space:pre" >EURCHF</text>
<text x="451.7" y="878.2" font-size="15" fill="#fff" textLength="61.60" lengthAdjust="spacingAndGlyphs" style="white-space:pre" >EURNZD</text>
<text x="524.2" y="878.2" font-size="15" fill="#fff" textLength="63.50" lengthAdjust="spacingAndGlyphs" style="white-space:pre" >GBPAUD</text>
<text x="599.9" y="878.2" font-size="15" fill="#fff" textLength="60.90" lengthAdjust="spacingAndGlyphs" style="white-space:pre" >GBPCHF</text>
<text x="673.2" y="878.2" font-size="15" fill="#fff" textLength="61.90" lengthAdjust="spacingAndGlyphs" style="white-space:pre" >GBPCAD</text>
<text x="746.9" y="878.2" font-size="15" fill="#fff" textLength="62.20" lengthAdjust="spacingAndGlyphs" style="white-space:pre" >GBPNZD</text>
<text x="820.9" y="878.2" font-size="15" fill="#fff" textLength="62.20" lengthAdjust="spacingAndGlyphs" style="white-space:pre" >NZDCAD</text>
<text x="894.9" y="878.2" font-size="15" fill="#fff" textLength="61.60" lengthAdjust="spacingAndGlyphs" style="white-space:pre" >NZDCHF</text>
<text x="967.5" y="878.2" font-size="15" fill="#fff" textLength="51.00" lengthAdjust="spacingAndGlyphs" style="white-space:pre" >SILVER</text>
<text x="1029.2" y="878.2" font-size="15" fill="#fff" textLength="76.60" lengthAdjust="spacingAndGlyphs" style="white-space:pre" >JP225Cash</text>
<text x="1117.5" y="878.2" font-size="15" fill="#fff" textLength="61.00" lengthAdjust="spacingAndGlyphs" style="white-space:pre" >BTCUSD</text>
</g>
<g clip-path="url(#s_h4)">
<text x="1858.6" y="426.8" font-size="12.5" fill="#fff" textLength="6.87" lengthAdjust="spacingAndGlyphs" style="white-space:pre" >0</text>
</g>
<g clip-path="url(#s_h4)">
<text x="1858.6" y="429" font-size="12.5" fill="#fff" textLength="6.87" lengthAdjust="spacingAndGlyphs" style="white-space:pre" >1</text>
</g>
<g clip-path="url(#s_d1)">
<text x="1858.6" y="438.7" font-size="12.5" fill="#fff" textLength="6.87" lengthAdjust="spacingAndGlyphs" style="white-space:pre" >0</text>
</g>
<g clip-path="url(#s_d1)">
<text x="1858.6" y="444.9" font-size="12.5" fill="#fff" textLength="6.87" lengthAdjust="spacingAndGlyphs" style="white-space:pre" >1</text>
</g>
<g clip-path="url(#s_w1)">
<text x="1858.6" y="454.3" font-size="12.5" fill="#fff" textLength="6.87" lengthAdjust="spacingAndGlyphs" style="white-space:pre" >0</text>
</g>
<g clip-path="url(#s_w1)">
<text x="1858.6" y="459.2" font-size="12.5" fill="#fff" textLength="6.87" lengthAdjust="spacingAndGlyphs" style="white-space:pre" >1</text>
</g>
<g clip-path="url(#s_mn)">
<text x="1858.6" y="472" font-size="12.5" fill="#fff" textLength="6.87" lengthAdjust="spacingAndGlyphs" style="white-space:pre" >0</text>
</g>
<g clip-path="url(#s_mn)">
<text x="1858.6" y="474" font-size="12.5" fill="#fff" textLength="6.87" lengthAdjust="spacingAndGlyphs" style="white-space:pre" >1</text>
</g>
<g clip-path="url(#s_osc)">
<text x="1859.2" y="490.6" font-size="12.5" fill="#fff" textLength="19.70" lengthAdjust="spacingAndGlyphs" style="white-space:pre" >110</text>
</g>
<g clip-path="url(#s_osc)">
<text x="1858.3" y="499.4" font-size="12.5" fill="#fff" textLength="13.75" lengthAdjust="spacingAndGlyphs" style="white-space:pre" >80</text>
</g>
<g clip-path="url(#s_osc)">
<text x="1858.3" y="541.8" font-size="12.5" fill="#fff" textLength="24.05" lengthAdjust="spacingAndGlyphs" style="white-space:pre" >0.00</text>
</g>
<g clip-path="url(#s_osc)">
<text x="1859" y="541.8" font-size="12.5" fill="#fff" textLength="6.87" lengthAdjust="spacingAndGlyphs" style="white-space:pre" >0</text>
</g>
<g clip-path="url(#s_osc)">
<text x="1857.2" y="584.6" font-size="12.5" fill="#fff" textLength="17.86" lengthAdjust="spacingAndGlyphs" style="white-space:pre" >-80</text>
</g>
<g clip-path="url(#s_osc)">
<text x="1858.5" y="594" font-size="12.5" fill="#fff" textLength="23.82" lengthAdjust="spacingAndGlyphs" style="white-space:pre" >-110</text>
</g>
<g clip-path="url(#s_dx)">
<text x="1858.4" y="613" font-size="12.5" fill="#fff" textLength="45.60" lengthAdjust="spacingAndGlyphs" style="white-space:pre" >0.43339</text>
</g>
<g clip-path="url(#s_dx)">
<text x="1858.3" y="675.8" font-size="12.5" fill="#fff" textLength="24.05" lengthAdjust="spacingAndGlyphs" style="white-space:pre" >0.00</text>
</g>
<g clip-path="url(#s_dx)">
<text x="1859" y="675.8" font-size="12.5" fill="#fff" textLength="6.87" lengthAdjust="spacingAndGlyphs" style="white-space:pre" >0</text>
</g>
<g clip-path="url(#s_dx)">
<text x="1858" y="708.6" font-size="12.5" fill="#fff" textLength="50.20" lengthAdjust="spacingAndGlyphs" style="white-space:pre" >-0.25118</text>
</g>
<g clip-path="url(#s_hdx)">
<text x="1858.3" y="726.4" font-size="12.5" fill="#fff" textLength="6.87" lengthAdjust="spacingAndGlyphs" style="white-space:pre" >0</text>
</g>
<g clip-path="url(#s_hdx)">
<text x="1861.6" y="726.4" font-size="12.5" fill="#fff" textLength="6.87" lengthAdjust="spacingAndGlyphs" style="white-space:pre" >1</text>
</g>
<g clip-path="url(#s_hdx)">
<text x="1865.6" y="726.4" font-size="12.5" fill="#fff" textLength="17.18" lengthAdjust="spacingAndGlyphs" style="white-space:pre" >.00</text>
</g>
<g clip-path="url(#s_yama)">
<text x="1858.3" y="742.5" font-size="12.5" fill="#fff" textLength="13.75" lengthAdjust="spacingAndGlyphs" style="white-space:pre" >60</text>
</g>
<g clip-path="url(#s_yama)">
<text x="1858.3" y="783.4" font-size="12.5" fill="#fff" textLength="24.05" lengthAdjust="spacingAndGlyphs" style="white-space:pre" >0.00</text>
</g>
<g clip-path="url(#s_yama)">
<text x="1859" y="783.4" font-size="12.5" fill="#fff" textLength="6.87" lengthAdjust="spacingAndGlyphs" style="white-space:pre" >0</text>
</g>
<g clip-path="url(#s_yama)">
<text x="1857.5" y="824" font-size="12.5" fill="#fff" textLength="17.86" lengthAdjust="spacingAndGlyphs" style="white-space:pre" >-60</text>
</g>
<g clip-path="url(#s_p1)">
<text x="1858.6" y="843.7" font-size="12.5" fill="#fff" textLength="6.87" lengthAdjust="spacingAndGlyphs" style="white-space:pre" >6</text>
</g>
<g clip-path="url(#s_p1)">
<text x="1858.6" y="851.1" font-size="12.5" fill="#fff" textLength="6.87" lengthAdjust="spacingAndGlyphs" style="white-space:pre" >0</text>
</g>
<g clip-path="url(#s_p2)">
<text x="1858.6" y="869.4" font-size="12.5" fill="#fff" textLength="6.87" lengthAdjust="spacingAndGlyphs" style="white-space:pre" >6</text>
</g>
<g clip-path="url(#s_p2)">
<text x="1858.6" y="875.2" font-size="12.5" fill="#fff" textLength="6.87" lengthAdjust="spacingAndGlyphs" style="white-space:pre" >0</text>
</g>
<rect x="1855" y="417" width="1" height="1" fill="#fff" />
<rect x="1855" y="429" width="1" height="1" fill="#fff" />
<rect x="1855" y="434" width="1" height="1" fill="#fff" />
<rect x="1855" y="442" width="1" height="1" fill="#fff" />
<rect x="1855" y="447" width="1" height="1" fill="#fff" />
<rect x="1855" y="457" width="1" height="1" fill="#fff" />
<rect x="1855" y="462" width="1" height="1" fill="#fff" />
<rect x="1855" y="474" width="1" height="1" fill="#fff" />
<rect x="1855" y="716" width="1" height="1" fill="#fff" />
<rect x="1855" y="726" width="1" height="1" fill="#fff" />
<rect x="1855" y="832" width="1" height="1" fill="#fff" />
<rect x="1855" y="853" width="1" height="1" fill="#fff" />
<rect x="1855" y="858" width="1" height="1" fill="#fff" />
<rect x="1855" y="877" width="1" height="1" fill="#fff" />
<rect x="1855" y="479" width="2" height="1" fill="#fff" />
<rect x="1855" y="495" width="2" height="1" fill="#fff" />
<rect x="1855" y="537" width="2" height="1" fill="#fff" />
<rect x="1855" y="581" width="2" height="1" fill="#fff" />
<rect x="1855" y="596" width="2" height="1" fill="#fff" />
<rect x="1855" y="601" width="2" height="1" fill="#fff" />
<rect x="1855" y="671" width="2" height="1" fill="#fff" />
<rect x="1855" y="710" width="2" height="1" fill="#fff" />
<rect x="1855" y="731" width="2" height="1" fill="#fff" />
<rect x="1855" y="779" width="2" height="1" fill="#fff" />
<rect x="1855" y="826" width="2" height="1" fill="#fff" />
<rect x="4.5" y="2.5" width="1850" height="411" fill="none" stroke="#fff" stroke-width="1"/>
<rect x="4.5" y="415.5" width="1850" height="15" fill="none" stroke="#fff" stroke-width="1"/>
<rect x="4.5" y="432.5" width="1850" height="11" fill="none" stroke="#fff" stroke-width="1"/>
<rect x="4.5" y="445.5" width="1850" height="13" fill="none" stroke="#fff" stroke-width="1"/>
<rect x="4.5" y="460.5" width="1850" height="15" fill="none" stroke="#fff" stroke-width="1"/>
<rect x="4.5" y="477.5" width="1850" height="120" fill="none" stroke="#fff" stroke-width="1"/>
<rect x="4.5" y="599.5" width="1850" height="113" fill="none" stroke="#fff" stroke-width="1"/>
<rect x="4.5" y="714.5" width="1850" height="13" fill="none" stroke="#fff" stroke-width="1"/>
<rect x="4.5" y="729.5" width="1850" height="99" fill="none" stroke="#fff" stroke-width="1"/>
<rect x="4.5" y="830.5" width="1850" height="24" fill="none" stroke="#fff" stroke-width="1"/>
<rect x="4.5" y="856.5" width="1850" height="22" fill="none" stroke="#fff" stroke-width="1"/>
<rect x="5" y="879" width="1" height="3" fill="#fff" />
<text x="4.7" y="894" font-size="12.5" fill="#fff" textLength="63.23" lengthAdjust="spacingAndGlyphs" style="white-space:pre" >1 Sep 2023</text>
<rect x="101" y="879" width="1" height="3" fill="#fff" />
<text x="100.7" y="894" font-size="12.5" fill="#fff" textLength="66.66" lengthAdjust="spacingAndGlyphs" style="white-space:pre" >5 Sep 08:00</text>
<rect x="197" y="879" width="1" height="3" fill="#fff" />
<text x="196.7" y="894" font-size="12.5" fill="#fff" textLength="66.66" lengthAdjust="spacingAndGlyphs" style="white-space:pre" >7 Sep 08:00</text>
<rect x="293" y="879" width="1" height="3" fill="#fff" />
<text x="292.7" y="894" font-size="12.5" fill="#fff" textLength="72.61" lengthAdjust="spacingAndGlyphs" style="white-space:pre" >11 Sep 08:00</text>
<rect x="389" y="879" width="1" height="3" fill="#fff" />
<text x="388.7" y="894" font-size="12.5" fill="#fff" textLength="73.53" lengthAdjust="spacingAndGlyphs" style="white-space:pre" >13 Sep 08:00</text>
<rect x="485" y="879" width="1" height="3" fill="#fff" />
<text x="484.7" y="894" font-size="12.5" fill="#fff" textLength="73.53" lengthAdjust="spacingAndGlyphs" style="white-space:pre" >15 Sep 08:00</text>
<rect x="581" y="879" width="1" height="3" fill="#fff" />
<text x="580.7" y="894" font-size="12.5" fill="#fff" textLength="73.53" lengthAdjust="spacingAndGlyphs" style="white-space:pre" >19 Sep 08:00</text>
<rect x="677" y="879" width="1" height="3" fill="#fff" />
<text x="676.7" y="894" font-size="12.5" fill="#fff" textLength="73.53" lengthAdjust="spacingAndGlyphs" style="white-space:pre" >21 Sep 08:00</text>
<rect x="773" y="879" width="1" height="3" fill="#fff" />
<text x="772.7" y="894" font-size="12.5" fill="#fff" textLength="73.53" lengthAdjust="spacingAndGlyphs" style="white-space:pre" >25 Sep 08:00</text>
<rect x="869" y="879" width="1" height="3" fill="#fff" />
<text x="868.7" y="894" font-size="12.5" fill="#fff" textLength="73.53" lengthAdjust="spacingAndGlyphs" style="white-space:pre" >27 Sep 08:00</text>
<rect x="965" y="879" width="1" height="3" fill="#fff" />
<text x="964.7" y="894" font-size="12.5" fill="#fff" textLength="73.53" lengthAdjust="spacingAndGlyphs" style="white-space:pre" >29 Sep 08:00</text>
<rect x="1061" y="879" width="1" height="3" fill="#fff" />
<text x="1060.7" y="894" font-size="12.5" fill="#fff" textLength="63.90" lengthAdjust="spacingAndGlyphs" style="white-space:pre" >3 Oct 08:00</text>
<rect x="1157" y="879" width="1" height="3" fill="#fff" />
<text x="1156.7" y="894" font-size="12.5" fill="#fff" textLength="63.90" lengthAdjust="spacingAndGlyphs" style="white-space:pre" >5 Oct 08:00</text>
<rect x="1253" y="879" width="1" height="3" fill="#fff" />
<text x="1252.7" y="894" font-size="12.5" fill="#fff" textLength="63.90" lengthAdjust="spacingAndGlyphs" style="white-space:pre" >9 Oct 08:00</text>
<rect x="1349" y="879" width="1" height="3" fill="#fff" />
<text x="1348.7" y="894" font-size="12.5" fill="#fff" textLength="69.85" lengthAdjust="spacingAndGlyphs" style="white-space:pre" >11 Oct 08:00</text>
<rect x="1445" y="879" width="1" height="3" fill="#fff" />
<text x="1444.7" y="894" font-size="12.5" fill="#fff" textLength="70.77" lengthAdjust="spacingAndGlyphs" style="white-space:pre" >13 Oct 08:00</text>
</svg></body></html>
